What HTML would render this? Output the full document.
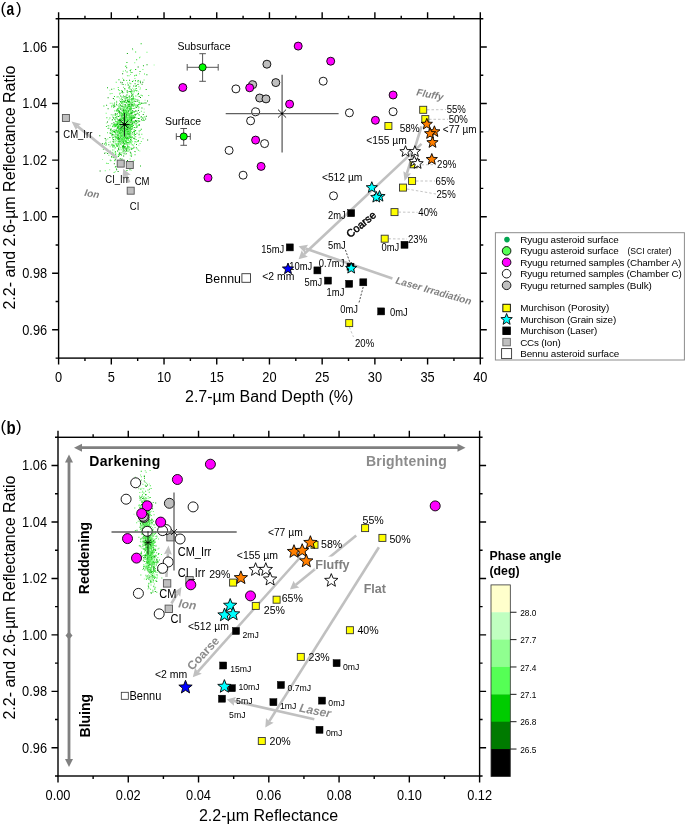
<!DOCTYPE html>
<html><head><meta charset="utf-8"><style>
html,body{margin:0;padding:0;background:#fff;}
svg{display:block;will-change:transform;font-family:"Liberation Sans", sans-serif;}
</style></head><body>
<svg width="685" height="825" viewBox="0 0 685 825">
<rect width="685" height="825" fill="#fff"/>
<path fill="#44ee44" d="M114.09 131.17h1.0v1.0h-1.0zM113.26 139.39h1.0v1.0h-1.0zM115.9 168.3h1.0v1.0h-1.0zM131.26 137.16h1.0v1.0h-1.0zM138.62 101.84h1.0v1.0h-1.0zM126.74 124.93h1.0v1.0h-1.0zM137.87 149.77h1.0v1.0h-1.0zM130.46 106.46h1.0v1.0h-1.0zM123.35 162.98h1.0v1.0h-1.0zM128.85 127.48h1.0v1.0h-1.0zM122.47 113.12h1.0v1.0h-1.0zM122.46 118.13h1.0v1.0h-1.0zM126.74 128.99h1.0v1.0h-1.0zM125.77 130.62h1.0v1.0h-1.0zM123.2 133.83h1.0v1.0h-1.0zM127.05 119.8h1.0v1.0h-1.0zM123.48 135.37h1.0v1.0h-1.0zM118.58 123.84h1.0v1.0h-1.0zM124.53 114.99h1.0v1.0h-1.0zM122.85 145.71h1.0v1.0h-1.0zM121.23 116.96h1.0v1.0h-1.0zM132.72 144.73h1.0v1.0h-1.0zM127.49 118.78h1.0v1.0h-1.0zM141.72 117.42h1.0v1.0h-1.0zM132.08 144.29h1.0v1.0h-1.0zM111.41 156.64h1.0v1.0h-1.0zM121.84 118.04h1.0v1.0h-1.0zM131.36 95.15h1.0v1.0h-1.0zM112.23 116.51h1.0v1.0h-1.0zM126.54 131.39h1.0v1.0h-1.0zM117.75 86.92h1.0v1.0h-1.0zM119.13 107.42h1.0v1.0h-1.0zM133.37 117.86h1.0v1.0h-1.0zM144.01 73.52h1.0v1.0h-1.0zM127.05 124.47h1.0v1.0h-1.0zM119.85 133.26h1.0v1.0h-1.0zM123.12 128.23h1.0v1.0h-1.0zM127.37 131.98h1.0v1.0h-1.0zM129.4 110.14h1.0v1.0h-1.0zM130.36 116.65h1.0v1.0h-1.0zM123.58 104.6h1.0v1.0h-1.0zM125.99 127.96h1.0v1.0h-1.0zM116.12 144.64h1.0v1.0h-1.0zM127.27 139.37h1.0v1.0h-1.0zM124.35 110.23h1.0v1.0h-1.0zM114.5 135.67h1.0v1.0h-1.0zM126.01 128.58h1.0v1.0h-1.0zM118.6 111.68h1.0v1.0h-1.0zM126.16 79.94h1.0v1.0h-1.0zM117.85 121.32h1.0v1.0h-1.0zM125.74 102.18h1.0v1.0h-1.0zM122.66 125.67h1.0v1.0h-1.0zM120.69 135.41h1.0v1.0h-1.0zM127.53 111.03h1.0v1.0h-1.0zM131.12 123.88h1.0v1.0h-1.0zM115.2 130.81h1.0v1.0h-1.0zM128.8 95.14h1.0v1.0h-1.0zM124.94 134.82h1.0v1.0h-1.0zM120.59 137.43h1.0v1.0h-1.0zM109.67 93.16h1.0v1.0h-1.0zM119.58 143.48h1.0v1.0h-1.0zM114.81 124.77h1.0v1.0h-1.0zM125.24 140.24h1.0v1.0h-1.0zM132.77 93.61h1.0v1.0h-1.0zM128.91 123.57h1.0v1.0h-1.0zM131.66 141.16h1.0v1.0h-1.0zM123.32 121.75h1.0v1.0h-1.0zM125.78 135.62h1.0v1.0h-1.0zM137.54 120.07h1.0v1.0h-1.0zM111.3 105.79h1.0v1.0h-1.0zM125.98 125.1h1.0v1.0h-1.0zM141.32 133.66h1.0v1.0h-1.0zM134.81 107.14h1.0v1.0h-1.0zM118.1 124.86h1.0v1.0h-1.0zM121.58 130.88h1.0v1.0h-1.0zM130.21 111.16h1.0v1.0h-1.0zM124.61 116.03h1.0v1.0h-1.0zM120.93 98.17h1.0v1.0h-1.0zM114.81 166.8h1.0v1.0h-1.0zM119.54 135.5h1.0v1.0h-1.0zM127.56 148.27h1.0v1.0h-1.0zM135.83 124.49h1.0v1.0h-1.0zM118.32 130.58h1.0v1.0h-1.0zM115.05 139.37h1.0v1.0h-1.0zM105.92 144.32h1.0v1.0h-1.0zM119.88 125.35h1.0v1.0h-1.0zM119.1 121.94h1.0v1.0h-1.0zM115.84 143.59h1.0v1.0h-1.0zM120.4 139.25h1.0v1.0h-1.0zM128.18 134.35h1.0v1.0h-1.0zM121.01 128.93h1.0v1.0h-1.0zM120.01 127.36h1.0v1.0h-1.0zM138.89 103.71h1.0v1.0h-1.0zM130 112.09h1.0v1.0h-1.0zM137.92 120.96h1.0v1.0h-1.0zM133.65 90.1h1.0v1.0h-1.0zM129.26 97.67h1.0v1.0h-1.0zM136.93 121.7h1.0v1.0h-1.0zM121.46 152.15h1.0v1.0h-1.0zM124.82 115.17h1.0v1.0h-1.0zM131.64 115.41h1.0v1.0h-1.0zM132.21 111.1h1.0v1.0h-1.0zM127.33 101.12h1.0v1.0h-1.0zM119.35 141.19h1.0v1.0h-1.0zM138.59 100.23h1.0v1.0h-1.0zM125.67 148.54h1.0v1.0h-1.0zM121.89 136.35h1.0v1.0h-1.0zM122.36 129.93h1.0v1.0h-1.0zM107.03 132.28h1.0v1.0h-1.0zM131.31 97.97h1.0v1.0h-1.0zM119.9 143.54h1.0v1.0h-1.0zM131.42 125.97h1.0v1.0h-1.0zM124.1 141.16h1.0v1.0h-1.0zM126.55 112.72h1.0v1.0h-1.0zM123.65 125.26h1.0v1.0h-1.0zM114.15 125.32h1.0v1.0h-1.0zM118.26 142.96h1.0v1.0h-1.0zM122.66 124.92h1.0v1.0h-1.0zM124.32 112.45h1.0v1.0h-1.0zM127.55 137.47h1.0v1.0h-1.0zM119.44 152.32h1.0v1.0h-1.0zM125.49 129.54h1.0v1.0h-1.0zM120.65 149.23h1.0v1.0h-1.0zM116.06 144.2h1.0v1.0h-1.0zM120.58 114.04h1.0v1.0h-1.0zM129.37 96.76h1.0v1.0h-1.0zM124.94 137.04h1.0v1.0h-1.0zM125.25 113.57h1.0v1.0h-1.0zM131.08 118.65h1.0v1.0h-1.0zM135.21 136.22h1.0v1.0h-1.0zM117.64 111.13h1.0v1.0h-1.0zM115.49 142.9h1.0v1.0h-1.0zM134.62 140.94h1.0v1.0h-1.0zM124.4 107.05h1.0v1.0h-1.0zM120.72 141.2h1.0v1.0h-1.0zM124.9 108.72h1.0v1.0h-1.0zM133.72 118.11h1.0v1.0h-1.0zM134.41 138.74h1.0v1.0h-1.0zM124.94 113h1.0v1.0h-1.0zM123.68 132.53h1.0v1.0h-1.0zM128.22 123.74h1.0v1.0h-1.0zM132.93 98.14h1.0v1.0h-1.0zM121.58 136.34h1.0v1.0h-1.0zM127.85 138.62h1.0v1.0h-1.0zM129.73 125.22h1.0v1.0h-1.0zM117.99 137.03h1.0v1.0h-1.0zM117.48 143.4h1.0v1.0h-1.0zM112.72 130.63h1.0v1.0h-1.0zM120.17 124.51h1.0v1.0h-1.0zM130.33 83.25h1.0v1.0h-1.0zM138.38 86.37h1.0v1.0h-1.0zM127.55 114.54h1.0v1.0h-1.0zM141.91 95.17h1.0v1.0h-1.0zM122.92 130.05h1.0v1.0h-1.0zM127.06 100.1h1.0v1.0h-1.0zM128.97 140.81h1.0v1.0h-1.0zM119.1 120.12h1.0v1.0h-1.0zM115.73 81.71h1.0v1.0h-1.0zM110.98 128.54h1.0v1.0h-1.0zM123.02 108.43h1.0v1.0h-1.0zM129.27 82.42h1.0v1.0h-1.0zM126.6 123.51h1.0v1.0h-1.0zM126.77 113.89h1.0v1.0h-1.0zM117.99 124.91h1.0v1.0h-1.0zM128.21 139.95h1.0v1.0h-1.0zM127.38 106.61h1.0v1.0h-1.0zM118.88 132.32h1.0v1.0h-1.0zM128.27 128.89h1.0v1.0h-1.0zM112.22 149.6h1.0v1.0h-1.0zM130.8 107.68h1.0v1.0h-1.0zM131.11 90.86h1.0v1.0h-1.0zM129.65 128.62h1.0v1.0h-1.0zM117.91 155.42h1.0v1.0h-1.0zM113.22 153.61h1.0v1.0h-1.0zM139.62 102.52h1.0v1.0h-1.0zM135.75 139.08h1.0v1.0h-1.0zM114.31 156.21h1.0v1.0h-1.0zM114.41 134.43h1.0v1.0h-1.0zM133.81 91.14h1.0v1.0h-1.0zM124.01 115.24h1.0v1.0h-1.0zM123.46 132.85h1.0v1.0h-1.0zM117.67 143.49h1.0v1.0h-1.0zM132.88 114.97h1.0v1.0h-1.0zM131.79 136.44h1.0v1.0h-1.0zM129.45 132.74h1.0v1.0h-1.0zM129.78 127.47h1.0v1.0h-1.0zM122.05 138.7h1.0v1.0h-1.0zM120.57 118.27h1.0v1.0h-1.0zM121.8 114.38h1.0v1.0h-1.0zM127.66 114.99h1.0v1.0h-1.0zM124.52 124.12h1.0v1.0h-1.0zM131.17 139.5h1.0v1.0h-1.0zM126.64 97.49h1.0v1.0h-1.0zM134.84 88.38h1.0v1.0h-1.0zM121.69 134.75h1.0v1.0h-1.0zM132.25 120.98h1.0v1.0h-1.0zM125.2 122.46h1.0v1.0h-1.0zM117.42 134.76h1.0v1.0h-1.0zM126.51 131.03h1.0v1.0h-1.0zM126.24 122.8h1.0v1.0h-1.0z"/><path fill="#00a000" d="M125.84 118.43h1.0v1.0h-1.0zM120.04 129.71h1.0v1.0h-1.0zM122.95 127.2h1.0v1.0h-1.0zM131.73 118.48h1.0v1.0h-1.0zM120.26 81.86h1.0v1.0h-1.0zM134.1 137.78h1.0v1.0h-1.0zM117.61 131.11h1.0v1.0h-1.0zM126.87 53.08h1.0v1.0h-1.0zM127.03 159.93h1.0v1.0h-1.0zM131.58 97.89h1.0v1.0h-1.0zM123.26 119.82h1.0v1.0h-1.0zM128.58 115.64h1.0v1.0h-1.0zM122.28 127.5h1.0v1.0h-1.0zM131.17 95.74h1.0v1.0h-1.0zM127.73 125.56h1.0v1.0h-1.0zM123.28 123.92h1.0v1.0h-1.0zM132.72 104.52h1.0v1.0h-1.0zM117.24 132.28h1.0v1.0h-1.0zM114.03 130.98h1.0v1.0h-1.0zM116.86 122.56h1.0v1.0h-1.0zM145.92 115.85h1.0v1.0h-1.0zM125.22 117.75h1.0v1.0h-1.0zM131.76 128.13h1.0v1.0h-1.0zM116.96 137.16h1.0v1.0h-1.0zM131.53 136.74h1.0v1.0h-1.0zM111.03 156.15h1.0v1.0h-1.0zM126.44 147.78h1.0v1.0h-1.0zM124.1 88.27h1.0v1.0h-1.0zM128.84 101.1h1.0v1.0h-1.0zM128.2 110.84h1.0v1.0h-1.0zM123.28 109.05h1.0v1.0h-1.0zM125.65 116.59h1.0v1.0h-1.0zM120.35 135.4h1.0v1.0h-1.0zM122.81 124.2h1.0v1.0h-1.0zM120.45 125.45h1.0v1.0h-1.0zM129.49 122.4h1.0v1.0h-1.0zM146.53 64.19h1.0v1.0h-1.0zM135.44 120.47h1.0v1.0h-1.0zM123.06 124.57h1.0v1.0h-1.0zM126.49 139.12h1.0v1.0h-1.0zM129.58 131.33h1.0v1.0h-1.0zM127.06 129.47h1.0v1.0h-1.0zM127.69 84.56h1.0v1.0h-1.0zM120.95 129.42h1.0v1.0h-1.0zM122.5 121.57h1.0v1.0h-1.0zM126.29 137.68h1.0v1.0h-1.0zM116.78 122.72h1.0v1.0h-1.0zM120.33 161.65h1.0v1.0h-1.0zM131.99 48.38h1.0v1.0h-1.0zM126.29 132.67h1.0v1.0h-1.0zM129.36 115.4h1.0v1.0h-1.0zM127.09 124.35h1.0v1.0h-1.0zM121.61 142.83h1.0v1.0h-1.0zM125.74 124.22h1.0v1.0h-1.0zM116.01 103.83h1.0v1.0h-1.0zM114.41 123.51h1.0v1.0h-1.0zM128.39 130.93h1.0v1.0h-1.0zM125.09 140.39h1.0v1.0h-1.0zM124.4 120.98h1.0v1.0h-1.0zM145.52 102.4h1.0v1.0h-1.0zM117.82 144.34h1.0v1.0h-1.0zM121.4 135.49h1.0v1.0h-1.0zM126.05 117.04h1.0v1.0h-1.0zM123.65 127.5h1.0v1.0h-1.0zM127.33 127.39h1.0v1.0h-1.0zM133.22 85.61h1.0v1.0h-1.0zM131.55 104.27h1.0v1.0h-1.0zM123.41 128.33h1.0v1.0h-1.0zM125.85 123.5h1.0v1.0h-1.0zM111.54 135.22h1.0v1.0h-1.0zM134.03 121h1.0v1.0h-1.0zM121.03 154.56h1.0v1.0h-1.0zM107.61 108.19h1.0v1.0h-1.0zM125.56 127.66h1.0v1.0h-1.0zM120.31 124.31h1.0v1.0h-1.0zM119.88 137.23h1.0v1.0h-1.0zM114.35 105.84h1.0v1.0h-1.0zM125.53 109.21h1.0v1.0h-1.0zM123.83 143.83h1.0v1.0h-1.0zM131.59 98.9h1.0v1.0h-1.0zM126.5 141.97h1.0v1.0h-1.0zM117.19 124.02h1.0v1.0h-1.0zM129.07 79.63h1.0v1.0h-1.0zM124.91 136.21h1.0v1.0h-1.0zM126.48 131.13h1.0v1.0h-1.0zM125.91 118.73h1.0v1.0h-1.0zM113.2 117.34h1.0v1.0h-1.0zM139.16 120.68h1.0v1.0h-1.0zM126.17 67.21h1.0v1.0h-1.0zM112.04 145.59h1.0v1.0h-1.0zM119.48 92.8h1.0v1.0h-1.0zM121.02 102.71h1.0v1.0h-1.0zM120.52 128.77h1.0v1.0h-1.0zM131.76 94.25h1.0v1.0h-1.0zM131.16 126.18h1.0v1.0h-1.0zM141.6 83.77h1.0v1.0h-1.0zM124.98 140.51h1.0v1.0h-1.0zM127.53 137.18h1.0v1.0h-1.0zM120.65 123.94h1.0v1.0h-1.0zM131.35 103.26h1.0v1.0h-1.0zM118.66 141.46h1.0v1.0h-1.0zM124.19 116.63h1.0v1.0h-1.0zM131.55 94.57h1.0v1.0h-1.0zM114.27 126.21h1.0v1.0h-1.0zM135.22 110.38h1.0v1.0h-1.0zM129.72 102.62h1.0v1.0h-1.0zM125.93 114.07h1.0v1.0h-1.0zM120.03 123.43h1.0v1.0h-1.0zM128.93 126.69h1.0v1.0h-1.0zM113.37 122.37h1.0v1.0h-1.0zM128.91 134.26h1.0v1.0h-1.0zM129.38 137.33h1.0v1.0h-1.0zM124.4 119.56h1.0v1.0h-1.0zM119.51 114.64h1.0v1.0h-1.0zM131.88 126.34h1.0v1.0h-1.0zM116.16 101.43h1.0v1.0h-1.0zM124.62 123.57h1.0v1.0h-1.0zM111.21 88.76h1.0v1.0h-1.0zM125.87 97.2h1.0v1.0h-1.0zM124.62 151.31h1.0v1.0h-1.0zM129.78 127.09h1.0v1.0h-1.0zM142.75 113.93h1.0v1.0h-1.0zM125.08 100.33h1.0v1.0h-1.0zM122.29 92.29h1.0v1.0h-1.0zM111.18 156.18h1.0v1.0h-1.0zM131.16 120.03h1.0v1.0h-1.0zM122.9 148.42h1.0v1.0h-1.0zM143.49 120.1h1.0v1.0h-1.0zM128.8 105.53h1.0v1.0h-1.0zM121.48 113.8h1.0v1.0h-1.0zM130.65 108.92h1.0v1.0h-1.0zM121.25 160.14h1.0v1.0h-1.0zM113.6 129.57h1.0v1.0h-1.0zM112.9 141.52h1.0v1.0h-1.0zM127.44 100.68h1.0v1.0h-1.0zM133.84 132.68h1.0v1.0h-1.0zM134.39 114.02h1.0v1.0h-1.0zM119.96 104.7h1.0v1.0h-1.0zM133.58 116.64h1.0v1.0h-1.0zM131.13 128.51h1.0v1.0h-1.0zM119.9 120.14h1.0v1.0h-1.0zM126.69 136.47h1.0v1.0h-1.0zM122.8 124.42h1.0v1.0h-1.0zM123.55 111.53h1.0v1.0h-1.0zM128.28 119.18h1.0v1.0h-1.0zM134.33 121.56h1.0v1.0h-1.0zM126.34 137.11h1.0v1.0h-1.0zM124.08 149.64h1.0v1.0h-1.0zM133.44 107.93h1.0v1.0h-1.0zM115.71 129.15h1.0v1.0h-1.0zM107.15 152.89h1.0v1.0h-1.0zM124.17 136.24h1.0v1.0h-1.0zM126.68 90.17h1.0v1.0h-1.0zM134.85 119.9h1.0v1.0h-1.0zM122.25 114.19h1.0v1.0h-1.0zM115.56 133.83h1.0v1.0h-1.0zM130.87 148.68h1.0v1.0h-1.0zM137.86 109.99h1.0v1.0h-1.0zM130.07 120.07h1.0v1.0h-1.0zM138.71 124.35h1.0v1.0h-1.0zM123.3 101.09h1.0v1.0h-1.0zM136.23 126.75h1.0v1.0h-1.0zM118.6 121.08h1.0v1.0h-1.0zM107.61 97.26h1.0v1.0h-1.0zM147.04 100.5h1.0v1.0h-1.0zM126.16 118.64h1.0v1.0h-1.0zM122.49 147.12h1.0v1.0h-1.0zM111.5 143.85h1.0v1.0h-1.0zM138.59 134.29h1.0v1.0h-1.0zM111.87 119.13h1.0v1.0h-1.0zM137.49 83.9h1.0v1.0h-1.0zM116.79 113.23h1.0v1.0h-1.0zM117.3 120.78h1.0v1.0h-1.0zM121.43 96.6h1.0v1.0h-1.0zM124.93 128.26h1.0v1.0h-1.0zM117.89 116.05h1.0v1.0h-1.0zM141.44 107.52h1.0v1.0h-1.0zM117.91 110.21h1.0v1.0h-1.0zM118.3 128.76h1.0v1.0h-1.0zM128.65 86.85h1.0v1.0h-1.0zM119.13 111.05h1.0v1.0h-1.0zM118.29 134.58h1.0v1.0h-1.0zM127.13 141.91h1.0v1.0h-1.0zM130.84 124.77h1.0v1.0h-1.0zM119.58 135.96h1.0v1.0h-1.0zM120.41 136.04h1.0v1.0h-1.0zM117.15 136.5h1.0v1.0h-1.0zM112.82 138.88h1.0v1.0h-1.0zM123.19 110h1.0v1.0h-1.0zM124.65 103.89h1.0v1.0h-1.0zM103.85 143.4h1.0v1.0h-1.0zM123.42 113.41h1.0v1.0h-1.0zM119.37 120.18h1.0v1.0h-1.0zM118.92 154.6h1.0v1.0h-1.0zM126.83 144.51h1.0v1.0h-1.0zM124.99 130.08h1.0v1.0h-1.0zM130.57 124.63h1.0v1.0h-1.0zM128.09 101.15h1.0v1.0h-1.0zM124.63 146.78h1.0v1.0h-1.0zM108.33 144.18h1.0v1.0h-1.0z"/><path fill="#00c000" d="M126.42 61.99h1.0v1.0h-1.0zM127.98 104.14h1.0v1.0h-1.0zM124.82 135.87h1.0v1.0h-1.0zM123.64 144.28h1.0v1.0h-1.0zM145.68 89.12h1.0v1.0h-1.0zM115.9 125.27h1.0v1.0h-1.0zM117.48 138.41h1.0v1.0h-1.0zM133.93 135.25h1.0v1.0h-1.0zM107.72 150.98h1.0v1.0h-1.0zM127.44 146.89h1.0v1.0h-1.0zM113.04 105.22h1.0v1.0h-1.0zM125.1 134.71h1.0v1.0h-1.0zM127.81 130.6h1.0v1.0h-1.0zM127.03 99.64h1.0v1.0h-1.0zM128.97 104.26h1.0v1.0h-1.0zM120.03 133.42h1.0v1.0h-1.0zM126.38 124.52h1.0v1.0h-1.0zM128.74 123.93h1.0v1.0h-1.0zM123.4 118.08h1.0v1.0h-1.0zM131.94 81.05h1.0v1.0h-1.0zM107.69 125.15h1.0v1.0h-1.0zM124.24 131.55h1.0v1.0h-1.0zM120.95 121.39h1.0v1.0h-1.0zM118.44 79.26h1.0v1.0h-1.0zM129.66 112.86h1.0v1.0h-1.0zM117.11 136.82h1.0v1.0h-1.0zM124.01 96.08h1.0v1.0h-1.0zM127.18 133.68h1.0v1.0h-1.0zM111.43 123.16h1.0v1.0h-1.0zM126.6 127.07h1.0v1.0h-1.0zM115.13 154.15h1.0v1.0h-1.0zM118.71 152.39h1.0v1.0h-1.0zM137.79 139.92h1.0v1.0h-1.0zM122.01 125.76h1.0v1.0h-1.0zM126.46 169.98h1.0v1.0h-1.0zM138.11 117.96h1.0v1.0h-1.0zM128.7 106.22h1.0v1.0h-1.0zM123.08 117.59h1.0v1.0h-1.0zM113.25 106.64h1.0v1.0h-1.0zM120.96 119.18h1.0v1.0h-1.0zM127.75 130.11h1.0v1.0h-1.0zM130.41 118.65h1.0v1.0h-1.0zM121.42 105.91h1.0v1.0h-1.0zM124.76 136.77h1.0v1.0h-1.0zM124.07 120.11h1.0v1.0h-1.0zM121.74 110.41h1.0v1.0h-1.0zM125.78 115.51h1.0v1.0h-1.0zM128.39 119.7h1.0v1.0h-1.0zM122.07 138.59h1.0v1.0h-1.0zM130.1 126.17h1.0v1.0h-1.0zM121.09 128.18h1.0v1.0h-1.0zM118.68 130.37h1.0v1.0h-1.0zM106.08 148.58h1.0v1.0h-1.0zM128.57 101.9h1.0v1.0h-1.0zM118.98 139.7h1.0v1.0h-1.0zM125.99 150.28h1.0v1.0h-1.0zM125.22 135.73h1.0v1.0h-1.0zM136.01 143.89h1.0v1.0h-1.0zM128.16 113.11h1.0v1.0h-1.0zM135.16 68.93h1.0v1.0h-1.0zM127.23 111.89h1.0v1.0h-1.0zM125.29 99.56h1.0v1.0h-1.0zM129.33 127.7h1.0v1.0h-1.0zM110.06 128.7h1.0v1.0h-1.0zM133.49 130.77h1.0v1.0h-1.0zM114.27 159.74h1.0v1.0h-1.0zM127.17 118.64h1.0v1.0h-1.0zM140.65 43.35h1.0v1.0h-1.0zM126.97 119h1.0v1.0h-1.0zM131.93 117.18h1.0v1.0h-1.0zM119.87 119.68h1.0v1.0h-1.0zM134.06 131.28h1.0v1.0h-1.0zM121.54 133.43h1.0v1.0h-1.0zM118.87 110.38h1.0v1.0h-1.0zM132.01 132.32h1.0v1.0h-1.0zM129.39 108.83h1.0v1.0h-1.0zM116.62 130.2h1.0v1.0h-1.0zM113.68 103.8h1.0v1.0h-1.0zM128.51 137.84h1.0v1.0h-1.0zM123.57 119.45h1.0v1.0h-1.0zM122.49 147.83h1.0v1.0h-1.0zM118.22 121.54h1.0v1.0h-1.0zM125.57 148.76h1.0v1.0h-1.0zM121.04 127.88h1.0v1.0h-1.0zM129.7 69.89h1.0v1.0h-1.0zM105.29 141.64h1.0v1.0h-1.0zM127.87 127.06h1.0v1.0h-1.0zM121.32 115.23h1.0v1.0h-1.0zM133.69 100.5h1.0v1.0h-1.0zM121.03 138.22h1.0v1.0h-1.0zM123.26 135.73h1.0v1.0h-1.0zM121.63 124.43h1.0v1.0h-1.0zM129.79 91h1.0v1.0h-1.0zM132.32 122.35h1.0v1.0h-1.0zM120.08 127.98h1.0v1.0h-1.0zM133.82 111.44h1.0v1.0h-1.0zM134.87 114.26h1.0v1.0h-1.0zM129.35 85.82h1.0v1.0h-1.0zM141.3 102.4h1.0v1.0h-1.0zM125.53 138.36h1.0v1.0h-1.0zM120.3 144h1.0v1.0h-1.0zM142.42 117.48h1.0v1.0h-1.0zM118.5 106.17h1.0v1.0h-1.0zM117.73 137.03h1.0v1.0h-1.0zM137.91 92.95h1.0v1.0h-1.0zM128.99 104.68h1.0v1.0h-1.0zM129.6 131.66h1.0v1.0h-1.0zM125.44 136.19h1.0v1.0h-1.0zM121.57 138.49h1.0v1.0h-1.0zM121.1 131.49h1.0v1.0h-1.0zM124.56 123.05h1.0v1.0h-1.0zM131.78 148.23h1.0v1.0h-1.0zM124.41 119.3h1.0v1.0h-1.0zM121.53 158.38h1.0v1.0h-1.0zM125.58 143.42h1.0v1.0h-1.0zM125.37 131.15h1.0v1.0h-1.0zM120.39 107.7h1.0v1.0h-1.0zM132.45 116.13h1.0v1.0h-1.0zM131.65 104.83h1.0v1.0h-1.0zM137.5 141h1.0v1.0h-1.0zM129 114.38h1.0v1.0h-1.0zM122.97 95.4h1.0v1.0h-1.0zM138.69 124.47h1.0v1.0h-1.0zM140.77 128.65h1.0v1.0h-1.0zM116.56 135.58h1.0v1.0h-1.0zM121.82 115.27h1.0v1.0h-1.0zM137.81 118.08h1.0v1.0h-1.0zM118.27 126.02h1.0v1.0h-1.0zM120.58 134.83h1.0v1.0h-1.0zM122.77 132.88h1.0v1.0h-1.0zM122.15 146.4h1.0v1.0h-1.0zM123.68 117.93h1.0v1.0h-1.0zM126.07 150.58h1.0v1.0h-1.0zM124.1 139.67h1.0v1.0h-1.0zM134.03 126.88h1.0v1.0h-1.0zM105.51 139.48h1.0v1.0h-1.0zM122.15 123.05h1.0v1.0h-1.0zM131.58 116.1h1.0v1.0h-1.0zM118.27 148.98h1.0v1.0h-1.0zM125.18 105.85h1.0v1.0h-1.0zM126.88 113.53h1.0v1.0h-1.0zM116.88 126.98h1.0v1.0h-1.0zM131.02 92.85h1.0v1.0h-1.0zM129.59 116.84h1.0v1.0h-1.0zM130.19 117.58h1.0v1.0h-1.0zM117.85 155.9h1.0v1.0h-1.0zM127.49 131.19h1.0v1.0h-1.0zM134.25 130.44h1.0v1.0h-1.0zM124.45 145.88h1.0v1.0h-1.0zM125.74 111.48h1.0v1.0h-1.0zM125.13 118.78h1.0v1.0h-1.0zM135.85 147.29h1.0v1.0h-1.0zM121.11 118.08h1.0v1.0h-1.0zM114.98 151.05h1.0v1.0h-1.0zM125.7 110.41h1.0v1.0h-1.0zM109.36 136.88h1.0v1.0h-1.0zM116.54 118.37h1.0v1.0h-1.0zM120.1 95.62h1.0v1.0h-1.0zM115.2 125.6h1.0v1.0h-1.0zM136.54 126.16h1.0v1.0h-1.0zM130.75 121h1.0v1.0h-1.0zM122.19 145.43h1.0v1.0h-1.0zM139.52 70.99h1.0v1.0h-1.0zM120.51 120.23h1.0v1.0h-1.0zM118.68 112.03h1.0v1.0h-1.0zM129.75 113.83h1.0v1.0h-1.0zM117.97 125.79h1.0v1.0h-1.0zM123.03 142.63h1.0v1.0h-1.0zM129.33 103.66h1.0v1.0h-1.0zM123.97 143.06h1.0v1.0h-1.0zM128.75 103.78h1.0v1.0h-1.0zM123.82 131.02h1.0v1.0h-1.0zM113.01 124.6h1.0v1.0h-1.0zM129.87 106.43h1.0v1.0h-1.0zM130.08 141.46h1.0v1.0h-1.0zM126.35 127.68h1.0v1.0h-1.0zM115.88 129.93h1.0v1.0h-1.0zM126.56 71.61h1.0v1.0h-1.0zM128.58 114.27h1.0v1.0h-1.0z"/><path fill="#008800" d="M130.68 89.19h1.0v1.0h-1.0zM122.95 142.48h1.0v1.0h-1.0zM133.95 121.3h1.0v1.0h-1.0zM123.29 100.65h1.0v1.0h-1.0zM124.86 104.87h1.0v1.0h-1.0zM136.22 90.26h1.0v1.0h-1.0zM130.21 133.6h1.0v1.0h-1.0zM140.81 116.21h1.0v1.0h-1.0zM122.2 134.03h1.0v1.0h-1.0zM120.32 125.5h1.0v1.0h-1.0zM127.68 132.5h1.0v1.0h-1.0zM117.08 134.11h1.0v1.0h-1.0zM112.65 154.15h1.0v1.0h-1.0zM129.27 136.8h1.0v1.0h-1.0zM123.91 115.86h1.0v1.0h-1.0zM123.15 114.69h1.0v1.0h-1.0zM128.57 135.9h1.0v1.0h-1.0zM133.39 120.75h1.0v1.0h-1.0zM101.9 143.25h1.0v1.0h-1.0zM113.6 157h1.0v1.0h-1.0zM120.14 108.66h1.0v1.0h-1.0zM125.12 133.72h1.0v1.0h-1.0zM128.21 125.95h1.0v1.0h-1.0zM132.84 117.49h1.0v1.0h-1.0zM118.04 138.84h1.0v1.0h-1.0zM122.03 130.09h1.0v1.0h-1.0zM121.84 82.37h1.0v1.0h-1.0zM120.22 164.56h1.0v1.0h-1.0zM127.16 133.4h1.0v1.0h-1.0zM120.8 116.34h1.0v1.0h-1.0zM122.89 149.63h1.0v1.0h-1.0zM117.69 136.68h1.0v1.0h-1.0zM104.13 152.68h1.0v1.0h-1.0zM119.81 118.61h1.0v1.0h-1.0zM123.51 106.27h1.0v1.0h-1.0zM128.15 136.9h1.0v1.0h-1.0zM117.2 119.12h1.0v1.0h-1.0zM104.71 138.07h1.0v1.0h-1.0zM109.83 159.77h1.0v1.0h-1.0zM126.87 91.8h1.0v1.0h-1.0zM110.38 129.67h1.0v1.0h-1.0zM139.97 97.02h1.0v1.0h-1.0zM131.34 114.44h1.0v1.0h-1.0zM123.15 155.38h1.0v1.0h-1.0zM122.75 112.96h1.0v1.0h-1.0zM118.76 129.46h1.0v1.0h-1.0zM127.21 101.06h1.0v1.0h-1.0zM112.86 98.05h1.0v1.0h-1.0zM134.51 151.02h1.0v1.0h-1.0zM126.19 125.71h1.0v1.0h-1.0zM132.18 124.27h1.0v1.0h-1.0zM133.83 116.63h1.0v1.0h-1.0zM128.84 136.53h1.0v1.0h-1.0zM120.23 121.79h1.0v1.0h-1.0zM141.35 102.93h1.0v1.0h-1.0zM122.15 106.3h1.0v1.0h-1.0zM117.82 119.64h1.0v1.0h-1.0zM130.71 119.4h1.0v1.0h-1.0zM119.23 112.81h1.0v1.0h-1.0zM123.1 109.87h1.0v1.0h-1.0zM119.33 153.32h1.0v1.0h-1.0zM128.79 125.37h1.0v1.0h-1.0zM117.61 135.53h1.0v1.0h-1.0zM129.48 108.16h1.0v1.0h-1.0zM126.91 112.95h1.0v1.0h-1.0zM124.13 120.2h1.0v1.0h-1.0zM119.72 158.33h1.0v1.0h-1.0zM128.42 125.55h1.0v1.0h-1.0zM138.33 120.71h1.0v1.0h-1.0zM128.6 116.94h1.0v1.0h-1.0zM125.4 117.45h1.0v1.0h-1.0zM107.01 121.42h1.0v1.0h-1.0zM131.33 112.59h1.0v1.0h-1.0zM123.95 132.34h1.0v1.0h-1.0zM120.71 141.47h1.0v1.0h-1.0zM131.49 90.49h1.0v1.0h-1.0zM126.46 111.42h1.0v1.0h-1.0zM123.48 161.46h1.0v1.0h-1.0zM125.6 114.47h1.0v1.0h-1.0zM120.28 125.53h1.0v1.0h-1.0zM119.56 121.74h1.0v1.0h-1.0zM130.85 117.27h1.0v1.0h-1.0zM132.15 109.97h1.0v1.0h-1.0zM116.15 169.32h1.0v1.0h-1.0zM141.11 119.17h1.0v1.0h-1.0zM124.7 111.25h1.0v1.0h-1.0zM124.42 130.68h1.0v1.0h-1.0zM122.83 118.98h1.0v1.0h-1.0zM145.12 118.48h1.0v1.0h-1.0zM124.74 117.38h1.0v1.0h-1.0zM121.56 109.52h1.0v1.0h-1.0zM121.87 126.05h1.0v1.0h-1.0zM130.96 128.99h1.0v1.0h-1.0zM117.46 122.43h1.0v1.0h-1.0zM118.16 160.43h1.0v1.0h-1.0zM125.34 128h1.0v1.0h-1.0zM122.36 131.16h1.0v1.0h-1.0zM130.28 91.67h1.0v1.0h-1.0zM119.59 119.94h1.0v1.0h-1.0zM148.61 104.35h1.0v1.0h-1.0zM116.05 131.32h1.0v1.0h-1.0zM123.62 122.73h1.0v1.0h-1.0zM132.26 122.79h1.0v1.0h-1.0zM116.07 137.04h1.0v1.0h-1.0zM128.83 101.54h1.0v1.0h-1.0zM127.53 125.89h1.0v1.0h-1.0zM117.85 127.41h1.0v1.0h-1.0zM122.15 73.13h1.0v1.0h-1.0zM122.55 83.98h1.0v1.0h-1.0zM116.02 121.02h1.0v1.0h-1.0zM117.13 138.16h1.0v1.0h-1.0zM122.54 145.96h1.0v1.0h-1.0zM117.17 145.45h1.0v1.0h-1.0zM121.92 91.12h1.0v1.0h-1.0zM117.72 141.13h1.0v1.0h-1.0zM122.88 140.96h1.0v1.0h-1.0zM117.27 137.68h1.0v1.0h-1.0zM112.53 140.94h1.0v1.0h-1.0zM128.04 113.22h1.0v1.0h-1.0zM135.97 120.72h1.0v1.0h-1.0zM126.27 112.52h1.0v1.0h-1.0zM126.38 94.58h1.0v1.0h-1.0zM117.62 171h1.0v1.0h-1.0zM124.34 119.26h1.0v1.0h-1.0zM135.31 101.08h1.0v1.0h-1.0zM124.02 125.29h1.0v1.0h-1.0zM128.61 134.56h1.0v1.0h-1.0zM125.32 130.44h1.0v1.0h-1.0zM124.22 118.08h1.0v1.0h-1.0zM117.97 148.33h1.0v1.0h-1.0zM116.49 124.37h1.0v1.0h-1.0zM130.32 124.17h1.0v1.0h-1.0zM134.93 80.16h1.0v1.0h-1.0zM119.71 119.84h1.0v1.0h-1.0zM126.44 129.08h1.0v1.0h-1.0zM126.68 162.19h1.0v1.0h-1.0zM123.01 140.57h1.0v1.0h-1.0zM118.66 119.52h1.0v1.0h-1.0zM129.6 128.8h1.0v1.0h-1.0zM136.91 104.85h1.0v1.0h-1.0zM125.71 138.04h1.0v1.0h-1.0zM128.85 114.53h1.0v1.0h-1.0zM124.35 146.62h1.0v1.0h-1.0zM99.6 170.52h1.0v1.0h-1.0zM137.3 99.46h1.0v1.0h-1.0zM127.04 137.27h1.0v1.0h-1.0zM129.46 107.68h1.0v1.0h-1.0zM128.66 96.18h1.0v1.0h-1.0zM124.58 134.12h1.0v1.0h-1.0zM123.51 111.72h1.0v1.0h-1.0zM128.17 104.12h1.0v1.0h-1.0zM119.21 130.68h1.0v1.0h-1.0zM118.95 137.74h1.0v1.0h-1.0zM119.12 153.44h1.0v1.0h-1.0zM125.74 109.98h1.0v1.0h-1.0zM119.26 118.82h1.0v1.0h-1.0zM131.08 121.61h1.0v1.0h-1.0zM124.5 96.5h1.0v1.0h-1.0zM123.55 152.83h1.0v1.0h-1.0zM133.93 104.23h1.0v1.0h-1.0zM137.66 66.62h1.0v1.0h-1.0zM113.85 163.19h1.0v1.0h-1.0zM139.95 82.26h1.0v1.0h-1.0zM133.43 146.78h1.0v1.0h-1.0zM130.82 112.65h1.0v1.0h-1.0zM121.35 131.1h1.0v1.0h-1.0zM121.2 105.61h1.0v1.0h-1.0zM125.78 149.5h1.0v1.0h-1.0zM114.69 113.77h1.0v1.0h-1.0zM120.46 130.49h1.0v1.0h-1.0zM119.11 122.14h1.0v1.0h-1.0zM130.97 114.93h1.0v1.0h-1.0zM142.28 81.68h1.0v1.0h-1.0zM135.62 113.69h1.0v1.0h-1.0zM122.15 107.99h1.0v1.0h-1.0zM126.94 107.36h1.0v1.0h-1.0zM123.46 139.54h1.0v1.0h-1.0zM147.14 139.41h1.0v1.0h-1.0z"/><path fill="#00b000" d="M99.27 135.21h1.0v1.0h-1.0zM117.58 109.19h1.0v1.0h-1.0zM129.82 151.75h1.0v1.0h-1.0zM128.08 111.42h1.0v1.0h-1.0zM123.66 135.93h1.0v1.0h-1.0zM115.13 158.68h1.0v1.0h-1.0zM112.68 134.3h1.0v1.0h-1.0zM125.79 134.41h1.0v1.0h-1.0zM130.19 121.81h1.0v1.0h-1.0zM127.99 142.1h1.0v1.0h-1.0zM136.15 106.99h1.0v1.0h-1.0zM127.43 99.59h1.0v1.0h-1.0zM121.22 140.37h1.0v1.0h-1.0zM131.31 112.43h1.0v1.0h-1.0zM135.84 89.99h1.0v1.0h-1.0zM131.24 124.85h1.0v1.0h-1.0zM130.92 111.84h1.0v1.0h-1.0zM115.15 136.76h1.0v1.0h-1.0zM114.66 136.57h1.0v1.0h-1.0zM130.63 105.64h1.0v1.0h-1.0zM126.13 121.04h1.0v1.0h-1.0zM126.88 137.53h1.0v1.0h-1.0zM126.28 115h1.0v1.0h-1.0zM133.6 116.43h1.0v1.0h-1.0zM127.18 106.99h1.0v1.0h-1.0zM133.83 122.21h1.0v1.0h-1.0zM127.22 113.42h1.0v1.0h-1.0zM121.75 99.09h1.0v1.0h-1.0zM120.46 131.65h1.0v1.0h-1.0zM119.79 124.57h1.0v1.0h-1.0zM127.68 129.69h1.0v1.0h-1.0zM122.03 113.49h1.0v1.0h-1.0zM127.61 103.73h1.0v1.0h-1.0zM130.43 130.79h1.0v1.0h-1.0zM122.08 119.93h1.0v1.0h-1.0zM121.35 141.5h1.0v1.0h-1.0zM125 132.12h1.0v1.0h-1.0zM118.89 132.19h1.0v1.0h-1.0zM106.12 104.72h1.0v1.0h-1.0zM112.44 136.92h1.0v1.0h-1.0zM125.77 153.33h1.0v1.0h-1.0zM117.25 108.3h1.0v1.0h-1.0zM116.97 150.62h1.0v1.0h-1.0zM135.34 120.53h1.0v1.0h-1.0zM136.88 112.79h1.0v1.0h-1.0zM124.21 132.21h1.0v1.0h-1.0zM144.35 102.39h1.0v1.0h-1.0zM129.07 149.26h1.0v1.0h-1.0zM135.46 110.51h1.0v1.0h-1.0zM128.91 113.74h1.0v1.0h-1.0zM119.8 140.45h1.0v1.0h-1.0zM121.1 139.34h1.0v1.0h-1.0zM116.7 128.08h1.0v1.0h-1.0zM117.52 134.49h1.0v1.0h-1.0zM122.79 141.78h1.0v1.0h-1.0zM134.65 104.44h1.0v1.0h-1.0zM114.36 119.07h1.0v1.0h-1.0zM111.99 134.03h1.0v1.0h-1.0zM126.27 124.45h1.0v1.0h-1.0zM127.13 107.87h1.0v1.0h-1.0zM129.04 128.56h1.0v1.0h-1.0zM116.33 109.57h1.0v1.0h-1.0zM132.07 112.15h1.0v1.0h-1.0zM132.56 98.38h1.0v1.0h-1.0zM125.16 124.93h1.0v1.0h-1.0zM126.34 119.51h1.0v1.0h-1.0zM133.09 137.72h1.0v1.0h-1.0zM124.57 133.85h1.0v1.0h-1.0zM124.32 101.74h1.0v1.0h-1.0zM127.94 105.6h1.0v1.0h-1.0zM131.43 72.11h1.0v1.0h-1.0zM124.3 146.85h1.0v1.0h-1.0zM134.1 101.07h1.0v1.0h-1.0zM127.89 138.27h1.0v1.0h-1.0zM131.75 123.29h1.0v1.0h-1.0zM123.41 128.51h1.0v1.0h-1.0zM124.44 129.73h1.0v1.0h-1.0zM135.51 99.17h1.0v1.0h-1.0zM128.67 91.08h1.0v1.0h-1.0zM124.02 113.25h1.0v1.0h-1.0zM125.12 105.22h1.0v1.0h-1.0zM115.57 136.46h1.0v1.0h-1.0zM125.85 131.49h1.0v1.0h-1.0zM119.63 131.88h1.0v1.0h-1.0zM119.84 153.97h1.0v1.0h-1.0zM128.19 110.08h1.0v1.0h-1.0zM115.15 117.14h1.0v1.0h-1.0zM133.52 111.02h1.0v1.0h-1.0zM119.05 139.15h1.0v1.0h-1.0zM124.36 109.88h1.0v1.0h-1.0zM123.33 80h1.0v1.0h-1.0zM122.88 145.11h1.0v1.0h-1.0zM128.85 117.15h1.0v1.0h-1.0zM114.92 113.32h1.0v1.0h-1.0zM129.51 131.45h1.0v1.0h-1.0zM119.23 128.28h1.0v1.0h-1.0zM117.84 138.34h1.0v1.0h-1.0zM108.26 127.81h1.0v1.0h-1.0zM130.49 104.57h1.0v1.0h-1.0zM121.84 136.27h1.0v1.0h-1.0zM125.57 119.57h1.0v1.0h-1.0zM129.48 169.36h1.0v1.0h-1.0zM129.23 130.57h1.0v1.0h-1.0zM109.89 132.71h1.0v1.0h-1.0zM135.69 85.03h1.0v1.0h-1.0zM139.96 165.46h1.0v1.0h-1.0zM136.41 105.56h1.0v1.0h-1.0zM134.59 83.31h1.0v1.0h-1.0zM121.6 127.89h1.0v1.0h-1.0zM135.16 130.01h1.0v1.0h-1.0zM114.05 105.38h1.0v1.0h-1.0zM131.52 104.29h1.0v1.0h-1.0zM135.14 133.99h1.0v1.0h-1.0zM123.28 138.11h1.0v1.0h-1.0zM121.03 161.43h1.0v1.0h-1.0zM115.33 166.03h1.0v1.0h-1.0zM130.54 136.76h1.0v1.0h-1.0zM127.2 105.52h1.0v1.0h-1.0zM128.63 99.19h1.0v1.0h-1.0zM125.45 95.76h1.0v1.0h-1.0zM124.55 98.14h1.0v1.0h-1.0zM123.33 113.76h1.0v1.0h-1.0zM115.86 116.48h1.0v1.0h-1.0zM130.45 152.7h1.0v1.0h-1.0zM110.08 150.72h1.0v1.0h-1.0zM130.8 155.68h1.0v1.0h-1.0zM137.46 94h1.0v1.0h-1.0zM119.37 125.58h1.0v1.0h-1.0zM118.27 126.87h1.0v1.0h-1.0zM122.86 146.19h1.0v1.0h-1.0zM123.26 117.35h1.0v1.0h-1.0zM124.55 147.88h1.0v1.0h-1.0zM125.88 102.18h1.0v1.0h-1.0zM120 129.63h1.0v1.0h-1.0zM138.66 96.02h1.0v1.0h-1.0zM131.23 117.8h1.0v1.0h-1.0zM124.39 124.97h1.0v1.0h-1.0zM130.25 109.84h1.0v1.0h-1.0zM121.91 101.26h1.0v1.0h-1.0zM137.94 80.31h1.0v1.0h-1.0zM122.22 122.07h1.0v1.0h-1.0zM146.38 74.15h1.0v1.0h-1.0zM121.78 131.5h1.0v1.0h-1.0zM130.94 118.94h1.0v1.0h-1.0zM106.97 87.37h1.0v1.0h-1.0zM126.77 107.65h1.0v1.0h-1.0zM112.6 144.57h1.0v1.0h-1.0zM124.73 137.37h1.0v1.0h-1.0zM128.68 108.57h1.0v1.0h-1.0zM123.03 132.51h1.0v1.0h-1.0zM112.87 131.33h1.0v1.0h-1.0zM126.04 124.89h1.0v1.0h-1.0zM120.59 124.96h1.0v1.0h-1.0zM136.18 122.72h1.0v1.0h-1.0zM124.11 101.36h1.0v1.0h-1.0zM139.81 80.75h1.0v1.0h-1.0zM120.19 101.01h1.0v1.0h-1.0zM128.74 128.58h1.0v1.0h-1.0zM124.86 116.86h1.0v1.0h-1.0zM109.57 132.49h1.0v1.0h-1.0zM116.31 110.47h1.0v1.0h-1.0zM130.12 139.1h1.0v1.0h-1.0zM124.83 116.38h1.0v1.0h-1.0zM142.93 65.18h1.0v1.0h-1.0zM122.35 126.99h1.0v1.0h-1.0zM113.56 144.93h1.0v1.0h-1.0zM122.62 130.38h1.0v1.0h-1.0zM127.57 133.02h1.0v1.0h-1.0zM138.62 117.94h1.0v1.0h-1.0zM130.62 99.07h1.0v1.0h-1.0zM130.48 113.01h1.0v1.0h-1.0zM122.03 125.74h1.0v1.0h-1.0zM131.62 115.41h1.0v1.0h-1.0zM132.36 117.51h1.0v1.0h-1.0zM113.33 156.84h1.0v1.0h-1.0z"/><path fill="#99ff99" d="M132.78 127.34h1.0v1.0h-1.0zM127.72 140.59h1.0v1.0h-1.0zM126.34 123.02h1.0v1.0h-1.0zM122.83 126h1.0v1.0h-1.0zM129.08 143.57h1.0v1.0h-1.0zM123.12 159.96h1.0v1.0h-1.0zM120.54 122.38h1.0v1.0h-1.0zM120.92 141.23h1.0v1.0h-1.0zM132.42 101.66h1.0v1.0h-1.0zM144.58 99.66h1.0v1.0h-1.0zM120.63 113.47h1.0v1.0h-1.0zM116.69 141.17h1.0v1.0h-1.0zM118.68 144.1h1.0v1.0h-1.0zM124.59 119.27h1.0v1.0h-1.0zM133.54 111.57h1.0v1.0h-1.0zM107.22 127.95h1.0v1.0h-1.0zM143.61 116.21h1.0v1.0h-1.0zM128.81 136.41h1.0v1.0h-1.0zM115.17 130.88h1.0v1.0h-1.0zM130.87 124.88h1.0v1.0h-1.0zM117.23 135.95h1.0v1.0h-1.0zM114.36 143.62h1.0v1.0h-1.0zM136.39 90.09h1.0v1.0h-1.0zM122.19 133.81h1.0v1.0h-1.0zM121.14 139.12h1.0v1.0h-1.0zM129.02 137.27h1.0v1.0h-1.0zM135.15 85.77h1.0v1.0h-1.0zM132.53 96.94h1.0v1.0h-1.0zM131.95 107.89h1.0v1.0h-1.0zM118.28 109.1h1.0v1.0h-1.0zM128.85 129.21h1.0v1.0h-1.0zM121.87 124.89h1.0v1.0h-1.0zM134.15 105.3h1.0v1.0h-1.0zM121.04 131h1.0v1.0h-1.0zM138.06 130.6h1.0v1.0h-1.0zM138.06 91.15h1.0v1.0h-1.0zM109.27 89.8h1.0v1.0h-1.0zM119.32 139.7h1.0v1.0h-1.0zM112.27 140.87h1.0v1.0h-1.0zM122.28 138.64h1.0v1.0h-1.0zM131.3 121.2h1.0v1.0h-1.0zM114.25 129.5h1.0v1.0h-1.0zM118.32 122.11h1.0v1.0h-1.0zM126.49 121.27h1.0v1.0h-1.0zM122.62 107.8h1.0v1.0h-1.0zM121.63 122.09h1.0v1.0h-1.0zM118.11 124.09h1.0v1.0h-1.0zM139.69 56.48h1.0v1.0h-1.0zM125.24 147.22h1.0v1.0h-1.0zM120.35 106.29h1.0v1.0h-1.0zM113.57 149.4h1.0v1.0h-1.0zM125.41 114.52h1.0v1.0h-1.0zM132.47 106.22h1.0v1.0h-1.0zM118.49 154.18h1.0v1.0h-1.0zM126.8 103.32h1.0v1.0h-1.0zM120.15 135.24h1.0v1.0h-1.0zM136.31 95.49h1.0v1.0h-1.0zM130.04 147.54h1.0v1.0h-1.0zM125.69 108.81h1.0v1.0h-1.0zM130.88 111.17h1.0v1.0h-1.0zM126.48 94.06h1.0v1.0h-1.0zM124.95 139.26h1.0v1.0h-1.0zM124.44 117.62h1.0v1.0h-1.0zM118.69 131.85h1.0v1.0h-1.0zM124.05 136.11h1.0v1.0h-1.0zM137.99 113.02h1.0v1.0h-1.0zM119.13 148.54h1.0v1.0h-1.0zM118.04 130.9h1.0v1.0h-1.0zM121.19 114.79h1.0v1.0h-1.0zM123.71 135.84h1.0v1.0h-1.0zM120.39 110.64h1.0v1.0h-1.0zM129.23 119.85h1.0v1.0h-1.0zM128.41 97.07h1.0v1.0h-1.0zM124.26 89.45h1.0v1.0h-1.0zM121.12 102.53h1.0v1.0h-1.0zM130.06 92.08h1.0v1.0h-1.0zM131.49 124.85h1.0v1.0h-1.0zM124.87 126.35h1.0v1.0h-1.0zM117.27 104.66h1.0v1.0h-1.0zM118.65 107.77h1.0v1.0h-1.0zM131.06 108.4h1.0v1.0h-1.0zM128.27 88.06h1.0v1.0h-1.0zM133.9 159.65h1.0v1.0h-1.0zM128.54 129.9h1.0v1.0h-1.0zM136.06 123.84h1.0v1.0h-1.0zM133.31 126.89h1.0v1.0h-1.0zM130.48 110.2h1.0v1.0h-1.0zM123.16 140.58h1.0v1.0h-1.0zM139.32 150.49h1.0v1.0h-1.0zM138.64 132.68h1.0v1.0h-1.0zM122.48 119.24h1.0v1.0h-1.0zM127.09 139.16h1.0v1.0h-1.0zM111.77 119.93h1.0v1.0h-1.0zM114.58 125.78h1.0v1.0h-1.0zM124.55 116.02h1.0v1.0h-1.0zM130.86 134.67h1.0v1.0h-1.0zM123.7 131.84h1.0v1.0h-1.0zM114.16 146.03h1.0v1.0h-1.0zM110.22 160.52h1.0v1.0h-1.0zM117.27 137.41h1.0v1.0h-1.0zM128.32 112.17h1.0v1.0h-1.0zM121.47 123.78h1.0v1.0h-1.0zM127.56 137.75h1.0v1.0h-1.0zM125.69 147.34h1.0v1.0h-1.0zM128.69 127.34h1.0v1.0h-1.0zM122.89 143.18h1.0v1.0h-1.0zM114.04 155.18h1.0v1.0h-1.0zM127.22 114.04h1.0v1.0h-1.0zM119.01 130.06h1.0v1.0h-1.0zM134.81 106.49h1.0v1.0h-1.0zM137.65 82.13h1.0v1.0h-1.0zM124.87 130.7h1.0v1.0h-1.0zM131.5 126.95h1.0v1.0h-1.0zM116.15 155.56h1.0v1.0h-1.0zM130.26 140.77h1.0v1.0h-1.0zM138.48 137.29h1.0v1.0h-1.0zM114.97 140.85h1.0v1.0h-1.0zM125.98 65.55h1.0v1.0h-1.0zM122.25 125.93h1.0v1.0h-1.0zM115.55 122.46h1.0v1.0h-1.0zM112.41 126.46h1.0v1.0h-1.0zM123.11 135.89h1.0v1.0h-1.0zM122.6 152.24h1.0v1.0h-1.0zM121.86 128.79h1.0v1.0h-1.0zM133.7 120.99h1.0v1.0h-1.0zM119.88 143.75h1.0v1.0h-1.0zM143.7 108.49h1.0v1.0h-1.0zM117.41 125.54h1.0v1.0h-1.0zM122.89 103.82h1.0v1.0h-1.0zM122.3 134.7h1.0v1.0h-1.0zM124.91 131.84h1.0v1.0h-1.0zM126.23 161.14h1.0v1.0h-1.0zM120.28 142.14h1.0v1.0h-1.0zM122.29 136.05h1.0v1.0h-1.0zM129.24 130.72h1.0v1.0h-1.0zM122 135.79h1.0v1.0h-1.0zM120.71 125.16h1.0v1.0h-1.0zM153.63 64.58h1.0v1.0h-1.0zM102.04 158.89h1.0v1.0h-1.0zM135.67 125.04h1.0v1.0h-1.0zM129.51 120.97h1.0v1.0h-1.0zM120.22 135.21h1.0v1.0h-1.0zM126.25 106.44h1.0v1.0h-1.0zM120.71 144.53h1.0v1.0h-1.0zM125.97 111.96h1.0v1.0h-1.0zM118.53 126.95h1.0v1.0h-1.0zM120.96 117.78h1.0v1.0h-1.0zM137.27 94.13h1.0v1.0h-1.0zM126.49 123.21h1.0v1.0h-1.0zM123.02 126.68h1.0v1.0h-1.0zM129.76 135.53h1.0v1.0h-1.0zM120.72 152.12h1.0v1.0h-1.0zM115.45 132.77h1.0v1.0h-1.0zM126.13 119.23h1.0v1.0h-1.0zM137.6 121.99h1.0v1.0h-1.0zM109.54 125.62h1.0v1.0h-1.0zM116.13 131.05h1.0v1.0h-1.0zM126.01 109.65h1.0v1.0h-1.0zM137.23 79.88h1.0v1.0h-1.0zM130.86 169.63h1.0v1.0h-1.0zM115.17 137.41h1.0v1.0h-1.0zM124.95 129.15h1.0v1.0h-1.0zM128.85 118.36h1.0v1.0h-1.0zM127.62 107.71h1.0v1.0h-1.0zM129.72 139.98h1.0v1.0h-1.0zM125.63 107.22h1.0v1.0h-1.0zM114.2 157.13h1.0v1.0h-1.0zM121.19 134.61h1.0v1.0h-1.0zM109.91 152.06h1.0v1.0h-1.0zM108.42 119.15h1.0v1.0h-1.0zM121.88 123.2h1.0v1.0h-1.0zM124.4 142.23h1.0v1.0h-1.0zM132.29 49.35h1.0v1.0h-1.0zM133.57 134.9h1.0v1.0h-1.0zM112.93 143.76h1.0v1.0h-1.0zM119.38 135.31h1.0v1.0h-1.0zM124.87 116.11h1.0v1.0h-1.0zM131.91 87.85h1.0v1.0h-1.0zM108.25 142.04h1.0v1.0h-1.0zM109.74 124.66h1.0v1.0h-1.0zM114.58 151.35h1.0v1.0h-1.0zM105.88 122.49h1.0v1.0h-1.0zM118.82 122.42h1.0v1.0h-1.0zM121.62 121.65h1.0v1.0h-1.0zM123.55 153.68h1.0v1.0h-1.0z"/><path fill="#88f888" d="M124.73 153.83h1.0v1.0h-1.0zM127.38 104.41h1.0v1.0h-1.0zM119.75 116.72h1.0v1.0h-1.0zM130.06 96.69h1.0v1.0h-1.0zM122.08 149.56h1.0v1.0h-1.0zM121.53 116.13h1.0v1.0h-1.0zM123.79 122.67h1.0v1.0h-1.0zM118.54 135.67h1.0v1.0h-1.0zM123.98 138.21h1.0v1.0h-1.0zM134.01 143.13h1.0v1.0h-1.0zM130.51 131.21h1.0v1.0h-1.0zM133.39 104.23h1.0v1.0h-1.0zM120.68 120.7h1.0v1.0h-1.0zM128.01 114.36h1.0v1.0h-1.0zM124.97 133.82h1.0v1.0h-1.0zM138.3 144.76h1.0v1.0h-1.0zM132.93 96.42h1.0v1.0h-1.0zM123.8 115.08h1.0v1.0h-1.0zM127.46 146.8h1.0v1.0h-1.0zM109.42 151.13h1.0v1.0h-1.0zM126.49 110.37h1.0v1.0h-1.0zM126.23 136.53h1.0v1.0h-1.0zM123 130.46h1.0v1.0h-1.0zM133.69 100.78h1.0v1.0h-1.0zM111.01 106.53h1.0v1.0h-1.0zM121.84 112.85h1.0v1.0h-1.0zM119.07 132.68h1.0v1.0h-1.0zM124.37 107.11h1.0v1.0h-1.0zM119.22 130.58h1.0v1.0h-1.0zM125.54 134.46h1.0v1.0h-1.0zM114.61 118.4h1.0v1.0h-1.0zM114.67 119.58h1.0v1.0h-1.0zM121 120.74h1.0v1.0h-1.0zM124.39 109.14h1.0v1.0h-1.0zM117.96 104.39h1.0v1.0h-1.0zM136.54 113.3h1.0v1.0h-1.0zM127.84 118.16h1.0v1.0h-1.0zM112.25 104.61h1.0v1.0h-1.0zM118.89 97.49h1.0v1.0h-1.0zM139.03 73.14h1.0v1.0h-1.0zM127 108.85h1.0v1.0h-1.0zM116.33 105.07h1.0v1.0h-1.0zM126.73 126.07h1.0v1.0h-1.0zM123.64 116.3h1.0v1.0h-1.0zM123.86 125.56h1.0v1.0h-1.0zM123.61 136.39h1.0v1.0h-1.0zM120.87 121.75h1.0v1.0h-1.0zM123.4 132.47h1.0v1.0h-1.0zM125.95 139.57h1.0v1.0h-1.0zM114.59 139.03h1.0v1.0h-1.0zM129.31 125.98h1.0v1.0h-1.0zM139.06 131.24h1.0v1.0h-1.0zM128.94 98.23h1.0v1.0h-1.0zM115.78 125.16h1.0v1.0h-1.0zM138.28 121.11h1.0v1.0h-1.0zM116.2 129.57h1.0v1.0h-1.0zM119.52 135.89h1.0v1.0h-1.0zM119.87 98.83h1.0v1.0h-1.0zM126.7 123.99h1.0v1.0h-1.0zM130.04 73.91h1.0v1.0h-1.0zM126.29 117.62h1.0v1.0h-1.0zM140.21 103.28h1.0v1.0h-1.0zM133.76 100.95h1.0v1.0h-1.0zM113.07 125.32h1.0v1.0h-1.0zM125.85 127.69h1.0v1.0h-1.0zM123.81 99.95h1.0v1.0h-1.0zM123.16 131.04h1.0v1.0h-1.0zM130.38 113.86h1.0v1.0h-1.0zM126.78 109.81h1.0v1.0h-1.0zM122.78 138.66h1.0v1.0h-1.0zM120.32 122.72h1.0v1.0h-1.0zM136.45 110.97h1.0v1.0h-1.0zM123.13 121.89h1.0v1.0h-1.0zM119.23 124.31h1.0v1.0h-1.0zM124.61 135.44h1.0v1.0h-1.0zM135.96 141.56h1.0v1.0h-1.0zM122.89 133.41h1.0v1.0h-1.0zM122.91 102.15h1.0v1.0h-1.0zM131.55 114.99h1.0v1.0h-1.0zM114.58 124.25h1.0v1.0h-1.0zM122.78 132.79h1.0v1.0h-1.0zM125.49 105.06h1.0v1.0h-1.0zM131.88 124.39h1.0v1.0h-1.0zM122.61 133.43h1.0v1.0h-1.0zM116.94 163.95h1.0v1.0h-1.0zM124.81 135.45h1.0v1.0h-1.0zM124.22 113.54h1.0v1.0h-1.0zM128.11 113.24h1.0v1.0h-1.0zM118.04 143.16h1.0v1.0h-1.0zM123.22 92h1.0v1.0h-1.0zM120.05 135.42h1.0v1.0h-1.0zM121.05 141.18h1.0v1.0h-1.0zM125.33 136.2h1.0v1.0h-1.0zM124.78 114.45h1.0v1.0h-1.0zM128.82 114.5h1.0v1.0h-1.0zM138.17 108.28h1.0v1.0h-1.0zM125.73 105.42h1.0v1.0h-1.0zM123.36 149.97h1.0v1.0h-1.0zM113.3 146.51h1.0v1.0h-1.0zM125.68 106.66h1.0v1.0h-1.0zM128.42 125.31h1.0v1.0h-1.0zM121.67 141.61h1.0v1.0h-1.0zM130.25 131.51h1.0v1.0h-1.0zM127.7 132.07h1.0v1.0h-1.0zM130.13 116.7h1.0v1.0h-1.0zM120.82 138.14h1.0v1.0h-1.0zM113.6 140.51h1.0v1.0h-1.0zM132.44 101.79h1.0v1.0h-1.0zM129.41 133.55h1.0v1.0h-1.0zM127.14 130.37h1.0v1.0h-1.0zM127.37 135.42h1.0v1.0h-1.0zM121.2 139.82h1.0v1.0h-1.0zM123.55 127.17h1.0v1.0h-1.0zM114.18 110.5h1.0v1.0h-1.0zM120.34 146.83h1.0v1.0h-1.0zM122.54 131.96h1.0v1.0h-1.0zM116 140.33h1.0v1.0h-1.0zM119 93.86h1.0v1.0h-1.0zM114.8 156.49h1.0v1.0h-1.0zM127.57 119.66h1.0v1.0h-1.0zM117.71 142.78h1.0v1.0h-1.0zM122.28 140.45h1.0v1.0h-1.0zM124.71 110.45h1.0v1.0h-1.0zM112.06 132.51h1.0v1.0h-1.0zM130.59 141.88h1.0v1.0h-1.0zM127.23 139.18h1.0v1.0h-1.0zM132.22 116.04h1.0v1.0h-1.0zM120.88 128.27h1.0v1.0h-1.0zM121.52 136.46h1.0v1.0h-1.0zM132.33 120.74h1.0v1.0h-1.0zM127.13 103.78h1.0v1.0h-1.0zM123.44 130.06h1.0v1.0h-1.0zM125.79 127.68h1.0v1.0h-1.0zM116.73 115.23h1.0v1.0h-1.0zM123.22 106.85h1.0v1.0h-1.0zM121.87 108.24h1.0v1.0h-1.0zM123.98 133.58h1.0v1.0h-1.0zM112.36 151.69h1.0v1.0h-1.0zM119.82 131.26h1.0v1.0h-1.0zM117.54 119.06h1.0v1.0h-1.0zM126.41 124.02h1.0v1.0h-1.0zM124.33 95.89h1.0v1.0h-1.0zM129.08 148.68h1.0v1.0h-1.0zM130.05 110.7h1.0v1.0h-1.0zM114.6 134.5h1.0v1.0h-1.0zM128.87 122.76h1.0v1.0h-1.0zM130.09 124.22h1.0v1.0h-1.0zM112.72 135.41h1.0v1.0h-1.0zM125.68 118.99h1.0v1.0h-1.0zM119 100.36h1.0v1.0h-1.0zM113.71 145.65h1.0v1.0h-1.0zM121.77 139.87h1.0v1.0h-1.0zM126.36 123.92h1.0v1.0h-1.0zM137.05 80.93h1.0v1.0h-1.0zM126.31 134.68h1.0v1.0h-1.0zM123.58 140.5h1.0v1.0h-1.0zM120.19 123.59h1.0v1.0h-1.0zM119.59 132.54h1.0v1.0h-1.0zM115.39 123.19h1.0v1.0h-1.0zM119.46 125.12h1.0v1.0h-1.0zM122.83 129.79h1.0v1.0h-1.0zM124.71 98.58h1.0v1.0h-1.0zM116.9 133.73h1.0v1.0h-1.0zM127.3 111.53h1.0v1.0h-1.0zM121.59 131.17h1.0v1.0h-1.0zM120.77 83.5h1.0v1.0h-1.0zM110.66 160.11h1.0v1.0h-1.0zM109.17 169.2h1.0v1.0h-1.0zM117.13 133.54h1.0v1.0h-1.0zM109.7 146.33h1.0v1.0h-1.0zM121.25 130.62h1.0v1.0h-1.0zM129.08 88.42h1.0v1.0h-1.0zM122.12 77.63h1.0v1.0h-1.0zM136.35 104.33h1.0v1.0h-1.0zM116.18 121.2h1.0v1.0h-1.0zM126.36 122.8h1.0v1.0h-1.0zM127.72 118.5h1.0v1.0h-1.0zM127.98 116.35h1.0v1.0h-1.0zM116.92 129.85h1.0v1.0h-1.0zM124.69 124.8h1.0v1.0h-1.0zM122.34 124.87h1.0v1.0h-1.0zM130.77 144.32h1.0v1.0h-1.0zM131.41 110.26h1.0v1.0h-1.0zM126.44 121.3h1.0v1.0h-1.0zM124.65 131.49h1.0v1.0h-1.0zM127.51 122.66h1.0v1.0h-1.0zM122.76 108.03h1.0v1.0h-1.0zM128.25 123.56h1.0v1.0h-1.0zM119.76 132.52h1.0v1.0h-1.0zM139.47 88.77h1.0v1.0h-1.0zM127.37 109.79h1.0v1.0h-1.0zM121.78 108h1.0v1.0h-1.0zM133.7 111.91h1.0v1.0h-1.0zM123.99 130.25h1.0v1.0h-1.0zM125.12 111.05h1.0v1.0h-1.0zM126.63 116.77h1.0v1.0h-1.0zM116.45 138.14h1.0v1.0h-1.0zM127.28 97.87h1.0v1.0h-1.0zM127.64 112.54h1.0v1.0h-1.0zM134.99 151.26h1.0v1.0h-1.0zM118.62 123.84h1.0v1.0h-1.0zM134.07 115.38h1.0v1.0h-1.0zM117.15 118.64h1.0v1.0h-1.0zM129.78 113.63h1.0v1.0h-1.0zM116.02 137.57h1.0v1.0h-1.0zM120.94 108.49h1.0v1.0h-1.0zM127.62 118h1.0v1.0h-1.0zM113.54 157.19h1.0v1.0h-1.0zM126.28 139.77h1.0v1.0h-1.0zM122.34 108.55h1.0v1.0h-1.0z"/><path fill="#55ee55" d="M125.86 112.1h1.0v1.0h-1.0zM112.46 125.17h1.0v1.0h-1.0zM119.39 133.07h1.0v1.0h-1.0zM119.43 104.87h1.0v1.0h-1.0zM128.88 116.35h1.0v1.0h-1.0zM120.62 118.29h1.0v1.0h-1.0zM128.79 109.39h1.0v1.0h-1.0zM111.32 134.35h1.0v1.0h-1.0zM125.67 120.64h1.0v1.0h-1.0zM126.67 91.6h1.0v1.0h-1.0zM125.8 140.92h1.0v1.0h-1.0zM133.66 101.22h1.0v1.0h-1.0zM140.87 110.83h1.0v1.0h-1.0zM118.98 122.8h1.0v1.0h-1.0zM123.27 143.16h1.0v1.0h-1.0zM124.12 129.82h1.0v1.0h-1.0zM130.25 102.35h1.0v1.0h-1.0zM131.36 101.77h1.0v1.0h-1.0zM129.71 141.3h1.0v1.0h-1.0zM128.77 119.25h1.0v1.0h-1.0zM122.97 132.52h1.0v1.0h-1.0zM135.12 95.59h1.0v1.0h-1.0zM124.37 143.89h1.0v1.0h-1.0zM124.89 129.66h1.0v1.0h-1.0zM128.54 87.14h1.0v1.0h-1.0zM134.59 141.53h1.0v1.0h-1.0zM118.13 132.81h1.0v1.0h-1.0zM127.26 133.15h1.0v1.0h-1.0zM111.53 102.8h1.0v1.0h-1.0zM142.48 138.23h1.0v1.0h-1.0zM125.02 70.37h1.0v1.0h-1.0zM123.41 113.37h1.0v1.0h-1.0zM128.83 120.99h1.0v1.0h-1.0zM128.66 146.18h1.0v1.0h-1.0zM124.62 133.75h1.0v1.0h-1.0zM129.24 115.94h1.0v1.0h-1.0zM127.63 163.33h1.0v1.0h-1.0zM119.78 127.99h1.0v1.0h-1.0zM123.64 133.35h1.0v1.0h-1.0zM122.12 140.39h1.0v1.0h-1.0zM111.5 92.93h1.0v1.0h-1.0zM133.8 134.12h1.0v1.0h-1.0zM129.6 100.76h1.0v1.0h-1.0zM130.37 133.22h1.0v1.0h-1.0zM109.9 130h1.0v1.0h-1.0zM128.3 150.57h1.0v1.0h-1.0zM127.98 113h1.0v1.0h-1.0zM123.6 131.29h1.0v1.0h-1.0zM113.56 145.93h1.0v1.0h-1.0zM114.37 131.95h1.0v1.0h-1.0zM123.68 106.72h1.0v1.0h-1.0zM129.43 107.82h1.0v1.0h-1.0zM124.44 118.2h1.0v1.0h-1.0zM127.15 92.25h1.0v1.0h-1.0zM116.67 110.35h1.0v1.0h-1.0zM134.93 116.98h1.0v1.0h-1.0zM126.38 131.25h1.0v1.0h-1.0zM123.11 79.08h1.0v1.0h-1.0zM123.29 122.41h1.0v1.0h-1.0zM139.63 142.94h1.0v1.0h-1.0zM129.66 132.41h1.0v1.0h-1.0zM124.61 118.27h1.0v1.0h-1.0zM114.4 160.37h1.0v1.0h-1.0zM124.06 112.2h1.0v1.0h-1.0zM121.23 112.84h1.0v1.0h-1.0zM135.27 90.02h1.0v1.0h-1.0zM120.28 129.56h1.0v1.0h-1.0zM121.83 126.63h1.0v1.0h-1.0zM131.59 98.26h1.0v1.0h-1.0zM125.52 134.31h1.0v1.0h-1.0zM129.67 134.96h1.0v1.0h-1.0zM123.9 114.36h1.0v1.0h-1.0zM129.89 118.19h1.0v1.0h-1.0zM125.97 124.12h1.0v1.0h-1.0zM126.11 126.96h1.0v1.0h-1.0zM120.07 126.49h1.0v1.0h-1.0zM118.42 147.01h1.0v1.0h-1.0zM120.06 122.42h1.0v1.0h-1.0zM132.6 105.67h1.0v1.0h-1.0zM105.33 144.76h1.0v1.0h-1.0zM128.94 117.8h1.0v1.0h-1.0zM127.4 114.89h1.0v1.0h-1.0zM108.39 154.77h1.0v1.0h-1.0zM134.08 131.61h1.0v1.0h-1.0zM122.38 134.36h1.0v1.0h-1.0zM132.68 160.56h1.0v1.0h-1.0zM129.27 116.84h1.0v1.0h-1.0zM130.07 130.32h1.0v1.0h-1.0zM119.8 133.29h1.0v1.0h-1.0zM130.03 108.49h1.0v1.0h-1.0zM115.04 147.19h1.0v1.0h-1.0zM139.06 57.28h1.0v1.0h-1.0zM124 143.92h1.0v1.0h-1.0zM125.26 105.43h1.0v1.0h-1.0zM117.9 154.02h1.0v1.0h-1.0zM131.21 125.34h1.0v1.0h-1.0zM127.87 145.79h1.0v1.0h-1.0zM120.23 131.24h1.0v1.0h-1.0zM131.54 99.51h1.0v1.0h-1.0zM110.77 144.64h1.0v1.0h-1.0zM135.22 127.24h1.0v1.0h-1.0zM129.83 127.18h1.0v1.0h-1.0zM127.58 113.7h1.0v1.0h-1.0zM118 107.97h1.0v1.0h-1.0zM110.73 114.29h1.0v1.0h-1.0zM122.71 112.85h1.0v1.0h-1.0zM122.04 104.49h1.0v1.0h-1.0zM128.57 129.99h1.0v1.0h-1.0zM126.97 145.77h1.0v1.0h-1.0zM124.06 111.8h1.0v1.0h-1.0zM132.16 99.6h1.0v1.0h-1.0zM114.74 151.97h1.0v1.0h-1.0zM105.42 152.32h1.0v1.0h-1.0zM124.31 107.6h1.0v1.0h-1.0zM126.4 130.44h1.0v1.0h-1.0zM119.01 139.81h1.0v1.0h-1.0zM127.33 108.33h1.0v1.0h-1.0zM125.11 131.87h1.0v1.0h-1.0zM123.24 113.85h1.0v1.0h-1.0zM126.88 75.22h1.0v1.0h-1.0zM122.95 86.67h1.0v1.0h-1.0zM105.95 162.84h1.0v1.0h-1.0zM148.21 95.06h1.0v1.0h-1.0zM142.97 102.69h1.0v1.0h-1.0zM133.69 128.89h1.0v1.0h-1.0zM122.41 116.13h1.0v1.0h-1.0zM130.98 117.96h1.0v1.0h-1.0zM120.78 121.98h1.0v1.0h-1.0zM127.43 142.47h1.0v1.0h-1.0zM139.06 112h1.0v1.0h-1.0zM125.76 120.85h1.0v1.0h-1.0zM126.65 125.67h1.0v1.0h-1.0zM110.66 131.29h1.0v1.0h-1.0zM115.63 113.89h1.0v1.0h-1.0zM115.01 130h1.0v1.0h-1.0zM126.1 134.78h1.0v1.0h-1.0zM124.65 88.52h1.0v1.0h-1.0zM132.21 133.66h1.0v1.0h-1.0zM130.81 107.61h1.0v1.0h-1.0zM128.49 137.95h1.0v1.0h-1.0zM113.6 171.95h1.0v1.0h-1.0zM138.3 114.27h1.0v1.0h-1.0zM102.89 148.99h1.0v1.0h-1.0zM114.4 147.45h1.0v1.0h-1.0zM114.56 141.56h1.0v1.0h-1.0zM132.12 124.42h1.0v1.0h-1.0zM130.2 108.82h1.0v1.0h-1.0zM136.05 74.84h1.0v1.0h-1.0zM126.99 101.57h1.0v1.0h-1.0zM136.7 148.46h1.0v1.0h-1.0zM121.27 102.37h1.0v1.0h-1.0zM123.76 108.5h1.0v1.0h-1.0zM129.43 117.86h1.0v1.0h-1.0zM115.03 131.69h1.0v1.0h-1.0zM136.34 117.6h1.0v1.0h-1.0zM109.79 141.49h1.0v1.0h-1.0zM126.72 123.12h1.0v1.0h-1.0zM128.26 129.07h1.0v1.0h-1.0zM125.65 97.63h1.0v1.0h-1.0zM139.71 136.83h1.0v1.0h-1.0zM112.36 146.87h1.0v1.0h-1.0zM122.75 97.31h1.0v1.0h-1.0zM126.93 121.29h1.0v1.0h-1.0zM128.75 102h1.0v1.0h-1.0zM127.24 150.72h1.0v1.0h-1.0zM128.21 121.45h1.0v1.0h-1.0zM121.31 136.24h1.0v1.0h-1.0zM129.8 125.87h1.0v1.0h-1.0zM126.97 113.21h1.0v1.0h-1.0zM126.58 137.7h1.0v1.0h-1.0zM122.95 127.4h1.0v1.0h-1.0zM116.7 122.16h1.0v1.0h-1.0zM128.47 75.32h1.0v1.0h-1.0zM129.97 71.51h1.0v1.0h-1.0zM131.8 120.66h1.0v1.0h-1.0zM129.93 105.9h1.0v1.0h-1.0zM118.65 139.26h1.0v1.0h-1.0zM120.41 131.31h1.0v1.0h-1.0zM120.9 135.17h1.0v1.0h-1.0zM112.98 137.09h1.0v1.0h-1.0zM124.2 112.47h1.0v1.0h-1.0zM140.79 141.03h1.0v1.0h-1.0zM121.62 132.6h1.0v1.0h-1.0zM122.16 134.75h1.0v1.0h-1.0zM122.28 129.5h1.0v1.0h-1.0zM116.5 116.05h1.0v1.0h-1.0zM117.53 125.45h1.0v1.0h-1.0zM124.07 138.1h1.0v1.0h-1.0zM124.03 117.88h1.0v1.0h-1.0zM127.09 82.59h1.0v1.0h-1.0zM120.56 153.68h1.0v1.0h-1.0zM122.77 101.06h1.0v1.0h-1.0zM128.27 134.15h1.0v1.0h-1.0zM127.84 84.43h1.0v1.0h-1.0z"/><path fill="#22dd22" d="M114.15 131.77h1.0v1.0h-1.0zM130.97 111.72h1.0v1.0h-1.0zM134.11 75.16h1.0v1.0h-1.0zM123.09 112.08h1.0v1.0h-1.0zM122.13 129.55h1.0v1.0h-1.0zM117.81 122.67h1.0v1.0h-1.0zM129.53 125.32h1.0v1.0h-1.0zM144.45 116.51h1.0v1.0h-1.0zM131.19 118.08h1.0v1.0h-1.0zM121.69 139.12h1.0v1.0h-1.0zM105.92 126.04h1.0v1.0h-1.0zM127.06 120.29h1.0v1.0h-1.0zM123.16 122.55h1.0v1.0h-1.0zM117.65 143.21h1.0v1.0h-1.0zM136.43 132.82h1.0v1.0h-1.0zM121.86 137.94h1.0v1.0h-1.0zM120.9 159.39h1.0v1.0h-1.0zM129.15 136.51h1.0v1.0h-1.0zM121.31 91.73h1.0v1.0h-1.0zM117.82 121.33h1.0v1.0h-1.0zM119.13 103.19h1.0v1.0h-1.0zM125.04 131.61h1.0v1.0h-1.0zM125.76 123.53h1.0v1.0h-1.0zM117.17 138.05h1.0v1.0h-1.0zM121.3 134.77h1.0v1.0h-1.0zM118.81 145.38h1.0v1.0h-1.0zM136.16 59.32h1.0v1.0h-1.0zM134.63 123.41h1.0v1.0h-1.0zM125.3 110.21h1.0v1.0h-1.0zM116.18 130.25h1.0v1.0h-1.0zM126.3 122.67h1.0v1.0h-1.0zM118.48 128.03h1.0v1.0h-1.0zM122.53 140.96h1.0v1.0h-1.0zM125.42 140.7h1.0v1.0h-1.0zM122.16 116.82h1.0v1.0h-1.0zM130.82 123.59h1.0v1.0h-1.0zM132.88 131.18h1.0v1.0h-1.0zM127.77 104.02h1.0v1.0h-1.0zM124.27 120.56h1.0v1.0h-1.0zM143.17 118.73h1.0v1.0h-1.0zM115.14 126.12h1.0v1.0h-1.0zM132.74 105.19h1.0v1.0h-1.0zM140.63 94.74h1.0v1.0h-1.0zM135.59 74.83h1.0v1.0h-1.0zM124 126.94h1.0v1.0h-1.0zM121.04 127.7h1.0v1.0h-1.0zM110.84 133.33h1.0v1.0h-1.0zM112.11 130.27h1.0v1.0h-1.0zM117.11 145.71h1.0v1.0h-1.0zM121.05 127.38h1.0v1.0h-1.0zM121.24 112.78h1.0v1.0h-1.0zM129.48 121.04h1.0v1.0h-1.0zM111.58 154.07h1.0v1.0h-1.0zM127.19 146.15h1.0v1.0h-1.0zM126.68 100.58h1.0v1.0h-1.0zM117.74 134.89h1.0v1.0h-1.0zM139.58 130.01h1.0v1.0h-1.0zM115.03 124.85h1.0v1.0h-1.0zM127.27 118.53h1.0v1.0h-1.0zM121.35 100.38h1.0v1.0h-1.0zM125.92 147.82h1.0v1.0h-1.0zM122.91 122.66h1.0v1.0h-1.0zM120.3 129.77h1.0v1.0h-1.0zM127.83 130.96h1.0v1.0h-1.0zM121.36 119.51h1.0v1.0h-1.0zM123.97 121.72h1.0v1.0h-1.0zM118.16 126.99h1.0v1.0h-1.0zM117.17 138.05h1.0v1.0h-1.0zM125 119.49h1.0v1.0h-1.0zM114.73 115.01h1.0v1.0h-1.0zM129.48 129.9h1.0v1.0h-1.0zM126 120.49h1.0v1.0h-1.0zM125.5 111.95h1.0v1.0h-1.0zM112.2 126.07h1.0v1.0h-1.0zM106.36 117.14h1.0v1.0h-1.0zM112.48 114.47h1.0v1.0h-1.0zM122.64 150.88h1.0v1.0h-1.0zM128.59 132.87h1.0v1.0h-1.0zM122.2 102.57h1.0v1.0h-1.0zM115.96 123.64h1.0v1.0h-1.0zM126.76 138.09h1.0v1.0h-1.0zM138.86 114.5h1.0v1.0h-1.0zM115.09 132.53h1.0v1.0h-1.0zM107.56 163.1h1.0v1.0h-1.0zM117.49 96.3h1.0v1.0h-1.0zM117.59 130.71h1.0v1.0h-1.0zM130.59 137.62h1.0v1.0h-1.0zM122.99 137.24h1.0v1.0h-1.0zM113.95 96.02h1.0v1.0h-1.0zM109.4 117.42h1.0v1.0h-1.0zM123.54 131.03h1.0v1.0h-1.0zM129.21 142.28h1.0v1.0h-1.0zM120.42 112.47h1.0v1.0h-1.0zM138.56 124.89h1.0v1.0h-1.0zM128.18 105.99h1.0v1.0h-1.0zM116.07 145.45h1.0v1.0h-1.0zM129.89 136.21h1.0v1.0h-1.0zM124.05 113.71h1.0v1.0h-1.0zM126 107.65h1.0v1.0h-1.0zM118.49 130.46h1.0v1.0h-1.0zM114.75 124.27h1.0v1.0h-1.0zM125.49 141.85h1.0v1.0h-1.0zM113.16 117.81h1.0v1.0h-1.0zM113.66 123.85h1.0v1.0h-1.0zM127.62 137.65h1.0v1.0h-1.0zM117.94 89.24h1.0v1.0h-1.0zM112.3 153.08h1.0v1.0h-1.0zM120.26 135.29h1.0v1.0h-1.0zM121.12 132.51h1.0v1.0h-1.0zM124.71 116.36h1.0v1.0h-1.0zM119.35 132.73h1.0v1.0h-1.0zM138 103.97h1.0v1.0h-1.0zM124.52 133.15h1.0v1.0h-1.0zM128.22 133.89h1.0v1.0h-1.0zM125.34 136.55h1.0v1.0h-1.0zM119.87 104.59h1.0v1.0h-1.0zM120.06 112.14h1.0v1.0h-1.0zM115.01 120.85h1.0v1.0h-1.0zM119.03 140.41h1.0v1.0h-1.0zM134.03 103.55h1.0v1.0h-1.0zM134.78 115.17h1.0v1.0h-1.0zM135.15 51.45h1.0v1.0h-1.0zM121.2 115.02h1.0v1.0h-1.0zM118.7 132.29h1.0v1.0h-1.0zM122.11 122.3h1.0v1.0h-1.0zM133.57 98.44h1.0v1.0h-1.0zM128.99 118.67h1.0v1.0h-1.0zM130.61 140.25h1.0v1.0h-1.0zM125.74 141.39h1.0v1.0h-1.0zM122.71 139.86h1.0v1.0h-1.0zM124.42 137.84h1.0v1.0h-1.0zM120.56 101.85h1.0v1.0h-1.0zM119.5 133.18h1.0v1.0h-1.0zM126.19 110.3h1.0v1.0h-1.0zM126.13 115.76h1.0v1.0h-1.0zM130.94 107.68h1.0v1.0h-1.0zM120 122.07h1.0v1.0h-1.0zM125.51 142.72h1.0v1.0h-1.0zM125.4 127.95h1.0v1.0h-1.0zM128.99 106h1.0v1.0h-1.0zM135.89 87.95h1.0v1.0h-1.0zM137.08 100.79h1.0v1.0h-1.0zM124.93 65.81h1.0v1.0h-1.0zM137.37 106.06h1.0v1.0h-1.0zM132.9 125.03h1.0v1.0h-1.0zM124.72 128.4h1.0v1.0h-1.0zM119.35 121.13h1.0v1.0h-1.0zM131.83 126.07h1.0v1.0h-1.0zM124.49 130.3h1.0v1.0h-1.0zM113.93 124.64h1.0v1.0h-1.0zM122.71 147h1.0v1.0h-1.0zM138.46 106.7h1.0v1.0h-1.0zM126.31 123.48h1.0v1.0h-1.0zM125.13 116.64h1.0v1.0h-1.0zM116.88 125.73h1.0v1.0h-1.0zM123.73 111.21h1.0v1.0h-1.0zM117.94 125.92h1.0v1.0h-1.0zM130.14 117.19h1.0v1.0h-1.0zM120.31 138.52h1.0v1.0h-1.0zM115.93 124.68h1.0v1.0h-1.0zM130.67 136.86h1.0v1.0h-1.0zM130.36 124.11h1.0v1.0h-1.0zM130.02 108.46h1.0v1.0h-1.0zM129.72 115.73h1.0v1.0h-1.0zM123.65 123.66h1.0v1.0h-1.0zM126.74 116.64h1.0v1.0h-1.0zM131.84 101.75h1.0v1.0h-1.0zM124.57 126.22h1.0v1.0h-1.0zM127.12 127.94h1.0v1.0h-1.0zM125.55 140.58h1.0v1.0h-1.0zM127.03 97.06h1.0v1.0h-1.0zM124.06 130.6h1.0v1.0h-1.0zM123.08 126.32h1.0v1.0h-1.0zM132.89 97.49h1.0v1.0h-1.0zM135.48 86.07h1.0v1.0h-1.0zM126.59 131.31h1.0v1.0h-1.0zM131.13 154.39h1.0v1.0h-1.0zM123.64 138.75h1.0v1.0h-1.0zM129.04 133.49h1.0v1.0h-1.0zM138.12 104.3h1.0v1.0h-1.0zM114.09 102.55h1.0v1.0h-1.0zM138.67 102.34h1.0v1.0h-1.0zM123.04 110.81h1.0v1.0h-1.0zM122.41 136.59h1.0v1.0h-1.0zM131.23 147.75h1.0v1.0h-1.0zM129.06 100.54h1.0v1.0h-1.0zM121.32 90.03h1.0v1.0h-1.0zM127.11 137.98h1.0v1.0h-1.0zM134.54 154.33h1.0v1.0h-1.0zM105.5 142.98h1.0v1.0h-1.0zM103.39 105.61h1.0v1.0h-1.0zM132.86 95.71h1.0v1.0h-1.0z"/><path fill="#66ff66" d="M130.29 131.46h1.0v1.0h-1.0zM123.11 120.35h1.0v1.0h-1.0zM120.37 134.42h1.0v1.0h-1.0zM126.18 123.89h1.0v1.0h-1.0zM131.03 99.8h1.0v1.0h-1.0zM125.52 119.53h1.0v1.0h-1.0zM122.24 138.29h1.0v1.0h-1.0zM127.5 126.06h1.0v1.0h-1.0zM122.72 70.84h1.0v1.0h-1.0zM115.33 153.32h1.0v1.0h-1.0zM116.02 100.67h1.0v1.0h-1.0zM129.61 158.46h1.0v1.0h-1.0zM126.15 132.04h1.0v1.0h-1.0zM120.36 125.72h1.0v1.0h-1.0zM123.02 125.02h1.0v1.0h-1.0zM130.93 142.7h1.0v1.0h-1.0zM130.86 99.75h1.0v1.0h-1.0zM128.66 121.74h1.0v1.0h-1.0zM130.3 114.86h1.0v1.0h-1.0zM117.94 128.45h1.0v1.0h-1.0zM123.34 107.05h1.0v1.0h-1.0zM117.69 140.01h1.0v1.0h-1.0zM118.73 123.96h1.0v1.0h-1.0zM123.9 130.36h1.0v1.0h-1.0zM137.48 119.95h1.0v1.0h-1.0zM124.94 117.59h1.0v1.0h-1.0zM130.06 111.87h1.0v1.0h-1.0zM124.11 111.61h1.0v1.0h-1.0zM133.24 88.73h1.0v1.0h-1.0zM127.99 142.5h1.0v1.0h-1.0zM129.18 130.27h1.0v1.0h-1.0zM124.57 111.08h1.0v1.0h-1.0zM127.66 121.67h1.0v1.0h-1.0zM128.26 129.85h1.0v1.0h-1.0zM113.51 88.27h1.0v1.0h-1.0zM126.11 139.71h1.0v1.0h-1.0zM125.3 126.88h1.0v1.0h-1.0zM129.08 104.63h1.0v1.0h-1.0zM118.17 107.48h1.0v1.0h-1.0zM123.41 133.36h1.0v1.0h-1.0zM104.75 170.36h1.0v1.0h-1.0zM127.28 113.04h1.0v1.0h-1.0zM132.95 122.09h1.0v1.0h-1.0zM132.81 80.13h1.0v1.0h-1.0zM119.06 114.39h1.0v1.0h-1.0zM120.62 123.46h1.0v1.0h-1.0zM118.43 150.19h1.0v1.0h-1.0zM133.5 104.77h1.0v1.0h-1.0zM130.5 69.07h1.0v1.0h-1.0zM113.9 99.37h1.0v1.0h-1.0zM125.15 121.22h1.0v1.0h-1.0zM135.48 122.98h1.0v1.0h-1.0zM111.99 138.27h1.0v1.0h-1.0zM111.8 132.16h1.0v1.0h-1.0zM127.33 123.05h1.0v1.0h-1.0zM117.13 135.98h1.0v1.0h-1.0zM130.29 142.55h1.0v1.0h-1.0zM139.96 87.5h1.0v1.0h-1.0zM129.26 115.6h1.0v1.0h-1.0zM127.23 134.49h1.0v1.0h-1.0zM116.43 96.52h1.0v1.0h-1.0zM142.39 69.06h1.0v1.0h-1.0zM131.51 136.9h1.0v1.0h-1.0zM118.9 140.03h1.0v1.0h-1.0zM122.34 114.23h1.0v1.0h-1.0zM129.78 102.74h1.0v1.0h-1.0zM124.84 138.05h1.0v1.0h-1.0zM120.42 134.09h1.0v1.0h-1.0zM114.39 110.24h1.0v1.0h-1.0zM134.59 98.14h1.0v1.0h-1.0zM122.96 126.53h1.0v1.0h-1.0zM123.06 135.36h1.0v1.0h-1.0zM143.58 79.53h1.0v1.0h-1.0zM130.86 115.18h1.0v1.0h-1.0zM127.1 149.46h1.0v1.0h-1.0zM139.92 104.1h1.0v1.0h-1.0zM111.19 105.44h1.0v1.0h-1.0zM113.67 125.18h1.0v1.0h-1.0zM128.22 118.87h1.0v1.0h-1.0zM116.32 116.78h1.0v1.0h-1.0zM123.3 120.4h1.0v1.0h-1.0zM125.12 131.17h1.0v1.0h-1.0zM128.33 123.45h1.0v1.0h-1.0zM146.47 51.66h1.0v1.0h-1.0zM134.27 62.29h1.0v1.0h-1.0zM136.64 124.97h1.0v1.0h-1.0zM140.42 116.67h1.0v1.0h-1.0zM123.55 139.93h1.0v1.0h-1.0zM131.71 126.65h1.0v1.0h-1.0zM124.94 84.14h1.0v1.0h-1.0zM133.19 148.11h1.0v1.0h-1.0zM128.44 143.63h1.0v1.0h-1.0zM126.82 142.77h1.0v1.0h-1.0zM129.1 121.51h1.0v1.0h-1.0zM109.76 102.83h1.0v1.0h-1.0zM116.16 120.98h1.0v1.0h-1.0zM118.53 121.1h1.0v1.0h-1.0zM133.97 134.28h1.0v1.0h-1.0zM120.38 147.6h1.0v1.0h-1.0zM105.67 112.64h1.0v1.0h-1.0zM131.19 128.68h1.0v1.0h-1.0zM122.15 105.6h1.0v1.0h-1.0zM133.97 103.98h1.0v1.0h-1.0zM129.8 154.8h1.0v1.0h-1.0zM115.2 152.66h1.0v1.0h-1.0zM111.88 152.1h1.0v1.0h-1.0zM129.61 87.68h1.0v1.0h-1.0zM135.07 105.78h1.0v1.0h-1.0zM122.04 147.48h1.0v1.0h-1.0zM121.74 132.29h1.0v1.0h-1.0zM117.56 121.06h1.0v1.0h-1.0zM119.12 90.09h1.0v1.0h-1.0zM127.92 137.06h1.0v1.0h-1.0zM132.32 117.27h1.0v1.0h-1.0zM127.75 148.45h1.0v1.0h-1.0zM124.56 128.19h1.0v1.0h-1.0zM116.65 136.83h1.0v1.0h-1.0zM125.09 101.7h1.0v1.0h-1.0zM126.59 127.76h1.0v1.0h-1.0zM107.32 138.44h1.0v1.0h-1.0zM125.31 132.15h1.0v1.0h-1.0zM133.31 121.9h1.0v1.0h-1.0zM120.94 112.01h1.0v1.0h-1.0zM114.73 171.35h1.0v1.0h-1.0zM125.74 123.13h1.0v1.0h-1.0zM127.29 126.14h1.0v1.0h-1.0zM125.9 131.16h1.0v1.0h-1.0zM126.41 110.32h1.0v1.0h-1.0zM125.92 117.8h1.0v1.0h-1.0zM115.51 138.1h1.0v1.0h-1.0zM125.63 135.36h1.0v1.0h-1.0zM116.39 113.75h1.0v1.0h-1.0zM111.93 144.83h1.0v1.0h-1.0zM131.17 99.79h1.0v1.0h-1.0zM133.46 112.12h1.0v1.0h-1.0zM119.94 143h1.0v1.0h-1.0zM120.59 101.93h1.0v1.0h-1.0zM141.91 119.9h1.0v1.0h-1.0zM143.65 111.73h1.0v1.0h-1.0zM112.94 155.83h1.0v1.0h-1.0zM119.41 142.3h1.0v1.0h-1.0zM127.19 118.4h1.0v1.0h-1.0zM132.93 120.94h1.0v1.0h-1.0zM134.4 78.03h1.0v1.0h-1.0zM117.94 134.51h1.0v1.0h-1.0zM119.74 106.82h1.0v1.0h-1.0zM128.21 123.37h1.0v1.0h-1.0zM115.21 143.46h1.0v1.0h-1.0zM133.81 113.73h1.0v1.0h-1.0zM129.91 120.37h1.0v1.0h-1.0zM129 147.27h1.0v1.0h-1.0zM119.12 115.67h1.0v1.0h-1.0zM133.46 103.1h1.0v1.0h-1.0zM123.14 137.91h1.0v1.0h-1.0zM122.6 100.55h1.0v1.0h-1.0zM131.18 100.71h1.0v1.0h-1.0zM132.69 91.28h1.0v1.0h-1.0zM131.43 92.52h1.0v1.0h-1.0z"/><path d="M124.4 112.8V136.7M119.4 124.5h10M120.4 120.8l8 7.4M120.4 128.2l8 -7.4" stroke="#000" stroke-width="0.9" fill="none"/><circle cx="124.4" cy="124.5" r="1.2" fill="#000" stroke="none" stroke-width="0"/><line x1="117" y1="158" x2="77.58" y2="126.38" stroke="#c0c0c0" stroke-width="2.6" stroke-linecap="butt"/><polygon points="71.5,121.5 81.02,124.01 77.58,126.38 76.02,130.25" fill="#c0c0c0"/><line x1="129.2" y1="182.5" x2="126.13" y2="175.49" stroke="#c0c0c0" stroke-width="2.7" stroke-linecap="butt"/><polygon points="123.2,168.8 130.73,174.78 126.13,175.49 122.49,178.39" fill="#c0c0c0"/><rect x="62.4" y="114.5" width="7" height="7" fill="#bfbfbf" stroke="#555" stroke-width="0.9"/><rect x="117.2" y="160.1" width="7" height="7" fill="#bfbfbf" stroke="#555" stroke-width="0.9"/><rect x="126.3" y="161.5" width="7" height="7" fill="#bfbfbf" stroke="#555" stroke-width="0.9"/><rect x="127.2" y="187.2" width="7" height="7" fill="#bfbfbf" stroke="#555" stroke-width="0.9"/><text x="0" y="0" font-size="10.26" text-anchor="start" fill="#000" transform="translate(63.3 137.63) scale(0.9259 1)">CM_Irr</text><text x="0" y="0" font-size="10.26" text-anchor="start" fill="#000" transform="translate(105.3 182.83) scale(0.9259 1)">CI_Irr</text><text x="0" y="0" font-size="10.26" text-anchor="start" fill="#000" transform="translate(134.7 184.83) scale(0.9259 1)">CM</text><text x="0" y="0" font-size="10.26" text-anchor="start" fill="#000" transform="translate(129.8 209.53) scale(0.9259 1)">CI</text><text x="0" y="3.44" font-size="10" text-anchor="middle" fill="#808080" font-weight="bold" font-style="italic" transform="translate(92 193.6) rotate(10)">Ion</text><path d="M187.2 67.3H218.2M202.6 53.7V81.3M187.2 64V70.6M218.2 64V70.6M199.3 53.7h6.6M199.3 81.3h6.6" stroke="#555" stroke-width="1" fill="none"/><circle cx="202.6" cy="67.3" r="3.6" fill="#00ff00" stroke="#000" stroke-width="0.8"/><path d="M176.3 136.5H190.3M183.7 128.5V145.3M176.3 133.2V139.8M190.3 133.2V139.8M180.4 128.5h6.6M180.4 145.3h6.6" stroke="#555" stroke-width="1" fill="none"/><circle cx="183.7" cy="136.5" r="3.6" fill="#00ff00" stroke="#000" stroke-width="0.8"/><text x="0" y="0" font-size="11.34" text-anchor="start" fill="#000" transform="translate(177.5 50.4) scale(0.9259 1)">Subsurface</text><text x="0" y="0" font-size="11.34" text-anchor="start" fill="#000" transform="translate(164.9 125.4) scale(0.9259 1)">Surface</text><circle cx="266.9" cy="64.2" r="4" fill="#bfbfbf" stroke="#000" stroke-width="0.9"/><circle cx="252.7" cy="84.7" r="4" fill="#bfbfbf" stroke="#000" stroke-width="0.9"/><circle cx="275.8" cy="82.6" r="4" fill="#bfbfbf" stroke="#000" stroke-width="0.9"/><circle cx="259.7" cy="98" r="4" fill="#bfbfbf" stroke="#000" stroke-width="0.9"/><circle cx="266" cy="98.9" r="4" fill="#bfbfbf" stroke="#000" stroke-width="0.9"/><circle cx="235.9" cy="88.9" r="4" fill="#fff" stroke="#000" stroke-width="0.9"/><circle cx="255.7" cy="111.8" r="4" fill="#fff" stroke="#000" stroke-width="0.9"/><circle cx="250.6" cy="120.8" r="4" fill="#fff" stroke="#000" stroke-width="0.9"/><circle cx="264.6" cy="143.6" r="4" fill="#fff" stroke="#000" stroke-width="0.9"/><circle cx="229.1" cy="150.4" r="4" fill="#fff" stroke="#000" stroke-width="0.9"/><circle cx="243.1" cy="175.2" r="4" fill="#fff" stroke="#000" stroke-width="0.9"/><circle cx="323.2" cy="81.2" r="4" fill="#fff" stroke="#000" stroke-width="0.9"/><circle cx="349.4" cy="112.8" r="4" fill="#fff" stroke="#000" stroke-width="0.9"/><circle cx="393.1" cy="111.7" r="4" fill="#fff" stroke="#000" stroke-width="0.9"/><circle cx="333.5" cy="195.8" r="4" fill="#fff" stroke="#000" stroke-width="0.9"/><circle cx="298.2" cy="46.1" r="4" fill="#ff00ff" stroke="#000" stroke-width="0.9"/><circle cx="330.7" cy="61.2" r="4" fill="#ff00ff" stroke="#000" stroke-width="0.9"/><circle cx="182.8" cy="87.5" r="4" fill="#ff00ff" stroke="#000" stroke-width="0.9"/><circle cx="249.7" cy="87.8" r="4" fill="#ff00ff" stroke="#000" stroke-width="0.9"/><circle cx="289.6" cy="104.1" r="4" fill="#ff00ff" stroke="#000" stroke-width="0.9"/><circle cx="255.6" cy="140.1" r="4" fill="#ff00ff" stroke="#000" stroke-width="0.9"/><circle cx="261.1" cy="166.4" r="4" fill="#ff00ff" stroke="#000" stroke-width="0.9"/><circle cx="208" cy="177.8" r="4" fill="#ff00ff" stroke="#000" stroke-width="0.9"/><circle cx="393.1" cy="95" r="4" fill="#ff00ff" stroke="#000" stroke-width="0.9"/><circle cx="375.4" cy="120.3" r="4" fill="#ff00ff" stroke="#000" stroke-width="0.9"/><path d="M225.7 113.6H338.6M282.1 74.7V152.4" stroke="#606060" stroke-width="1.3" fill="none"/><path d="M278 109.6l8.1 8M278 117.6l8.1 -8" stroke="#000" stroke-width="0.85"/><circle cx="282.1" cy="113.6" r="1.1" fill="#000" stroke="none" stroke-width="0"/><rect x="241.9" y="273.7" width="8.6" height="8.6" fill="#fff" stroke="#333" stroke-width="0.9"/><text x="0" y="0" font-size="13.39" text-anchor="start" fill="#000" transform="translate(205.1 282.61) scale(0.9259 1)">Bennu</text><line x1="421.5" y1="126.4" x2="406.82" y2="173.55" stroke="#c0c0c0" stroke-width="2.6" stroke-linecap="butt"/><polygon points="404.5,181 403.36,171.22 406.82,173.55 410.99,173.6" fill="#c0c0c0"/><line x1="421.5" y1="143.9" x2="303.92" y2="254.3" stroke="#c0c0c0" stroke-width="2.6" stroke-linecap="butt"/><polygon points="298.6,259.3 301.72,250.2 303.92,254.3 307.88,256.76" fill="#c0c0c0"/><line x1="392.4" y1="278.6" x2="305.5" y2="248.58" stroke="#c0c0c0" stroke-width="2.6" stroke-linecap="butt"/><polygon points="298.6,246.2 308.1,244.72 305.5,248.58 305.17,253.23" fill="#c0c0c0"/><line x1="427" y1="109.8" x2="446" y2="109.6" stroke="#aaa" stroke-width="0.7" stroke-linecap="butt" stroke-dasharray="2.5,2"/><line x1="429" y1="119.3" x2="448" y2="119.3" stroke="#aaa" stroke-width="0.7" stroke-linecap="butt" stroke-dasharray="2.5,2"/><line x1="417" y1="164.9" x2="436" y2="164.6" stroke="#aaa" stroke-width="0.7" stroke-linecap="butt" stroke-dasharray="2.5,2"/><line x1="416" y1="181" x2="435" y2="181" stroke="#aaa" stroke-width="0.7" stroke-linecap="butt" stroke-dasharray="2.5,2"/><line x1="407" y1="189" x2="436" y2="194" stroke="#aaa" stroke-width="0.7" stroke-linecap="butt" stroke-dasharray="2.5,2"/><line x1="398.5" y1="212.1" x2="417.5" y2="212.3" stroke="#aaa" stroke-width="0.7" stroke-linecap="butt" stroke-dasharray="2.5,2"/><line x1="388.5" y1="238.8" x2="407" y2="239" stroke="#aaa" stroke-width="0.7" stroke-linecap="butt" stroke-dasharray="2.5,2"/><line x1="349.3" y1="327" x2="353.5" y2="337" stroke="#aaa" stroke-width="0.7" stroke-linecap="butt" stroke-dasharray="2.5,2"/><line x1="345.4" y1="249.9" x2="350.5" y2="264.2" stroke="#222" stroke-width="0.8" stroke-linecap="butt" stroke-dasharray="2,1.5"/><line x1="363.2" y1="287" x2="358.9" y2="303" stroke="#222" stroke-width="0.8" stroke-linecap="butt" stroke-dasharray="2,1.5"/><rect x="419.7" y="106.3" width="7" height="7" fill="#ffff00" stroke="#333" stroke-width="0.9"/><rect x="421.8" y="115.6" width="7" height="7" fill="#ffff00" stroke="#333" stroke-width="0.9"/><rect x="384.9" y="122.5" width="7" height="7" fill="#ffff00" stroke="#333" stroke-width="0.9"/><rect x="410.2" y="160.8" width="7" height="7" fill="#ffff00" stroke="#333" stroke-width="0.9"/><rect x="408.6" y="177.5" width="7" height="7" fill="#ffff00" stroke="#333" stroke-width="0.9"/><rect x="399.5" y="184.1" width="7" height="7" fill="#ffff00" stroke="#333" stroke-width="0.9"/><rect x="391" y="208.6" width="7" height="7" fill="#ffff00" stroke="#333" stroke-width="0.9"/><rect x="381.2" y="235.2" width="7" height="7" fill="#ffff00" stroke="#333" stroke-width="0.9"/><rect x="345.7" y="319.6" width="7" height="7" fill="#ffff00" stroke="#333" stroke-width="0.9"/><rect x="347.7" y="209.7" width="7" height="7" fill="#000" stroke="#000" stroke-width="0.5"/><rect x="286.3" y="243.9" width="7" height="7" fill="#000" stroke="#000" stroke-width="0.5"/><rect x="401" y="241.3" width="7" height="7" fill="#000" stroke="#000" stroke-width="0.5"/><rect x="347" y="263.2" width="7" height="7" fill="#000" stroke="#000" stroke-width="0.5"/><rect x="313.9" y="266.9" width="7" height="7" fill="#000" stroke="#000" stroke-width="0.5"/><rect x="324.5" y="277.1" width="7" height="7" fill="#000" stroke="#000" stroke-width="0.5"/><rect x="345.7" y="280.3" width="7" height="7" fill="#000" stroke="#000" stroke-width="0.5"/><rect x="359.8" y="278.8" width="7" height="7" fill="#000" stroke="#000" stroke-width="0.5"/><rect x="377.7" y="307.9" width="7" height="7" fill="#000" stroke="#000" stroke-width="0.5"/><polygon points="426.8,118.3 428.29,122.15 432.41,122.38 429.21,124.98 430.27,128.97 426.8,126.74 423.33,128.97 424.39,124.98 421.19,122.38 425.31,122.15" fill="#ff7f00" stroke="#000" stroke-width="0.9" stroke-linejoin="miter"/><polygon points="434.4,125.8 435.89,129.65 440.01,129.88 436.81,132.48 437.87,136.47 434.4,134.24 430.93,136.47 431.99,132.48 428.79,129.88 432.91,129.65" fill="#ff7f00" stroke="#000" stroke-width="0.9" stroke-linejoin="miter"/><polygon points="430.1,127.7 431.59,131.55 435.71,131.78 432.51,134.38 433.57,138.37 430.1,136.14 426.63,138.37 427.69,134.38 424.49,131.78 428.61,131.55" fill="#ff7f00" stroke="#000" stroke-width="0.9" stroke-linejoin="miter"/><polygon points="432.5,136.7 433.99,140.55 438.11,140.78 434.91,143.38 435.97,147.37 432.5,145.14 429.03,147.37 430.09,143.38 426.89,140.78 431.01,140.55" fill="#ff7f00" stroke="#000" stroke-width="0.9" stroke-linejoin="miter"/><polygon points="431.8,153.5 433.29,157.35 437.41,157.58 434.21,160.18 435.27,164.17 431.8,161.94 428.33,164.17 429.39,160.18 426.19,157.58 430.31,157.35" fill="#ff7f00" stroke="#000" stroke-width="0.9" stroke-linejoin="miter"/><polygon points="405.5,145.7 406.99,149.55 411.11,149.78 407.91,152.38 408.97,156.37 405.5,154.14 402.03,156.37 403.09,152.38 399.89,149.78 404.01,149.55" fill="#fff" stroke="#000" stroke-width="0.9" stroke-linejoin="miter"/><polygon points="414.9,145.7 416.39,149.55 420.51,149.78 417.31,152.38 418.37,156.37 414.9,154.14 411.43,156.37 412.49,152.38 409.29,149.78 413.41,149.55" fill="#fff" stroke="#000" stroke-width="0.9" stroke-linejoin="miter"/><polygon points="414.3,155.5 415.79,159.35 419.91,159.58 416.71,162.18 417.77,166.17 414.3,163.94 410.83,166.17 411.89,162.18 408.69,159.58 412.81,159.35" fill="#fff" stroke="#000" stroke-width="0.9" stroke-linejoin="miter"/><polygon points="417.6,157.7 419.09,161.55 423.21,161.78 420.01,164.38 421.07,168.37 417.6,166.14 414.13,168.37 415.19,164.38 411.99,161.78 416.11,161.55" fill="#fff" stroke="#000" stroke-width="0.9" stroke-linejoin="miter"/><polygon points="371.8,181.7 373.29,185.55 377.41,185.78 374.21,188.38 375.27,192.37 371.8,190.14 368.33,192.37 369.39,188.38 366.19,185.78 370.31,185.55" fill="#00ffff" stroke="#000" stroke-width="0.9" stroke-linejoin="miter"/><polygon points="379.5,190.5 380.99,194.35 385.11,194.58 381.91,197.18 382.97,201.17 379.5,198.94 376.03,201.17 377.09,197.18 373.89,194.58 378.01,194.35" fill="#00ffff" stroke="#000" stroke-width="0.9" stroke-linejoin="miter"/><polygon points="376.3,191.4 377.79,195.25 381.91,195.48 378.71,198.08 379.77,202.07 376.3,199.84 372.83,202.07 373.89,198.08 370.69,195.48 374.81,195.25" fill="#00ffff" stroke="#000" stroke-width="0.9" stroke-linejoin="miter"/><polygon points="351.2,262.4 352.69,266.25 356.81,266.48 353.61,269.08 354.67,273.07 351.2,270.84 347.73,273.07 348.79,269.08 345.59,266.48 349.71,266.25" fill="#00ffff" stroke="#000" stroke-width="0.9" stroke-linejoin="miter"/><text x="0" y="0" font-size="10.37" text-anchor="start" fill="#000" transform="translate(446.7 113.07) scale(0.9259 1)">55%</text><text x="0" y="0" font-size="10.37" text-anchor="start" fill="#000" transform="translate(448.7 122.97) scale(0.9259 1)">50%</text><text x="0" y="0" font-size="10.8" text-anchor="start" fill="#000" transform="translate(399.7 132.22) scale(0.9259 1)">58%</text><text x="0" y="0" font-size="10.8" text-anchor="start" fill="#000" transform="translate(442.8 133.22) scale(0.9259 1)">&lt;77 µm</text><text x="0" y="0" font-size="11.12" text-anchor="start" fill="#000" transform="translate(366.2 144.23) scale(0.9259 1)">&lt;155 µm</text><text x="0" y="0" font-size="10.37" text-anchor="start" fill="#000" transform="translate(437.1 168.07) scale(0.9259 1)">29%</text><text x="0" y="0" font-size="10.37" text-anchor="start" fill="#000" transform="translate(435.6 184.67) scale(0.9259 1)">65%</text><text x="0" y="0" font-size="10.37" text-anchor="start" fill="#000" transform="translate(436.5 198.37) scale(0.9259 1)">25%</text><text x="0" y="0" font-size="10.37" text-anchor="start" fill="#000" transform="translate(418.3 216.07) scale(0.9259 1)">40%</text><text x="0" y="0" font-size="10.37" text-anchor="start" fill="#000" transform="translate(408 242.67) scale(0.9259 1)">23%</text><text x="0" y="0" font-size="11.12" text-anchor="start" fill="#000" transform="translate(321.9 181.23) scale(0.9259 1)">&lt;512 µm</text><text x="0" y="0" font-size="10.15" text-anchor="start" fill="#000" transform="translate(328 219.09) scale(0.9259 1)">2mJ</text><text x="0" y="0" font-size="10.15" text-anchor="start" fill="#000" transform="translate(261.3 253.29) scale(0.9259 1)">15mJ</text><text x="0" y="0" font-size="10.15" text-anchor="start" fill="#000" transform="translate(289.3 269.79) scale(0.9259 1)">10mJ</text><text x="0" y="0" font-size="11.23" text-anchor="start" fill="#000" transform="translate(262.3 280.46) scale(0.9259 1)">&lt;2 mm</text><text x="0" y="0" font-size="10.15" text-anchor="start" fill="#000" transform="translate(318.8 266.69) scale(0.9259 1)">0.7mJ</text><text x="0" y="0" font-size="10.15" text-anchor="start" fill="#000" transform="translate(328 248.89) scale(0.9259 1)">5mJ</text><text x="0" y="0" font-size="10.15" text-anchor="start" fill="#000" transform="translate(304.5 286.09) scale(0.9259 1)">5mJ</text><text x="0" y="0" font-size="10.15" text-anchor="start" fill="#000" transform="translate(326.6 296.29) scale(0.9259 1)">1mJ</text><text x="0" y="0" font-size="10.15" text-anchor="start" fill="#000" transform="translate(381.5 251.09) scale(0.9259 1)">0mJ</text><text x="0" y="0" font-size="10.15" text-anchor="start" fill="#000" transform="translate(340.3 312.99) scale(0.9259 1)">0mJ</text><text x="0" y="0" font-size="10.15" text-anchor="start" fill="#000" transform="translate(390 316.09) scale(0.9259 1)">0mJ</text><text x="0" y="0" font-size="10.37" text-anchor="start" fill="#000" transform="translate(355 346.97) scale(0.9259 1)">20%</text><polygon points="288,263 289.49,266.85 293.61,267.08 290.41,269.68 291.47,273.67 288,271.44 284.53,273.67 285.59,269.68 282.39,267.08 286.51,266.85" fill="#0000ff" stroke="#000" stroke-width="0.9" stroke-linejoin="miter"/><text x="0" y="3.44" font-size="10" text-anchor="middle" fill="#808080" font-weight="bold" font-style="italic" transform="translate(430 94.5) rotate(11)">Fluffy</text><text x="0" y="3.72" font-size="10.8" text-anchor="middle" fill="#000" stroke="#000" stroke-width="0.45" transform="translate(361.1 224.3) rotate(-39)">Coarse</text><text x="0" y="3.44" font-size="10" text-anchor="middle" fill="#808080" font-weight="bold" font-style="italic" transform="translate(433.6 290.8) rotate(16)">Laser Irradiation</text><rect x="58.6" y="18.7" width="421.7" height="339.4" fill="none" stroke="#000" stroke-width="1.4"/><path d="M58.6 358.1v6.5M58.6 18.7v-6.5M111.31 358.1v6.5M111.31 18.7v-6.5M164.03 358.1v6.5M164.03 18.7v-6.5M216.74 358.1v6.5M216.74 18.7v-6.5M269.45 358.1v6.5M269.45 18.7v-6.5M322.16 358.1v6.5M322.16 18.7v-6.5M374.88 358.1v6.5M374.88 18.7v-6.5M427.59 358.1v6.5M427.59 18.7v-6.5M480.3 358.1v6.5M480.3 18.7v-6.5M84.96 358.1v3M84.96 18.7v-3M137.67 358.1v3M137.67 18.7v-3M190.38 358.1v3M190.38 18.7v-3M243.09 358.1v3M243.09 18.7v-3M295.81 358.1v3M295.81 18.7v-3M348.52 358.1v3M348.52 18.7v-3M401.23 358.1v3M401.23 18.7v-3M453.94 358.1v3M453.94 18.7v-3M58.6 329.82h-6.5M480.3 329.82h6.5M58.6 273.25h-6.5M480.3 273.25h6.5M58.6 216.68h-6.5M480.3 216.68h6.5M58.6 160.12h-6.5M480.3 160.12h6.5M58.6 103.55h-6.5M480.3 103.55h6.5M58.6 46.98h-6.5M480.3 46.98h6.5M58.6 358.1h-3M480.3 358.1h3M58.6 301.53h-3M480.3 301.53h3M58.6 244.97h-3M480.3 244.97h3M58.6 188.4h-3M480.3 188.4h3M58.6 131.83h-3M480.3 131.83h3M58.6 75.27h-3M480.3 75.27h3M58.6 18.7h-3M480.3 18.7h3" stroke="#000" stroke-width="1.4" fill="none"/><text x="0" y="0" font-size="13.82" text-anchor="middle" fill="#000" transform="translate(58.6 381.66) scale(0.9259 1)">0</text><text x="0" y="0" font-size="13.82" text-anchor="middle" fill="#000" transform="translate(111.31 381.66) scale(0.9259 1)">5</text><text x="0" y="0" font-size="13.82" text-anchor="middle" fill="#000" transform="translate(164.03 381.66) scale(0.9259 1)">10</text><text x="0" y="0" font-size="13.82" text-anchor="middle" fill="#000" transform="translate(216.74 381.66) scale(0.9259 1)">15</text><text x="0" y="0" font-size="13.82" text-anchor="middle" fill="#000" transform="translate(269.45 381.66) scale(0.9259 1)">20</text><text x="0" y="0" font-size="13.82" text-anchor="middle" fill="#000" transform="translate(322.16 381.66) scale(0.9259 1)">25</text><text x="0" y="0" font-size="13.82" text-anchor="middle" fill="#000" transform="translate(374.88 381.66) scale(0.9259 1)">30</text><text x="0" y="0" font-size="13.82" text-anchor="middle" fill="#000" transform="translate(427.59 381.66) scale(0.9259 1)">35</text><text x="0" y="0" font-size="13.82" text-anchor="middle" fill="#000" transform="translate(480.3 381.66) scale(0.9259 1)">40</text><text x="0" y="0" font-size="13.82" text-anchor="end" fill="#000" transform="translate(47.1 334.57) scale(0.9259 1)">0.96</text><text x="0" y="0" font-size="13.82" text-anchor="end" fill="#000" transform="translate(47.1 278.01) scale(0.9259 1)">0.98</text><text x="0" y="0" font-size="13.82" text-anchor="end" fill="#000" transform="translate(47.1 221.44) scale(0.9259 1)">1.00</text><text x="0" y="0" font-size="13.82" text-anchor="end" fill="#000" transform="translate(47.1 164.87) scale(0.9259 1)">1.02</text><text x="0" y="0" font-size="13.82" text-anchor="end" fill="#000" transform="translate(47.1 108.31) scale(0.9259 1)">1.04</text><text x="0" y="0" font-size="13.82" text-anchor="end" fill="#000" transform="translate(47.1 51.74) scale(0.9259 1)">1.06</text><text x="269.2" y="402.4" font-size="16" text-anchor="middle" fill="#000">2.7-µm Band Depth (%)</text><text x="0" y="5.5" font-size="16" text-anchor="middle" fill="#000" transform="translate(9.8 187.6) rotate(-90)">2.2- and 2.6-µm Reflectance Ratio</text><text x="0.45" y="13.8" font-size="16.85">(</text><text x="15.9" y="13.8" font-size="16.85">)</text><text x="0" y="0" font-size="18.3" font-weight="bold" transform="translate(6.5 14.6) scale(0.75 1)">a</text><rect x="495.4" y="232.7" width="189" height="127.3" fill="#fff" stroke="#8c8c8c" stroke-width="1"/><circle cx="507" cy="239.6" r="2.8" fill="#00a550" stroke="none" stroke-width="0"/><circle cx="506.6" cy="250.9" r="4.3" fill="#55ff55" stroke="#000" stroke-width="0.9"/><circle cx="506.6" cy="262.3" r="4.3" fill="#ff00ff" stroke="#000" stroke-width="0.9"/><circle cx="506.6" cy="273.7" r="4.3" fill="#fff" stroke="#000" stroke-width="0.9"/><circle cx="506.6" cy="285.3" r="4.3" fill="#bfbfbf" stroke="#000" stroke-width="0.9"/><rect x="502.85" y="304.25" width="7.5" height="7.5" fill="#ffff00" stroke="#000" stroke-width="0.9"/><polygon points="506.6,313.5 508.12,317.41 512.31,317.65 509.05,320.3 510.13,324.35 506.6,322.08 503.07,324.35 504.15,320.3 500.89,317.65 505.08,317.41" fill="#00ffff" stroke="#000" stroke-width="0.9" stroke-linejoin="miter"/><rect x="502.85" y="327.05" width="7.5" height="7.5" fill="#000" stroke="#000" stroke-width="0.9"/><rect x="502.85" y="338.35" width="7.5" height="7.5" fill="#bfbfbf" stroke="#666" stroke-width="0.9"/><rect x="501.6" y="348.6" width="10" height="10" fill="#fff" stroke="#333" stroke-width="0.9"/><text x="520.2" y="242.81" font-size="9.9" text-anchor="start" fill="#000" textLength="98.5" lengthAdjust="spacing">Ryugu asteroid surface</text><text x="520.2" y="254.31" font-size="9.9" text-anchor="start" fill="#000" textLength="98.5" lengthAdjust="spacing">Ryugu asteroid surface</text><text x="520.2" y="265.71" font-size="9.9" text-anchor="start" fill="#000" textLength="161" lengthAdjust="spacing">Ryugu returned samples (Chamber A)</text><text x="520.2" y="277.11" font-size="9.9" text-anchor="start" fill="#000" textLength="161.5" lengthAdjust="spacing">Ryugu returned samples (Chamber C)</text><text x="520.2" y="288.71" font-size="9.9" text-anchor="start" fill="#000" textLength="131.5" lengthAdjust="spacing">Ryugu returned samples (Bulk)</text><text x="520.2" y="311.41" font-size="9.9" text-anchor="start" fill="#000" textLength="89" lengthAdjust="spacing">Murchison (Porosity)</text><text x="520.2" y="322.91" font-size="9.9" text-anchor="start" fill="#000" textLength="96" lengthAdjust="spacing">Murchison (Grain size)</text><text x="520.2" y="334.21" font-size="9.9" text-anchor="start" fill="#000" textLength="77" lengthAdjust="spacing">Murchison (Laser)</text><text x="520.2" y="345.51" font-size="9.9" text-anchor="start" fill="#000" textLength="40.5" lengthAdjust="spacing">CCs (Ion)</text><text x="520.2" y="357.01" font-size="9.9" text-anchor="start" fill="#000" textLength="99" lengthAdjust="spacing">Bennu asteroid surface</text><text x="627.5" y="253.86" font-size="8.6" text-anchor="start" fill="#000" textLength="44.2" lengthAdjust="spacing">(SCI crater)</text><line x1="81" y1="447.7" x2="458.5" y2="447.7" stroke="#808080" stroke-width="2.8" stroke-linecap="butt"/><polygon points="74,447.7 82,443.7 82,451.7" fill="#808080"/><polygon points="465.5,447.7 457.5,443.7 457.5,451.7" fill="#808080"/><line x1="69" y1="461.4" x2="69" y2="760" stroke="#808080" stroke-width="2.8" stroke-linecap="butt"/><polygon points="69,454.4 65,462.4 73,462.4" fill="#808080"/><polygon points="69,767 65,759 73,759" fill="#808080"/><polygon points="69.0,631.5 72.5,635.5 69.0,639.5 65.5,635.5" fill="#808080"/><text x="89.2" y="465.82" font-size="14" text-anchor="start" fill="#000" font-weight="bold" textLength="71" lengthAdjust="spacing">Darkening</text><text x="365.9" y="466.12" font-size="14" text-anchor="start" fill="#8c8c8c" font-weight="bold" textLength="80.8" lengthAdjust="spacing">Brightening</text><text x="0" y="4.82" font-size="14" text-anchor="middle" fill="#000" font-weight="bold" transform="translate(83.8 558) rotate(-90)">Reddening</text><text x="0" y="4.82" font-size="14" text-anchor="middle" fill="#000" font-weight="bold" transform="translate(85.5 715.7) rotate(-90)">Bluing</text><path fill="#30e030" d="M152.75 502.08h1.0v1.0h-1.0zM145.04 530.32h1.0v1.0h-1.0zM149.38 559.27h1.0v1.0h-1.0zM148.82 555.42h1.0v1.0h-1.0zM145.82 524.32h1.0v1.0h-1.0zM146.57 519.18h1.0v1.0h-1.0zM140.58 553.77h1.0v1.0h-1.0zM150.15 541.21h1.0v1.0h-1.0zM149.21 533.58h1.0v1.0h-1.0zM145.61 540.35h1.0v1.0h-1.0zM148.23 542.55h1.0v1.0h-1.0zM148.01 537.52h1.0v1.0h-1.0zM149.82 485.28h1.0v1.0h-1.0zM142.65 508.8h1.0v1.0h-1.0zM149 549.18h1.0v1.0h-1.0zM140.42 488.53h1.0v1.0h-1.0zM149.55 556.63h1.0v1.0h-1.0zM145.96 520.5h1.0v1.0h-1.0zM144.5 548.52h1.0v1.0h-1.0zM148.43 519.37h1.0v1.0h-1.0zM141.35 556.12h1.0v1.0h-1.0zM152.62 531.54h1.0v1.0h-1.0zM149.02 488.86h1.0v1.0h-1.0zM148.97 536.85h1.0v1.0h-1.0zM151.59 571.36h1.0v1.0h-1.0zM145.67 546.02h1.0v1.0h-1.0zM149.21 569.04h1.0v1.0h-1.0zM146.07 521.04h1.0v1.0h-1.0zM147.44 548.62h1.0v1.0h-1.0zM146.44 531.25h1.0v1.0h-1.0zM152.74 567.6h1.0v1.0h-1.0zM146.22 551.67h1.0v1.0h-1.0zM144.75 531.58h1.0v1.0h-1.0zM147.02 542.9h1.0v1.0h-1.0zM143 514.47h1.0v1.0h-1.0zM149.65 552.2h1.0v1.0h-1.0zM147.53 489.59h1.0v1.0h-1.0zM151.96 550.7h1.0v1.0h-1.0zM149.79 569.36h1.0v1.0h-1.0zM152.63 569.45h1.0v1.0h-1.0zM142.9 526.17h1.0v1.0h-1.0zM144.8 525.91h1.0v1.0h-1.0zM147.14 568.43h1.0v1.0h-1.0zM149.35 554.84h1.0v1.0h-1.0zM144.66 521.31h1.0v1.0h-1.0zM151.9 563.45h1.0v1.0h-1.0zM145.46 534.93h1.0v1.0h-1.0zM153.34 543.08h1.0v1.0h-1.0zM150.77 539.98h1.0v1.0h-1.0zM149.37 544.01h1.0v1.0h-1.0zM141.93 533.6h1.0v1.0h-1.0zM146.48 513.34h1.0v1.0h-1.0zM147.45 544.75h1.0v1.0h-1.0zM149.14 542.28h1.0v1.0h-1.0zM145.14 534.06h1.0v1.0h-1.0zM147.03 569.77h1.0v1.0h-1.0zM148.25 530.1h1.0v1.0h-1.0zM142.09 501.89h1.0v1.0h-1.0zM145.69 514.91h1.0v1.0h-1.0zM154.75 587.24h1.0v1.0h-1.0zM147.31 535.06h1.0v1.0h-1.0zM147.61 503.45h1.0v1.0h-1.0zM160.54 589.05h1.0v1.0h-1.0zM145.56 521.7h1.0v1.0h-1.0zM146.67 533.93h1.0v1.0h-1.0zM144.17 540.09h1.0v1.0h-1.0zM146.63 536.56h1.0v1.0h-1.0zM153.56 524.53h1.0v1.0h-1.0zM150.72 536.98h1.0v1.0h-1.0zM145.38 531.58h1.0v1.0h-1.0zM148.48 545.33h1.0v1.0h-1.0zM147.13 511.58h1.0v1.0h-1.0zM151.45 541.66h1.0v1.0h-1.0zM150.35 540.82h1.0v1.0h-1.0zM150.53 576.03h1.0v1.0h-1.0zM153.68 558.63h1.0v1.0h-1.0zM149.65 508.7h1.0v1.0h-1.0zM144.32 536.47h1.0v1.0h-1.0zM145.74 527.74h1.0v1.0h-1.0zM145.65 566.57h1.0v1.0h-1.0zM145.57 500.15h1.0v1.0h-1.0zM146.76 512.3h1.0v1.0h-1.0zM145.27 553.82h1.0v1.0h-1.0zM147.34 547.44h1.0v1.0h-1.0zM144.92 532.24h1.0v1.0h-1.0zM151.38 571.41h1.0v1.0h-1.0zM152.07 557.67h1.0v1.0h-1.0zM149.13 543.61h1.0v1.0h-1.0zM139.17 495.63h1.0v1.0h-1.0zM141.08 552.67h1.0v1.0h-1.0zM149.51 571.24h1.0v1.0h-1.0zM147.99 545.03h1.0v1.0h-1.0zM146.82 549.44h1.0v1.0h-1.0zM142.6 507.68h1.0v1.0h-1.0zM140.72 532.19h1.0v1.0h-1.0zM148.42 534.95h1.0v1.0h-1.0zM153.78 545.09h1.0v1.0h-1.0zM151.01 546.36h1.0v1.0h-1.0zM149.29 530.99h1.0v1.0h-1.0zM153.57 561.98h1.0v1.0h-1.0zM151.02 565.56h1.0v1.0h-1.0zM157.8 553.96h1.0v1.0h-1.0zM148.99 529.54h1.0v1.0h-1.0zM147.23 542.08h1.0v1.0h-1.0zM146.26 530.55h1.0v1.0h-1.0zM155.33 532.2h1.0v1.0h-1.0zM150.55 592.08h1.0v1.0h-1.0zM145.25 524.49h1.0v1.0h-1.0zM149.62 557.68h1.0v1.0h-1.0zM140.48 499.17h1.0v1.0h-1.0zM146.89 528.8h1.0v1.0h-1.0zM145.32 547.61h1.0v1.0h-1.0zM143 506.29h1.0v1.0h-1.0zM149.37 554.53h1.0v1.0h-1.0zM142.69 515.04h1.0v1.0h-1.0zM153.52 551.88h1.0v1.0h-1.0zM150.6 487.99h1.0v1.0h-1.0zM145.83 527.51h1.0v1.0h-1.0zM150.12 567.36h1.0v1.0h-1.0zM147.37 569.39h1.0v1.0h-1.0zM147.34 534.24h1.0v1.0h-1.0zM147.4 551.2h1.0v1.0h-1.0zM146.84 554.32h1.0v1.0h-1.0zM149.39 545.3h1.0v1.0h-1.0zM150.79 558.92h1.0v1.0h-1.0zM142.43 519.21h1.0v1.0h-1.0zM147.45 562.88h1.0v1.0h-1.0zM142.2 505.06h1.0v1.0h-1.0zM151.54 532.8h1.0v1.0h-1.0zM150.73 548.42h1.0v1.0h-1.0zM147.69 534.63h1.0v1.0h-1.0zM147.07 558.7h1.0v1.0h-1.0zM147.64 567.33h1.0v1.0h-1.0zM147.65 519.24h1.0v1.0h-1.0zM144.88 541.24h1.0v1.0h-1.0zM147.32 561.63h1.0v1.0h-1.0zM158.95 559.41h1.0v1.0h-1.0zM152.42 533.57h1.0v1.0h-1.0zM156.7 560.68h1.0v1.0h-1.0zM148.47 582.67h1.0v1.0h-1.0zM145.09 555.07h1.0v1.0h-1.0zM148.74 491.77h1.0v1.0h-1.0zM146.28 528.75h1.0v1.0h-1.0zM156.78 574.45h1.0v1.0h-1.0zM146.51 522.33h1.0v1.0h-1.0zM143.52 565.95h1.0v1.0h-1.0zM144.2 549.6h1.0v1.0h-1.0zM145.53 526.23h1.0v1.0h-1.0zM141.52 534.1h1.0v1.0h-1.0zM142.53 509.62h1.0v1.0h-1.0zM151.74 519.63h1.0v1.0h-1.0zM142.06 510.51h1.0v1.0h-1.0zM142.8 548.49h1.0v1.0h-1.0zM150.87 543.14h1.0v1.0h-1.0zM147.89 562.09h1.0v1.0h-1.0zM148.75 562.59h1.0v1.0h-1.0zM149.95 537.33h1.0v1.0h-1.0zM146 525.52h1.0v1.0h-1.0zM147.91 539.89h1.0v1.0h-1.0zM145.79 518.93h1.0v1.0h-1.0zM148.2 518.81h1.0v1.0h-1.0zM148.83 542.25h1.0v1.0h-1.0zM152.71 571.47h1.0v1.0h-1.0zM151.51 556.3h1.0v1.0h-1.0zM139.82 505.45h1.0v1.0h-1.0zM143.32 529.68h1.0v1.0h-1.0zM146.83 528.29h1.0v1.0h-1.0zM151.23 541.21h1.0v1.0h-1.0zM153.71 539.15h1.0v1.0h-1.0zM146.59 546.9h1.0v1.0h-1.0zM142.38 529.18h1.0v1.0h-1.0zM147.17 528.61h1.0v1.0h-1.0zM149.35 542.51h1.0v1.0h-1.0zM153.79 575.68h1.0v1.0h-1.0zM146.86 559.36h1.0v1.0h-1.0zM146.65 526.14h1.0v1.0h-1.0zM150.7 543.78h1.0v1.0h-1.0zM145.72 535.73h1.0v1.0h-1.0zM149.35 527.09h1.0v1.0h-1.0zM150.57 521.79h1.0v1.0h-1.0zM142.94 523.46h1.0v1.0h-1.0zM143.94 501.27h1.0v1.0h-1.0zM151.59 531.16h1.0v1.0h-1.0zM144.18 520.78h1.0v1.0h-1.0zM143.97 502.71h1.0v1.0h-1.0zM146.07 512.2h1.0v1.0h-1.0zM138.4 536.77h1.0v1.0h-1.0zM147.28 547.17h1.0v1.0h-1.0zM152.94 549.74h1.0v1.0h-1.0zM152.4 589.86h1.0v1.0h-1.0zM154.57 561.97h1.0v1.0h-1.0zM154.97 576.63h1.0v1.0h-1.0zM149.24 527.73h1.0v1.0h-1.0zM141.6 541.39h1.0v1.0h-1.0zM156.28 591.79h1.0v1.0h-1.0zM140.37 574.61h1.0v1.0h-1.0zM145.86 526.31h1.0v1.0h-1.0zM141 551.59h1.0v1.0h-1.0zM150.13 555.13h1.0v1.0h-1.0zM145.11 490.78h1.0v1.0h-1.0zM142.02 494.23h1.0v1.0h-1.0zM151.27 557.04h1.0v1.0h-1.0zM140.17 539.13h1.0v1.0h-1.0zM146.8 552.96h1.0v1.0h-1.0zM146.91 540.95h1.0v1.0h-1.0zM149.61 558.97h1.0v1.0h-1.0zM145.51 554.83h1.0v1.0h-1.0zM144 532.5h1.0v1.0h-1.0zM152.02 561.7h1.0v1.0h-1.0zM147.34 577.67h1.0v1.0h-1.0zM150.91 570.67h1.0v1.0h-1.0zM148.49 569.82h1.0v1.0h-1.0zM146.27 529.56h1.0v1.0h-1.0zM143.35 504.58h1.0v1.0h-1.0zM146.93 554.82h1.0v1.0h-1.0zM146.66 525.52h1.0v1.0h-1.0zM143.6 541.96h1.0v1.0h-1.0zM148.28 559.62h1.0v1.0h-1.0zM149.95 528.07h1.0v1.0h-1.0zM151.38 544.23h1.0v1.0h-1.0zM136.77 514.41h1.0v1.0h-1.0zM145.16 540.13h1.0v1.0h-1.0zM145.88 546.66h1.0v1.0h-1.0zM153.1 555.22h1.0v1.0h-1.0zM154.33 563.49h1.0v1.0h-1.0zM154.7 569.95h1.0v1.0h-1.0zM142.3 511.42h1.0v1.0h-1.0zM148.01 538.94h1.0v1.0h-1.0zM147.55 530.67h1.0v1.0h-1.0zM139.91 528.63h1.0v1.0h-1.0zM148.18 583.38h1.0v1.0h-1.0zM149.04 541.78h1.0v1.0h-1.0zM141.62 522.46h1.0v1.0h-1.0zM146.26 537.61h1.0v1.0h-1.0zM144.88 529.3h1.0v1.0h-1.0zM143.82 528.73h1.0v1.0h-1.0zM146.31 526.13h1.0v1.0h-1.0zM150.23 556.38h1.0v1.0h-1.0z"/><path fill="#00c000" d="M140.66 513.03h1.0v1.0h-1.0zM143.45 527.49h1.0v1.0h-1.0zM146.17 543.79h1.0v1.0h-1.0zM149.4 535.21h1.0v1.0h-1.0zM151.81 540.91h1.0v1.0h-1.0zM146.61 546.57h1.0v1.0h-1.0zM140.23 521.14h1.0v1.0h-1.0zM150.95 549.39h1.0v1.0h-1.0zM157.75 568.65h1.0v1.0h-1.0zM140.56 507.41h1.0v1.0h-1.0zM147.51 556.02h1.0v1.0h-1.0zM146.16 554.69h1.0v1.0h-1.0zM144.73 544.48h1.0v1.0h-1.0zM154.7 568.08h1.0v1.0h-1.0zM147.24 566.43h1.0v1.0h-1.0zM145.08 549.38h1.0v1.0h-1.0zM144.48 530.55h1.0v1.0h-1.0zM149.07 563.69h1.0v1.0h-1.0zM140.76 470.72h1.0v1.0h-1.0zM144.98 530.39h1.0v1.0h-1.0zM149.37 540.26h1.0v1.0h-1.0zM151.41 553.23h1.0v1.0h-1.0zM149.89 544.04h1.0v1.0h-1.0zM143.75 500.22h1.0v1.0h-1.0zM147.75 560.32h1.0v1.0h-1.0zM148.05 529.39h1.0v1.0h-1.0zM147.26 526.52h1.0v1.0h-1.0zM154.08 577.7h1.0v1.0h-1.0zM150.81 571.68h1.0v1.0h-1.0zM140.56 538.33h1.0v1.0h-1.0zM141.48 495.79h1.0v1.0h-1.0zM145.03 494.19h1.0v1.0h-1.0zM154.63 541.71h1.0v1.0h-1.0zM145.89 578.67h1.0v1.0h-1.0zM149.43 538.1h1.0v1.0h-1.0zM143.82 517.08h1.0v1.0h-1.0zM149.22 538.84h1.0v1.0h-1.0zM143.96 477.7h1.0v1.0h-1.0zM134.84 530.2h1.0v1.0h-1.0zM146.93 550.47h1.0v1.0h-1.0zM147.13 524.4h1.0v1.0h-1.0zM145.96 542h1.0v1.0h-1.0zM153.4 548.82h1.0v1.0h-1.0zM148.53 556.62h1.0v1.0h-1.0zM143.79 525.15h1.0v1.0h-1.0zM151.59 570.95h1.0v1.0h-1.0zM145.37 485.63h1.0v1.0h-1.0zM141.26 525.2h1.0v1.0h-1.0zM146.53 536.55h1.0v1.0h-1.0zM148.15 561.26h1.0v1.0h-1.0zM147.95 541.22h1.0v1.0h-1.0zM148.02 531.59h1.0v1.0h-1.0zM139.47 497.44h1.0v1.0h-1.0zM155.13 548.67h1.0v1.0h-1.0zM151.01 566.55h1.0v1.0h-1.0zM145.77 539.66h1.0v1.0h-1.0zM146.96 562.98h1.0v1.0h-1.0zM145.2 497.41h1.0v1.0h-1.0zM144.4 540.87h1.0v1.0h-1.0zM146.98 546h1.0v1.0h-1.0zM145.43 554.73h1.0v1.0h-1.0zM144.91 510.51h1.0v1.0h-1.0zM143.19 506.29h1.0v1.0h-1.0zM147.8 585.58h1.0v1.0h-1.0zM153.8 577.46h1.0v1.0h-1.0zM146.85 542.85h1.0v1.0h-1.0zM149.14 572.26h1.0v1.0h-1.0zM151.14 550.01h1.0v1.0h-1.0zM144.9 517.8h1.0v1.0h-1.0zM153.55 549.3h1.0v1.0h-1.0zM145.95 534.89h1.0v1.0h-1.0zM144.62 501.82h1.0v1.0h-1.0zM145.83 540.97h1.0v1.0h-1.0zM139.93 520.68h1.0v1.0h-1.0zM156.22 558.66h1.0v1.0h-1.0zM147.37 518.93h1.0v1.0h-1.0zM155.12 550.12h1.0v1.0h-1.0zM156.35 562.15h1.0v1.0h-1.0zM147.37 536.24h1.0v1.0h-1.0zM144.94 534.03h1.0v1.0h-1.0zM143.2 537.74h1.0v1.0h-1.0zM146.18 510.66h1.0v1.0h-1.0zM142.85 560.17h1.0v1.0h-1.0zM151.01 557.68h1.0v1.0h-1.0zM146.88 559.61h1.0v1.0h-1.0zM146.73 542.06h1.0v1.0h-1.0zM147.67 529.78h1.0v1.0h-1.0zM147.87 530.21h1.0v1.0h-1.0zM150.44 539.32h1.0v1.0h-1.0zM149.29 551.74h1.0v1.0h-1.0zM148.43 560.52h1.0v1.0h-1.0zM148.65 528.98h1.0v1.0h-1.0zM144.98 555.37h1.0v1.0h-1.0zM140.93 531h1.0v1.0h-1.0zM146.97 535.65h1.0v1.0h-1.0zM148.19 541.35h1.0v1.0h-1.0zM147.98 565.33h1.0v1.0h-1.0zM151.67 577.4h1.0v1.0h-1.0zM146.25 535.67h1.0v1.0h-1.0zM146.18 536.34h1.0v1.0h-1.0zM150 581.42h1.0v1.0h-1.0zM152.85 580.37h1.0v1.0h-1.0zM158.27 553.1h1.0v1.0h-1.0zM146.67 535.04h1.0v1.0h-1.0zM149.99 505.86h1.0v1.0h-1.0zM141.57 517.76h1.0v1.0h-1.0zM156.23 580.88h1.0v1.0h-1.0zM151 542.8h1.0v1.0h-1.0zM150.31 529.57h1.0v1.0h-1.0zM148.59 567.13h1.0v1.0h-1.0zM153.26 569.79h1.0v1.0h-1.0zM149.95 545h1.0v1.0h-1.0zM148.17 561.11h1.0v1.0h-1.0zM148.18 546.29h1.0v1.0h-1.0zM149.94 530.39h1.0v1.0h-1.0zM148.54 550.44h1.0v1.0h-1.0zM148.95 544.6h1.0v1.0h-1.0zM149.24 523.03h1.0v1.0h-1.0zM147.76 525.47h1.0v1.0h-1.0zM148.9 541.85h1.0v1.0h-1.0zM144.46 543.48h1.0v1.0h-1.0zM146.58 524.86h1.0v1.0h-1.0zM148.66 532.59h1.0v1.0h-1.0zM141.55 501.43h1.0v1.0h-1.0zM148.18 520.04h1.0v1.0h-1.0zM150.89 544.66h1.0v1.0h-1.0zM144.12 519.2h1.0v1.0h-1.0zM151.7 562.61h1.0v1.0h-1.0zM150.8 563.58h1.0v1.0h-1.0zM143.46 541.07h1.0v1.0h-1.0zM147.08 514.33h1.0v1.0h-1.0zM143.66 531.99h1.0v1.0h-1.0zM140.09 512.63h1.0v1.0h-1.0zM148.26 535.93h1.0v1.0h-1.0zM145.84 526.03h1.0v1.0h-1.0zM142.87 520.83h1.0v1.0h-1.0zM149.77 546.06h1.0v1.0h-1.0zM146.8 560.72h1.0v1.0h-1.0zM150.32 569.68h1.0v1.0h-1.0zM145.07 544.43h1.0v1.0h-1.0zM142.19 519.47h1.0v1.0h-1.0zM140.39 552.77h1.0v1.0h-1.0zM143.83 537.36h1.0v1.0h-1.0zM152.39 591.61h1.0v1.0h-1.0zM151.73 555.93h1.0v1.0h-1.0zM150.7 567.13h1.0v1.0h-1.0zM146.35 566.14h1.0v1.0h-1.0zM147.96 539.62h1.0v1.0h-1.0zM145.88 542.09h1.0v1.0h-1.0zM151.13 566.14h1.0v1.0h-1.0zM144.53 525.44h1.0v1.0h-1.0zM144.32 569.4h1.0v1.0h-1.0zM146.46 562.22h1.0v1.0h-1.0zM146.28 530.32h1.0v1.0h-1.0zM151.19 552.33h1.0v1.0h-1.0zM139.12 516.06h1.0v1.0h-1.0zM150.44 559.32h1.0v1.0h-1.0zM151.29 547.8h1.0v1.0h-1.0zM149.82 554.15h1.0v1.0h-1.0zM148.52 560.18h1.0v1.0h-1.0zM149.68 564.37h1.0v1.0h-1.0zM143.91 530.43h1.0v1.0h-1.0zM145.9 524.71h1.0v1.0h-1.0zM149.09 577.34h1.0v1.0h-1.0zM149.98 535.68h1.0v1.0h-1.0zM145.33 538.39h1.0v1.0h-1.0zM146.72 536.93h1.0v1.0h-1.0zM147.76 540.76h1.0v1.0h-1.0zM147.72 504.51h1.0v1.0h-1.0zM136.49 529.65h1.0v1.0h-1.0zM150.2 572.25h1.0v1.0h-1.0zM144.54 542.8h1.0v1.0h-1.0zM148.86 511.79h1.0v1.0h-1.0zM157.73 561.57h1.0v1.0h-1.0zM149.66 496.95h1.0v1.0h-1.0zM148.89 543.15h1.0v1.0h-1.0zM143.09 508.65h1.0v1.0h-1.0zM155.87 564.55h1.0v1.0h-1.0zM143.72 522.29h1.0v1.0h-1.0zM148.61 525.56h1.0v1.0h-1.0zM147.23 544.97h1.0v1.0h-1.0zM147.32 524.84h1.0v1.0h-1.0zM147.87 545.75h1.0v1.0h-1.0zM143.52 531.34h1.0v1.0h-1.0zM140.24 523.96h1.0v1.0h-1.0zM144.77 501.62h1.0v1.0h-1.0zM140.2 508.68h1.0v1.0h-1.0zM148.21 529.14h1.0v1.0h-1.0zM150.96 543.87h1.0v1.0h-1.0zM149.58 513.82h1.0v1.0h-1.0zM146.21 545.1h1.0v1.0h-1.0zM150.7 554.6h1.0v1.0h-1.0zM143.44 555.1h1.0v1.0h-1.0zM143.61 516.6h1.0v1.0h-1.0zM147.42 525.19h1.0v1.0h-1.0zM139.46 510.61h1.0v1.0h-1.0zM149.31 526.04h1.0v1.0h-1.0zM146.68 568.24h1.0v1.0h-1.0zM145.58 542.68h1.0v1.0h-1.0zM151.34 566.25h1.0v1.0h-1.0zM148.13 557.19h1.0v1.0h-1.0zM143.35 565.87h1.0v1.0h-1.0zM145.3 539.89h1.0v1.0h-1.0zM147.17 557.5h1.0v1.0h-1.0zM152.63 561.08h1.0v1.0h-1.0zM143.35 529.22h1.0v1.0h-1.0zM153.11 562.36h1.0v1.0h-1.0zM145.6 539.07h1.0v1.0h-1.0zM152.47 562.22h1.0v1.0h-1.0zM153.78 563.58h1.0v1.0h-1.0zM147.99 553.32h1.0v1.0h-1.0zM144.68 532.72h1.0v1.0h-1.0zM145.96 546.7h1.0v1.0h-1.0zM151.32 541.72h1.0v1.0h-1.0zM147.96 518.88h1.0v1.0h-1.0zM145.59 510.13h1.0v1.0h-1.0zM145.23 520.64h1.0v1.0h-1.0zM148.53 544.8h1.0v1.0h-1.0zM147.4 543.99h1.0v1.0h-1.0zM147.8 529.93h1.0v1.0h-1.0zM149.47 554.85h1.0v1.0h-1.0zM147.15 531.55h1.0v1.0h-1.0zM148.51 563.3h1.0v1.0h-1.0zM143.73 475.82h1.0v1.0h-1.0z"/><path fill="#00a000" d="M147.37 527.23h1.0v1.0h-1.0zM145.77 517.03h1.0v1.0h-1.0zM143.58 518.73h1.0v1.0h-1.0zM146.62 509.8h1.0v1.0h-1.0zM147.16 528.22h1.0v1.0h-1.0zM146.05 543.52h1.0v1.0h-1.0zM151.57 529.56h1.0v1.0h-1.0zM144.36 556.84h1.0v1.0h-1.0zM147.54 547.82h1.0v1.0h-1.0zM151.77 575.1h1.0v1.0h-1.0zM153.67 569.26h1.0v1.0h-1.0zM150.67 553.5h1.0v1.0h-1.0zM150.56 535.37h1.0v1.0h-1.0zM145.99 543.16h1.0v1.0h-1.0zM151.87 535.48h1.0v1.0h-1.0zM138.41 485.54h1.0v1.0h-1.0zM145.86 485.81h1.0v1.0h-1.0zM149.27 501.45h1.0v1.0h-1.0zM142.78 536.47h1.0v1.0h-1.0zM153.08 547.37h1.0v1.0h-1.0zM146.89 532.54h1.0v1.0h-1.0zM147.54 539.97h1.0v1.0h-1.0zM144.32 499.9h1.0v1.0h-1.0zM156.41 559.2h1.0v1.0h-1.0zM142.59 524.56h1.0v1.0h-1.0zM152.89 540.63h1.0v1.0h-1.0zM150.74 546.62h1.0v1.0h-1.0zM144.37 554.65h1.0v1.0h-1.0zM154 570.77h1.0v1.0h-1.0zM143.35 514.47h1.0v1.0h-1.0zM152.18 552.45h1.0v1.0h-1.0zM147.16 533.28h1.0v1.0h-1.0zM146.56 536.3h1.0v1.0h-1.0zM148.66 522.06h1.0v1.0h-1.0zM146.42 530.37h1.0v1.0h-1.0zM146.16 521.65h1.0v1.0h-1.0zM147.25 551.98h1.0v1.0h-1.0zM152.88 565.9h1.0v1.0h-1.0zM144.26 561.03h1.0v1.0h-1.0zM146.12 534.03h1.0v1.0h-1.0zM149.07 540.66h1.0v1.0h-1.0zM142.68 501.71h1.0v1.0h-1.0zM149.29 536.38h1.0v1.0h-1.0zM144.77 521.32h1.0v1.0h-1.0zM154.41 556.7h1.0v1.0h-1.0zM140.51 497.03h1.0v1.0h-1.0zM153.18 535.42h1.0v1.0h-1.0zM150.61 571.88h1.0v1.0h-1.0zM139.32 545.14h1.0v1.0h-1.0zM148.27 544.17h1.0v1.0h-1.0zM153.46 548.65h1.0v1.0h-1.0zM156.81 560.8h1.0v1.0h-1.0zM142.28 518.98h1.0v1.0h-1.0zM146.17 532.36h1.0v1.0h-1.0zM138.66 478.97h1.0v1.0h-1.0zM146.09 533.65h1.0v1.0h-1.0zM149.02 534.47h1.0v1.0h-1.0zM152.75 539.95h1.0v1.0h-1.0zM146.72 546.22h1.0v1.0h-1.0zM152.08 508.27h1.0v1.0h-1.0zM146.03 537.39h1.0v1.0h-1.0zM148.37 512.87h1.0v1.0h-1.0zM148.14 535.62h1.0v1.0h-1.0zM146.67 552.04h1.0v1.0h-1.0zM148.73 575.58h1.0v1.0h-1.0zM147.24 519.04h1.0v1.0h-1.0zM144.3 533.94h1.0v1.0h-1.0zM149.51 546.51h1.0v1.0h-1.0zM139.67 521.26h1.0v1.0h-1.0zM148.03 559.43h1.0v1.0h-1.0zM144.05 544.58h1.0v1.0h-1.0zM147 521.69h1.0v1.0h-1.0zM149.92 527.76h1.0v1.0h-1.0zM150.2 569.86h1.0v1.0h-1.0zM150.98 518.63h1.0v1.0h-1.0zM150.93 545.9h1.0v1.0h-1.0zM150.75 541.11h1.0v1.0h-1.0zM150.15 541.44h1.0v1.0h-1.0zM147.13 557.68h1.0v1.0h-1.0zM147.75 571.35h1.0v1.0h-1.0zM144.92 501.53h1.0v1.0h-1.0zM149.07 518.92h1.0v1.0h-1.0zM147.66 519.86h1.0v1.0h-1.0zM146.97 538.2h1.0v1.0h-1.0zM150.14 580.25h1.0v1.0h-1.0zM150.73 540.62h1.0v1.0h-1.0zM142.95 522.09h1.0v1.0h-1.0zM142.51 517.5h1.0v1.0h-1.0zM147 556.5h1.0v1.0h-1.0zM146.64 536.91h1.0v1.0h-1.0zM152.13 555.92h1.0v1.0h-1.0zM149.74 533.78h1.0v1.0h-1.0zM147.59 529.33h1.0v1.0h-1.0zM145.14 549.66h1.0v1.0h-1.0zM142.98 567.87h1.0v1.0h-1.0zM152.72 551.26h1.0v1.0h-1.0zM148.91 546.65h1.0v1.0h-1.0zM144.91 531.86h1.0v1.0h-1.0zM139.11 515.49h1.0v1.0h-1.0zM147.9 537.19h1.0v1.0h-1.0zM152.09 575.39h1.0v1.0h-1.0zM156.43 562.26h1.0v1.0h-1.0zM153.55 555.73h1.0v1.0h-1.0zM155.2 502.52h1.0v1.0h-1.0zM148.17 565.25h1.0v1.0h-1.0zM141.92 497.96h1.0v1.0h-1.0zM147.99 548.04h1.0v1.0h-1.0zM146.46 546.7h1.0v1.0h-1.0zM141.7 532.65h1.0v1.0h-1.0zM144.03 540.89h1.0v1.0h-1.0zM144.72 536.51h1.0v1.0h-1.0zM141.8 527.8h1.0v1.0h-1.0zM146.32 547.01h1.0v1.0h-1.0zM147.9 548.66h1.0v1.0h-1.0zM142.75 523.9h1.0v1.0h-1.0zM151.27 556.71h1.0v1.0h-1.0zM153.26 561.02h1.0v1.0h-1.0zM148.5 521.32h1.0v1.0h-1.0zM149.28 563.45h1.0v1.0h-1.0zM147.03 484.53h1.0v1.0h-1.0zM147.35 547.18h1.0v1.0h-1.0zM153.27 585.86h1.0v1.0h-1.0zM155.42 545.47h1.0v1.0h-1.0zM141.82 537.42h1.0v1.0h-1.0zM142.79 519.22h1.0v1.0h-1.0zM140.61 517.54h1.0v1.0h-1.0zM147.12 551.67h1.0v1.0h-1.0zM139.61 527.1h1.0v1.0h-1.0zM149.95 545.77h1.0v1.0h-1.0zM143.97 475.74h1.0v1.0h-1.0zM147.82 540.96h1.0v1.0h-1.0zM148.25 567.01h1.0v1.0h-1.0zM146.99 529.55h1.0v1.0h-1.0zM148.67 529.09h1.0v1.0h-1.0zM147.68 510.69h1.0v1.0h-1.0zM146.23 561.25h1.0v1.0h-1.0zM148.64 535.75h1.0v1.0h-1.0zM147.13 559.05h1.0v1.0h-1.0zM146.76 562.06h1.0v1.0h-1.0zM151.46 521.84h1.0v1.0h-1.0zM148.43 578.68h1.0v1.0h-1.0zM142.18 522.85h1.0v1.0h-1.0zM145.33 533.49h1.0v1.0h-1.0zM143.61 531.06h1.0v1.0h-1.0zM149.03 536.91h1.0v1.0h-1.0zM155.41 580.27h1.0v1.0h-1.0zM146.03 537.13h1.0v1.0h-1.0zM147.7 530.15h1.0v1.0h-1.0zM145.72 536.93h1.0v1.0h-1.0zM146.34 518.68h1.0v1.0h-1.0zM147.81 513.45h1.0v1.0h-1.0zM146.31 547.93h1.0v1.0h-1.0zM147.19 575.49h1.0v1.0h-1.0zM148.39 558.97h1.0v1.0h-1.0zM151.27 551.91h1.0v1.0h-1.0zM149.46 525.88h1.0v1.0h-1.0zM146.95 513.65h1.0v1.0h-1.0zM145.62 524.94h1.0v1.0h-1.0zM146.05 538.75h1.0v1.0h-1.0zM141.73 512.11h1.0v1.0h-1.0zM141.09 503.88h1.0v1.0h-1.0zM142.69 527.35h1.0v1.0h-1.0zM143 557.27h1.0v1.0h-1.0zM146.73 544.95h1.0v1.0h-1.0zM148.86 545.77h1.0v1.0h-1.0zM148.23 520.94h1.0v1.0h-1.0zM147.54 534.11h1.0v1.0h-1.0zM152.94 540.5h1.0v1.0h-1.0zM145.61 521.32h1.0v1.0h-1.0zM147.05 524.52h1.0v1.0h-1.0zM145.35 494.01h1.0v1.0h-1.0zM146.52 513.21h1.0v1.0h-1.0zM146.54 523.19h1.0v1.0h-1.0zM145.43 524.58h1.0v1.0h-1.0zM147.51 505.05h1.0v1.0h-1.0zM146.7 535.29h1.0v1.0h-1.0zM143.71 528.09h1.0v1.0h-1.0zM146.63 510.28h1.0v1.0h-1.0zM147.5 529.01h1.0v1.0h-1.0zM154.8 591h1.0v1.0h-1.0zM146.64 526.82h1.0v1.0h-1.0zM154.47 555.78h1.0v1.0h-1.0zM145.26 546.64h1.0v1.0h-1.0zM148.14 511.01h1.0v1.0h-1.0zM151.54 532.05h1.0v1.0h-1.0zM147.71 528.53h1.0v1.0h-1.0zM143.62 523.81h1.0v1.0h-1.0zM151.56 552.27h1.0v1.0h-1.0zM153.98 567.33h1.0v1.0h-1.0zM150.55 548.05h1.0v1.0h-1.0zM146.69 518.87h1.0v1.0h-1.0zM157.01 570.07h1.0v1.0h-1.0zM146.74 518.82h1.0v1.0h-1.0zM150.86 550.47h1.0v1.0h-1.0zM146.64 537.69h1.0v1.0h-1.0zM145.97 534.33h1.0v1.0h-1.0zM150.77 541.89h1.0v1.0h-1.0zM146.08 540.44h1.0v1.0h-1.0zM145.64 531.48h1.0v1.0h-1.0zM146.17 512.74h1.0v1.0h-1.0zM148.38 554.16h1.0v1.0h-1.0zM152.59 552.25h1.0v1.0h-1.0zM142.59 540.79h1.0v1.0h-1.0zM146.99 542.44h1.0v1.0h-1.0zM139.94 522.96h1.0v1.0h-1.0zM151.58 522.18h1.0v1.0h-1.0zM145.33 527.76h1.0v1.0h-1.0zM151.18 503.76h1.0v1.0h-1.0zM145.08 556.71h1.0v1.0h-1.0zM143.6 548.58h1.0v1.0h-1.0zM159.65 572.57h1.0v1.0h-1.0zM149.52 570.76h1.0v1.0h-1.0zM153.1 552.32h1.0v1.0h-1.0zM146.85 523.27h1.0v1.0h-1.0zM144.75 557h1.0v1.0h-1.0zM153.24 557.37h1.0v1.0h-1.0zM148.1 543.19h1.0v1.0h-1.0zM147.92 543.64h1.0v1.0h-1.0zM149.9 580.49h1.0v1.0h-1.0zM148.15 541.26h1.0v1.0h-1.0zM148.14 553.31h1.0v1.0h-1.0zM145.94 524.21h1.0v1.0h-1.0zM148.17 513.87h1.0v1.0h-1.0zM146.52 534.45h1.0v1.0h-1.0zM149.45 531.41h1.0v1.0h-1.0zM149.96 557.03h1.0v1.0h-1.0zM150.44 551.89h1.0v1.0h-1.0zM150.76 592.64h1.0v1.0h-1.0zM137.12 512.37h1.0v1.0h-1.0zM152.85 520.67h1.0v1.0h-1.0zM152.82 567.14h1.0v1.0h-1.0zM143.92 526.09h1.0v1.0h-1.0zM144.97 525.93h1.0v1.0h-1.0zM150.04 551.36h1.0v1.0h-1.0zM145.11 536.24h1.0v1.0h-1.0zM149.03 528.17h1.0v1.0h-1.0zM150.72 538.49h1.0v1.0h-1.0zM148.1 586.4h1.0v1.0h-1.0zM149.24 541.64h1.0v1.0h-1.0zM150.41 520.08h1.0v1.0h-1.0zM146.41 525.36h1.0v1.0h-1.0zM146.24 532.3h1.0v1.0h-1.0zM147.07 558.61h1.0v1.0h-1.0zM149.3 561.8h1.0v1.0h-1.0zM152.08 530.32h1.0v1.0h-1.0zM143.39 497.93h1.0v1.0h-1.0zM144.85 538.02h1.0v1.0h-1.0zM141.33 520.52h1.0v1.0h-1.0zM143.54 527.27h1.0v1.0h-1.0zM144.95 523.14h1.0v1.0h-1.0zM141.34 530.79h1.0v1.0h-1.0zM143.36 536.01h1.0v1.0h-1.0zM143.78 480.58h1.0v1.0h-1.0zM144.94 527.32h1.0v1.0h-1.0zM151.54 564.68h1.0v1.0h-1.0zM148.96 514.73h1.0v1.0h-1.0zM148.88 548.46h1.0v1.0h-1.0zM153.06 568.49h1.0v1.0h-1.0zM146.27 545.6h1.0v1.0h-1.0z"/><path fill="#44dd44" d="M149.77 547.08h1.0v1.0h-1.0zM148.83 558.83h1.0v1.0h-1.0zM148.57 543.88h1.0v1.0h-1.0zM150.48 552.29h1.0v1.0h-1.0zM147.34 554.53h1.0v1.0h-1.0zM147.66 540.31h1.0v1.0h-1.0zM152.31 549.63h1.0v1.0h-1.0zM134.28 507.58h1.0v1.0h-1.0zM143.1 518.35h1.0v1.0h-1.0zM151.15 541.73h1.0v1.0h-1.0zM146.86 545.01h1.0v1.0h-1.0zM148.29 535.65h1.0v1.0h-1.0zM144.4 518.26h1.0v1.0h-1.0zM144.13 529.2h1.0v1.0h-1.0zM147.46 524.81h1.0v1.0h-1.0zM151.34 539.4h1.0v1.0h-1.0zM148.23 527.41h1.0v1.0h-1.0zM146.95 531.04h1.0v1.0h-1.0zM148.35 538.52h1.0v1.0h-1.0zM144.32 555.79h1.0v1.0h-1.0zM145.72 520.54h1.0v1.0h-1.0zM147.32 540.44h1.0v1.0h-1.0zM148.59 535.55h1.0v1.0h-1.0zM147.82 553.09h1.0v1.0h-1.0zM161.34 577.53h1.0v1.0h-1.0zM152.57 543.24h1.0v1.0h-1.0zM146.66 523.42h1.0v1.0h-1.0zM149.48 539.93h1.0v1.0h-1.0zM144.51 523.97h1.0v1.0h-1.0zM148.16 548.36h1.0v1.0h-1.0zM148.79 543.55h1.0v1.0h-1.0zM153.96 540.43h1.0v1.0h-1.0zM146.06 522.75h1.0v1.0h-1.0zM146.47 505.77h1.0v1.0h-1.0zM150.72 537.98h1.0v1.0h-1.0zM150.62 546.08h1.0v1.0h-1.0zM153.29 549.7h1.0v1.0h-1.0zM140.9 528.25h1.0v1.0h-1.0zM146.57 519.86h1.0v1.0h-1.0zM148 546.39h1.0v1.0h-1.0zM147.06 534.95h1.0v1.0h-1.0zM145.18 541.3h1.0v1.0h-1.0zM145.37 574.71h1.0v1.0h-1.0zM147.15 555.16h1.0v1.0h-1.0zM155.99 560.2h1.0v1.0h-1.0zM150.22 561.03h1.0v1.0h-1.0zM147.3 555.95h1.0v1.0h-1.0zM139.61 497.71h1.0v1.0h-1.0zM146.55 529.78h1.0v1.0h-1.0zM148.49 551.4h1.0v1.0h-1.0zM147.46 514.71h1.0v1.0h-1.0zM144.3 508.01h1.0v1.0h-1.0zM146.53 537.31h1.0v1.0h-1.0zM148.06 561.78h1.0v1.0h-1.0zM148.03 537.43h1.0v1.0h-1.0zM143.75 538.5h1.0v1.0h-1.0zM143.75 526.54h1.0v1.0h-1.0zM151.11 561.03h1.0v1.0h-1.0zM148.35 547.73h1.0v1.0h-1.0zM149.48 531.59h1.0v1.0h-1.0zM147.31 558.7h1.0v1.0h-1.0zM152.21 538.52h1.0v1.0h-1.0zM155.02 570.77h1.0v1.0h-1.0zM150.46 544.81h1.0v1.0h-1.0zM142.61 529.29h1.0v1.0h-1.0zM147.8 524.1h1.0v1.0h-1.0zM150.53 510.84h1.0v1.0h-1.0zM147.51 564.88h1.0v1.0h-1.0zM147.8 536.07h1.0v1.0h-1.0zM146.87 555.95h1.0v1.0h-1.0zM145.55 525.26h1.0v1.0h-1.0zM148.01 535.49h1.0v1.0h-1.0zM147.97 562.01h1.0v1.0h-1.0zM151.3 539.15h1.0v1.0h-1.0zM146.8 525.6h1.0v1.0h-1.0zM150.83 561.96h1.0v1.0h-1.0zM142.14 523.55h1.0v1.0h-1.0zM149.02 561.34h1.0v1.0h-1.0zM145.11 538.06h1.0v1.0h-1.0zM146.84 552.68h1.0v1.0h-1.0zM144.19 524.92h1.0v1.0h-1.0zM149.9 542.89h1.0v1.0h-1.0zM149.41 560.01h1.0v1.0h-1.0zM152.06 543.18h1.0v1.0h-1.0zM144.13 524.12h1.0v1.0h-1.0zM148.35 534.93h1.0v1.0h-1.0zM154.73 530.89h1.0v1.0h-1.0zM143.67 532.94h1.0v1.0h-1.0zM152.98 544.44h1.0v1.0h-1.0zM145.86 534.9h1.0v1.0h-1.0zM144.86 524.32h1.0v1.0h-1.0zM146.49 549.56h1.0v1.0h-1.0zM148.59 524.66h1.0v1.0h-1.0zM147.67 525.87h1.0v1.0h-1.0zM145.44 527.71h1.0v1.0h-1.0zM155.78 537.94h1.0v1.0h-1.0zM141.01 501.55h1.0v1.0h-1.0zM145.83 524.4h1.0v1.0h-1.0zM144.86 506.55h1.0v1.0h-1.0zM148.81 572.26h1.0v1.0h-1.0zM148.48 516.72h1.0v1.0h-1.0zM149.83 543.32h1.0v1.0h-1.0zM144 557.39h1.0v1.0h-1.0zM146.85 529.93h1.0v1.0h-1.0zM147.38 547.83h1.0v1.0h-1.0zM147.97 540.36h1.0v1.0h-1.0zM142.59 508.44h1.0v1.0h-1.0zM148.76 508.6h1.0v1.0h-1.0zM146.16 567.38h1.0v1.0h-1.0zM150.83 545.81h1.0v1.0h-1.0zM144.18 532.54h1.0v1.0h-1.0zM151.38 539.87h1.0v1.0h-1.0zM149.65 571.8h1.0v1.0h-1.0zM147.19 514.42h1.0v1.0h-1.0zM146.95 508.84h1.0v1.0h-1.0zM148.82 519.31h1.0v1.0h-1.0zM140.75 517.08h1.0v1.0h-1.0zM143.46 524.25h1.0v1.0h-1.0zM147.22 544.29h1.0v1.0h-1.0zM151.39 538.27h1.0v1.0h-1.0zM144.81 484.7h1.0v1.0h-1.0zM145.55 567.51h1.0v1.0h-1.0zM143.25 537.91h1.0v1.0h-1.0zM147.22 527.77h1.0v1.0h-1.0zM151.78 545.09h1.0v1.0h-1.0zM150.79 573.79h1.0v1.0h-1.0zM142.05 501.57h1.0v1.0h-1.0zM138.34 484.3h1.0v1.0h-1.0zM152.71 560.9h1.0v1.0h-1.0zM148.79 534.76h1.0v1.0h-1.0zM138.48 504.79h1.0v1.0h-1.0zM152.78 579.19h1.0v1.0h-1.0zM154.34 561.91h1.0v1.0h-1.0zM145.34 519.32h1.0v1.0h-1.0zM150.3 537.92h1.0v1.0h-1.0zM149.45 557.36h1.0v1.0h-1.0zM150.55 551.75h1.0v1.0h-1.0zM144.77 522.7h1.0v1.0h-1.0zM154.81 533.05h1.0v1.0h-1.0zM151.75 532h1.0v1.0h-1.0zM147.33 540.36h1.0v1.0h-1.0zM144.7 481.72h1.0v1.0h-1.0zM152.68 542.26h1.0v1.0h-1.0zM145.37 518.76h1.0v1.0h-1.0zM151.87 547.05h1.0v1.0h-1.0zM147.82 509.43h1.0v1.0h-1.0zM144.65 507.36h1.0v1.0h-1.0zM151.71 519.1h1.0v1.0h-1.0zM150.09 568.59h1.0v1.0h-1.0zM154.29 532.38h1.0v1.0h-1.0zM149.74 542.56h1.0v1.0h-1.0zM149.45 546.12h1.0v1.0h-1.0zM146.65 561.16h1.0v1.0h-1.0zM145.04 534.46h1.0v1.0h-1.0zM151.38 528.82h1.0v1.0h-1.0zM148.39 535.6h1.0v1.0h-1.0zM144.47 513.36h1.0v1.0h-1.0zM151.58 542.45h1.0v1.0h-1.0zM153.52 564.85h1.0v1.0h-1.0zM145.71 512.67h1.0v1.0h-1.0zM148.05 548.09h1.0v1.0h-1.0zM145.45 535.27h1.0v1.0h-1.0zM142.18 545.86h1.0v1.0h-1.0zM156.13 552.34h1.0v1.0h-1.0zM153.36 569.53h1.0v1.0h-1.0zM147.73 511.72h1.0v1.0h-1.0zM145.87 548.74h1.0v1.0h-1.0zM152.71 565.99h1.0v1.0h-1.0zM148.8 563.08h1.0v1.0h-1.0zM144.07 532.12h1.0v1.0h-1.0zM153.55 549.54h1.0v1.0h-1.0zM141.63 555.25h1.0v1.0h-1.0zM149.02 556.66h1.0v1.0h-1.0zM150 547.68h1.0v1.0h-1.0zM148.04 543.12h1.0v1.0h-1.0zM152.61 571.11h1.0v1.0h-1.0zM152.45 538.28h1.0v1.0h-1.0zM147.06 533.06h1.0v1.0h-1.0zM145.8 558.18h1.0v1.0h-1.0zM148.81 551.37h1.0v1.0h-1.0zM139.22 506.92h1.0v1.0h-1.0zM143.39 520.82h1.0v1.0h-1.0zM146.42 544.99h1.0v1.0h-1.0zM148.69 542.67h1.0v1.0h-1.0zM144.47 526.14h1.0v1.0h-1.0zM153.21 576.4h1.0v1.0h-1.0zM149.91 536.64h1.0v1.0h-1.0zM150.67 571.54h1.0v1.0h-1.0zM134.79 476.7h1.0v1.0h-1.0zM147.63 544.69h1.0v1.0h-1.0zM149.16 545.59h1.0v1.0h-1.0zM143.59 513.36h1.0v1.0h-1.0zM143.2 536.21h1.0v1.0h-1.0zM142.86 497.41h1.0v1.0h-1.0zM151.17 580.83h1.0v1.0h-1.0zM147.5 511.14h1.0v1.0h-1.0zM150.25 552.18h1.0v1.0h-1.0zM148.24 557.65h1.0v1.0h-1.0zM148.99 552.83h1.0v1.0h-1.0zM148.37 528.82h1.0v1.0h-1.0zM149.18 547.13h1.0v1.0h-1.0zM149.02 550.66h1.0v1.0h-1.0zM146.73 519.08h1.0v1.0h-1.0zM150.87 538.82h1.0v1.0h-1.0zM148.92 547.08h1.0v1.0h-1.0zM156.26 535.57h1.0v1.0h-1.0zM148.52 551.35h1.0v1.0h-1.0zM155.59 571.78h1.0v1.0h-1.0zM152.86 561.44h1.0v1.0h-1.0zM150.06 588.76h1.0v1.0h-1.0zM153.6 524.24h1.0v1.0h-1.0zM147.12 527.98h1.0v1.0h-1.0zM146.38 510.8h1.0v1.0h-1.0zM146.32 540.37h1.0v1.0h-1.0zM140.48 526.52h1.0v1.0h-1.0zM143.98 502.32h1.0v1.0h-1.0zM145.22 558.74h1.0v1.0h-1.0zM149.74 534.61h1.0v1.0h-1.0zM151.98 546.44h1.0v1.0h-1.0zM144.06 551.44h1.0v1.0h-1.0zM146.29 548.27h1.0v1.0h-1.0zM148.07 539.87h1.0v1.0h-1.0zM140.15 514.3h1.0v1.0h-1.0zM148.98 513.66h1.0v1.0h-1.0zM149.06 560.95h1.0v1.0h-1.0zM144.31 503.23h1.0v1.0h-1.0zM147.79 568.9h1.0v1.0h-1.0zM144.5 529.16h1.0v1.0h-1.0zM145.52 532.97h1.0v1.0h-1.0zM147.69 519.63h1.0v1.0h-1.0zM146.44 552.15h1.0v1.0h-1.0zM141.6 519.01h1.0v1.0h-1.0zM143.06 523.32h1.0v1.0h-1.0zM150.45 548.25h1.0v1.0h-1.0zM144.39 513.11h1.0v1.0h-1.0zM150.98 519.52h1.0v1.0h-1.0zM146.31 543.63h1.0v1.0h-1.0z"/><path fill="#90ff90" d="M133.52 513.82h1.0v1.0h-1.0zM149.4 535.8h1.0v1.0h-1.0zM151.34 537.3h1.0v1.0h-1.0zM151.67 555.46h1.0v1.0h-1.0zM145.99 575.43h1.0v1.0h-1.0zM149.77 538.55h1.0v1.0h-1.0zM149.34 562.63h1.0v1.0h-1.0zM146.08 535.65h1.0v1.0h-1.0zM144.51 564.5h1.0v1.0h-1.0zM151.52 536.54h1.0v1.0h-1.0zM152.01 573.6h1.0v1.0h-1.0zM155.15 586.83h1.0v1.0h-1.0zM143.79 578.47h1.0v1.0h-1.0zM145.52 532.42h1.0v1.0h-1.0zM145.13 536.26h1.0v1.0h-1.0zM140.04 527.56h1.0v1.0h-1.0zM147.21 536.09h1.0v1.0h-1.0zM155.09 540.72h1.0v1.0h-1.0zM144.29 541.67h1.0v1.0h-1.0zM135.96 478.1h1.0v1.0h-1.0zM149.52 553.5h1.0v1.0h-1.0zM146.27 557.87h1.0v1.0h-1.0zM142.71 526.39h1.0v1.0h-1.0zM153.33 573.08h1.0v1.0h-1.0zM148.46 552.61h1.0v1.0h-1.0zM140.69 514.27h1.0v1.0h-1.0zM150.69 560.05h1.0v1.0h-1.0zM149.51 565.02h1.0v1.0h-1.0zM145.66 505.32h1.0v1.0h-1.0zM151.75 530.62h1.0v1.0h-1.0zM147.58 498.08h1.0v1.0h-1.0zM147.76 522.15h1.0v1.0h-1.0zM151.85 537.66h1.0v1.0h-1.0zM146.91 506.79h1.0v1.0h-1.0zM143.81 498.95h1.0v1.0h-1.0zM143.24 492.46h1.0v1.0h-1.0zM144.27 532.89h1.0v1.0h-1.0zM142.33 537.39h1.0v1.0h-1.0zM154.29 564.8h1.0v1.0h-1.0zM143.49 544.12h1.0v1.0h-1.0zM146.01 525.05h1.0v1.0h-1.0zM147 523.88h1.0v1.0h-1.0zM147.73 544.62h1.0v1.0h-1.0zM144.48 523.77h1.0v1.0h-1.0zM145.59 505.4h1.0v1.0h-1.0zM152.17 579.3h1.0v1.0h-1.0zM150.79 529.93h1.0v1.0h-1.0zM152.44 563.7h1.0v1.0h-1.0zM155.49 558.2h1.0v1.0h-1.0zM144.21 531.95h1.0v1.0h-1.0zM138.99 504.3h1.0v1.0h-1.0zM150.35 530h1.0v1.0h-1.0zM152.13 556.75h1.0v1.0h-1.0zM155.83 522.59h1.0v1.0h-1.0zM154.86 579.9h1.0v1.0h-1.0zM146.15 525.04h1.0v1.0h-1.0zM149.82 557.37h1.0v1.0h-1.0zM146.53 517.26h1.0v1.0h-1.0zM148.32 542.49h1.0v1.0h-1.0zM142.46 513.15h1.0v1.0h-1.0zM141.75 491.91h1.0v1.0h-1.0zM150.79 567.34h1.0v1.0h-1.0zM147.57 528.05h1.0v1.0h-1.0zM141.51 512.96h1.0v1.0h-1.0zM145.83 577.75h1.0v1.0h-1.0zM154.74 569.44h1.0v1.0h-1.0zM148.09 533.04h1.0v1.0h-1.0zM148.46 554.12h1.0v1.0h-1.0zM143.15 563.91h1.0v1.0h-1.0zM149.62 542.15h1.0v1.0h-1.0zM147.39 538.17h1.0v1.0h-1.0zM157.04 577.58h1.0v1.0h-1.0zM156.85 575.58h1.0v1.0h-1.0zM149.92 558.72h1.0v1.0h-1.0zM147.88 515.88h1.0v1.0h-1.0zM149.2 534.29h1.0v1.0h-1.0zM142.76 518.67h1.0v1.0h-1.0zM153.57 574.14h1.0v1.0h-1.0zM147.33 549.29h1.0v1.0h-1.0zM144.49 535.93h1.0v1.0h-1.0zM145.98 567.38h1.0v1.0h-1.0zM150.54 546.68h1.0v1.0h-1.0zM149.03 521.56h1.0v1.0h-1.0zM148.18 539.49h1.0v1.0h-1.0zM149.02 566.47h1.0v1.0h-1.0zM151.79 561.02h1.0v1.0h-1.0zM142.43 533.18h1.0v1.0h-1.0zM148.89 503.14h1.0v1.0h-1.0zM147.98 574.26h1.0v1.0h-1.0zM153.79 564.43h1.0v1.0h-1.0zM151.44 578.95h1.0v1.0h-1.0zM146.84 536.72h1.0v1.0h-1.0zM147.43 532.98h1.0v1.0h-1.0zM153.05 551.3h1.0v1.0h-1.0zM150.84 529.62h1.0v1.0h-1.0zM142.76 540.04h1.0v1.0h-1.0zM150.97 543.39h1.0v1.0h-1.0zM146.13 555.75h1.0v1.0h-1.0zM148.93 545.56h1.0v1.0h-1.0zM147.57 550.17h1.0v1.0h-1.0zM144.33 518.23h1.0v1.0h-1.0zM147.71 532.2h1.0v1.0h-1.0zM145.55 530.85h1.0v1.0h-1.0zM148.25 549.4h1.0v1.0h-1.0zM152.81 554.74h1.0v1.0h-1.0zM153.18 552.7h1.0v1.0h-1.0zM148.47 526.4h1.0v1.0h-1.0zM145.89 541.83h1.0v1.0h-1.0zM145.57 531.29h1.0v1.0h-1.0zM151.15 505.67h1.0v1.0h-1.0zM146.65 533.11h1.0v1.0h-1.0zM141.59 487.68h1.0v1.0h-1.0zM144.38 504.79h1.0v1.0h-1.0zM157.26 571.99h1.0v1.0h-1.0zM147.66 559.93h1.0v1.0h-1.0zM145.36 521.78h1.0v1.0h-1.0zM148.22 543.51h1.0v1.0h-1.0zM148.07 536.46h1.0v1.0h-1.0zM141.58 530.25h1.0v1.0h-1.0zM139.69 518.64h1.0v1.0h-1.0zM150.05 567.52h1.0v1.0h-1.0zM147.44 528.24h1.0v1.0h-1.0zM156.31 576.96h1.0v1.0h-1.0zM148.06 529.79h1.0v1.0h-1.0zM146.1 538.33h1.0v1.0h-1.0zM144.66 521.02h1.0v1.0h-1.0zM142.27 514.69h1.0v1.0h-1.0zM152.01 526.96h1.0v1.0h-1.0zM148.99 528.29h1.0v1.0h-1.0zM146.13 539.77h1.0v1.0h-1.0zM143.95 544.23h1.0v1.0h-1.0zM148.96 550.03h1.0v1.0h-1.0zM148.02 526.5h1.0v1.0h-1.0zM146.91 505.63h1.0v1.0h-1.0zM149.8 533.94h1.0v1.0h-1.0zM147.4 588.48h1.0v1.0h-1.0zM140.36 524.44h1.0v1.0h-1.0zM141.28 528.69h1.0v1.0h-1.0zM147.29 538.51h1.0v1.0h-1.0zM149.37 515.7h1.0v1.0h-1.0zM147.38 530.48h1.0v1.0h-1.0zM146.89 540.68h1.0v1.0h-1.0zM144.69 539.97h1.0v1.0h-1.0zM146.84 533.5h1.0v1.0h-1.0zM149.24 548.91h1.0v1.0h-1.0zM144.99 521.82h1.0v1.0h-1.0zM143.49 509.06h1.0v1.0h-1.0zM144.65 519.24h1.0v1.0h-1.0zM148.46 547.67h1.0v1.0h-1.0zM147.31 523.53h1.0v1.0h-1.0zM150.97 561.38h1.0v1.0h-1.0zM143.31 519.79h1.0v1.0h-1.0zM152.53 536.16h1.0v1.0h-1.0zM147.04 565.78h1.0v1.0h-1.0zM146.85 502.14h1.0v1.0h-1.0zM156.03 578.3h1.0v1.0h-1.0zM146.29 529.88h1.0v1.0h-1.0zM143.64 536.71h1.0v1.0h-1.0zM150.91 573.76h1.0v1.0h-1.0zM147.58 529.82h1.0v1.0h-1.0zM151.19 536.94h1.0v1.0h-1.0zM148.74 551.79h1.0v1.0h-1.0zM150.47 522.68h1.0v1.0h-1.0zM147.17 540.18h1.0v1.0h-1.0zM143.14 511.12h1.0v1.0h-1.0zM142.98 534.8h1.0v1.0h-1.0zM141.42 521.35h1.0v1.0h-1.0zM151.23 562.34h1.0v1.0h-1.0zM147.22 516.89h1.0v1.0h-1.0zM148.51 524.15h1.0v1.0h-1.0zM149.12 537.99h1.0v1.0h-1.0zM150.75 560.54h1.0v1.0h-1.0zM145.97 539.76h1.0v1.0h-1.0zM147.64 533.56h1.0v1.0h-1.0zM147.29 540.61h1.0v1.0h-1.0zM143.44 542.65h1.0v1.0h-1.0zM139.65 518.05h1.0v1.0h-1.0zM149.27 544.84h1.0v1.0h-1.0zM144.46 518.98h1.0v1.0h-1.0zM144.1 510.87h1.0v1.0h-1.0zM147.96 534.86h1.0v1.0h-1.0zM151.86 541.85h1.0v1.0h-1.0zM145.88 537.43h1.0v1.0h-1.0zM145.68 522.65h1.0v1.0h-1.0zM144.23 528.21h1.0v1.0h-1.0zM145.94 548.59h1.0v1.0h-1.0zM145.38 535.15h1.0v1.0h-1.0zM151.48 531.03h1.0v1.0h-1.0zM147.89 518.85h1.0v1.0h-1.0zM149.69 551.07h1.0v1.0h-1.0zM145.55 546.83h1.0v1.0h-1.0zM148.13 537.71h1.0v1.0h-1.0zM144.58 519.39h1.0v1.0h-1.0zM148.37 541.61h1.0v1.0h-1.0zM147.37 531.36h1.0v1.0h-1.0zM143.75 508.55h1.0v1.0h-1.0zM144.24 509.72h1.0v1.0h-1.0zM145.6 519.16h1.0v1.0h-1.0zM150.08 537.47h1.0v1.0h-1.0zM155.9 555.65h1.0v1.0h-1.0zM138.04 505.23h1.0v1.0h-1.0zM151.42 566.35h1.0v1.0h-1.0zM145.81 517.82h1.0v1.0h-1.0zM143.67 522h1.0v1.0h-1.0zM156.34 562.84h1.0v1.0h-1.0zM142.9 539.96h1.0v1.0h-1.0zM145.24 518.23h1.0v1.0h-1.0zM147.4 541.27h1.0v1.0h-1.0zM155.44 544.86h1.0v1.0h-1.0zM148.79 483.48h1.0v1.0h-1.0zM149.33 537.72h1.0v1.0h-1.0zM152.83 556.96h1.0v1.0h-1.0zM142.31 519.82h1.0v1.0h-1.0zM149.46 546.33h1.0v1.0h-1.0zM147.12 553.57h1.0v1.0h-1.0zM144.11 540.21h1.0v1.0h-1.0zM146.06 538.85h1.0v1.0h-1.0zM146.39 569.15h1.0v1.0h-1.0zM149.77 550.36h1.0v1.0h-1.0zM145.7 514.5h1.0v1.0h-1.0zM150.17 547.06h1.0v1.0h-1.0zM150.63 569.87h1.0v1.0h-1.0z"/><path fill="#66f066" d="M146.97 543.57h1.0v1.0h-1.0zM148.33 524.28h1.0v1.0h-1.0zM145.82 533.05h1.0v1.0h-1.0zM145.81 522.51h1.0v1.0h-1.0zM147.64 543.16h1.0v1.0h-1.0zM142.6 544.69h1.0v1.0h-1.0zM148.81 515.09h1.0v1.0h-1.0zM145.23 533.72h1.0v1.0h-1.0zM148.49 524.59h1.0v1.0h-1.0zM148.89 559.34h1.0v1.0h-1.0zM146.72 531.92h1.0v1.0h-1.0zM145.96 505.19h1.0v1.0h-1.0zM158.47 547.83h1.0v1.0h-1.0zM148.2 535.05h1.0v1.0h-1.0zM140.45 516.86h1.0v1.0h-1.0zM153.46 577.11h1.0v1.0h-1.0zM149.62 560h1.0v1.0h-1.0zM147.81 549.33h1.0v1.0h-1.0zM152.36 544.82h1.0v1.0h-1.0zM150.57 533.47h1.0v1.0h-1.0zM141.73 501.84h1.0v1.0h-1.0zM150.52 574.39h1.0v1.0h-1.0zM143.02 497.3h1.0v1.0h-1.0zM151.93 564.06h1.0v1.0h-1.0zM142.76 512.59h1.0v1.0h-1.0zM145.52 528.63h1.0v1.0h-1.0zM157.77 570.39h1.0v1.0h-1.0zM148.85 525.7h1.0v1.0h-1.0zM153.62 542.17h1.0v1.0h-1.0zM148.56 527.11h1.0v1.0h-1.0zM140.14 488.69h1.0v1.0h-1.0zM149.06 512.79h1.0v1.0h-1.0zM145.74 576.27h1.0v1.0h-1.0zM146.55 561.04h1.0v1.0h-1.0zM145.31 548.63h1.0v1.0h-1.0zM151.59 553.99h1.0v1.0h-1.0zM146.37 563.41h1.0v1.0h-1.0zM152.84 548.01h1.0v1.0h-1.0zM148.43 550.62h1.0v1.0h-1.0zM146.01 538.56h1.0v1.0h-1.0zM146.43 517.45h1.0v1.0h-1.0zM147.76 555.82h1.0v1.0h-1.0zM145.01 513.15h1.0v1.0h-1.0zM139.6 505.01h1.0v1.0h-1.0zM157.97 538.55h1.0v1.0h-1.0zM149.81 560.65h1.0v1.0h-1.0zM143.62 535.4h1.0v1.0h-1.0zM146.04 497.8h1.0v1.0h-1.0zM155.76 574.26h1.0v1.0h-1.0zM149.77 580.09h1.0v1.0h-1.0zM147.24 536.46h1.0v1.0h-1.0zM148.95 497.35h1.0v1.0h-1.0zM148.38 550.05h1.0v1.0h-1.0zM143.36 547.72h1.0v1.0h-1.0zM158.46 565.53h1.0v1.0h-1.0zM144.05 543.41h1.0v1.0h-1.0zM143.47 532.07h1.0v1.0h-1.0zM157.53 548.42h1.0v1.0h-1.0zM140.1 474.46h1.0v1.0h-1.0zM144.37 548.19h1.0v1.0h-1.0zM145.18 514.75h1.0v1.0h-1.0zM149.46 526.37h1.0v1.0h-1.0zM143.24 509.98h1.0v1.0h-1.0zM153.88 583.61h1.0v1.0h-1.0zM146.96 545.23h1.0v1.0h-1.0zM148.85 560.41h1.0v1.0h-1.0zM139.31 491.93h1.0v1.0h-1.0zM144.53 527.86h1.0v1.0h-1.0zM154.15 587.72h1.0v1.0h-1.0zM148.2 566.5h1.0v1.0h-1.0zM147.86 543.52h1.0v1.0h-1.0zM153.39 550.83h1.0v1.0h-1.0zM142.15 525.4h1.0v1.0h-1.0zM147.88 528.74h1.0v1.0h-1.0zM154.7 570.77h1.0v1.0h-1.0zM147.21 502.8h1.0v1.0h-1.0zM150.32 520.72h1.0v1.0h-1.0zM148.72 532.95h1.0v1.0h-1.0zM145.95 524.5h1.0v1.0h-1.0zM148.28 546.21h1.0v1.0h-1.0zM147.42 577.35h1.0v1.0h-1.0zM139.61 525.63h1.0v1.0h-1.0zM150.34 541.19h1.0v1.0h-1.0zM142.73 522.12h1.0v1.0h-1.0zM157.51 560.47h1.0v1.0h-1.0zM148.15 533.88h1.0v1.0h-1.0zM151.39 543.87h1.0v1.0h-1.0zM152.74 533.22h1.0v1.0h-1.0zM150.69 525.69h1.0v1.0h-1.0zM155.77 555.12h1.0v1.0h-1.0zM153.62 545.28h1.0v1.0h-1.0zM149.57 558.17h1.0v1.0h-1.0zM145.33 498.83h1.0v1.0h-1.0zM149.6 538.3h1.0v1.0h-1.0zM150.06 544.98h1.0v1.0h-1.0zM146.48 540.05h1.0v1.0h-1.0zM143.66 535.86h1.0v1.0h-1.0zM144.23 542.73h1.0v1.0h-1.0zM145.13 532.79h1.0v1.0h-1.0zM152.4 554.44h1.0v1.0h-1.0zM141.35 522.08h1.0v1.0h-1.0zM152.1 547.1h1.0v1.0h-1.0zM148.87 542.53h1.0v1.0h-1.0zM143.8 507.68h1.0v1.0h-1.0zM145.68 519.27h1.0v1.0h-1.0zM141.73 510.43h1.0v1.0h-1.0zM147.51 567.62h1.0v1.0h-1.0zM148.62 533.07h1.0v1.0h-1.0zM141.44 505.03h1.0v1.0h-1.0zM147.85 552.28h1.0v1.0h-1.0zM145.02 525.4h1.0v1.0h-1.0zM151.06 515.04h1.0v1.0h-1.0zM145.54 510.76h1.0v1.0h-1.0zM151.85 576.85h1.0v1.0h-1.0zM145.09 521.7h1.0v1.0h-1.0zM138.3 512.11h1.0v1.0h-1.0zM152.89 586.23h1.0v1.0h-1.0zM150.69 568.5h1.0v1.0h-1.0zM149.59 470.02h1.0v1.0h-1.0zM148.03 569.43h1.0v1.0h-1.0zM144.5 528.08h1.0v1.0h-1.0zM147.65 529.2h1.0v1.0h-1.0zM150.44 548.58h1.0v1.0h-1.0zM144.24 525.67h1.0v1.0h-1.0zM146.2 527.33h1.0v1.0h-1.0zM143.44 566.34h1.0v1.0h-1.0zM144.73 470.17h1.0v1.0h-1.0zM149.44 543.87h1.0v1.0h-1.0zM146.41 548.83h1.0v1.0h-1.0zM147.97 528.75h1.0v1.0h-1.0zM143.9 537.65h1.0v1.0h-1.0zM150.16 552.38h1.0v1.0h-1.0zM146.15 551.01h1.0v1.0h-1.0zM145.76 522.77h1.0v1.0h-1.0zM148 523.94h1.0v1.0h-1.0zM144.43 557.25h1.0v1.0h-1.0zM150.37 531.53h1.0v1.0h-1.0zM148.38 518.75h1.0v1.0h-1.0zM140.51 546.53h1.0v1.0h-1.0zM146.73 529.56h1.0v1.0h-1.0zM146.21 529.55h1.0v1.0h-1.0zM148.1 543.5h1.0v1.0h-1.0zM149.09 547.83h1.0v1.0h-1.0zM150.26 535.75h1.0v1.0h-1.0zM140.21 507.08h1.0v1.0h-1.0zM143.47 527.78h1.0v1.0h-1.0zM149.26 523.72h1.0v1.0h-1.0zM149.9 537.17h1.0v1.0h-1.0zM142.63 539.18h1.0v1.0h-1.0zM151.73 558.36h1.0v1.0h-1.0zM143.89 534.99h1.0v1.0h-1.0zM147.45 559.16h1.0v1.0h-1.0zM148.58 540.83h1.0v1.0h-1.0zM147.01 514.49h1.0v1.0h-1.0zM145.89 524.65h1.0v1.0h-1.0zM154.05 541.55h1.0v1.0h-1.0zM146.47 545.12h1.0v1.0h-1.0zM148.64 561.5h1.0v1.0h-1.0zM150.87 549.97h1.0v1.0h-1.0zM147.94 529.86h1.0v1.0h-1.0zM146.3 532.96h1.0v1.0h-1.0zM139.48 499.74h1.0v1.0h-1.0zM149.86 511.67h1.0v1.0h-1.0zM147.03 518.69h1.0v1.0h-1.0zM148.45 534.11h1.0v1.0h-1.0zM148.54 558.9h1.0v1.0h-1.0zM153.85 558.85h1.0v1.0h-1.0zM144.55 520.52h1.0v1.0h-1.0zM151.39 523.78h1.0v1.0h-1.0zM152.06 534.29h1.0v1.0h-1.0zM148.02 551.93h1.0v1.0h-1.0zM153.28 551.99h1.0v1.0h-1.0zM144.81 516.39h1.0v1.0h-1.0zM144.48 500.36h1.0v1.0h-1.0zM146.81 553.24h1.0v1.0h-1.0zM142.57 521.57h1.0v1.0h-1.0zM150.8 555.91h1.0v1.0h-1.0zM147.09 537.97h1.0v1.0h-1.0zM147.27 548.58h1.0v1.0h-1.0zM143.39 506.86h1.0v1.0h-1.0zM144.56 565.73h1.0v1.0h-1.0zM147.56 537.15h1.0v1.0h-1.0zM150.88 581.77h1.0v1.0h-1.0zM147.23 524.52h1.0v1.0h-1.0zM148.41 531.54h1.0v1.0h-1.0zM145.89 494.26h1.0v1.0h-1.0zM154.76 554.41h1.0v1.0h-1.0zM149.49 523.38h1.0v1.0h-1.0zM152.77 528.8h1.0v1.0h-1.0zM147.84 532.31h1.0v1.0h-1.0zM145.37 519.53h1.0v1.0h-1.0zM153.53 560.04h1.0v1.0h-1.0zM148.62 506.91h1.0v1.0h-1.0zM154.88 560.66h1.0v1.0h-1.0zM146.37 512.09h1.0v1.0h-1.0zM151.42 518.71h1.0v1.0h-1.0zM152.34 552.7h1.0v1.0h-1.0zM149.55 538.57h1.0v1.0h-1.0zM147.88 563.69h1.0v1.0h-1.0zM142.53 530.63h1.0v1.0h-1.0zM146.61 565.71h1.0v1.0h-1.0zM145.38 534.11h1.0v1.0h-1.0zM150.27 514.69h1.0v1.0h-1.0zM143.53 559.01h1.0v1.0h-1.0zM154.91 571.49h1.0v1.0h-1.0zM148.86 541.3h1.0v1.0h-1.0zM152.66 545.74h1.0v1.0h-1.0zM150.57 537.74h1.0v1.0h-1.0zM148.43 543.58h1.0v1.0h-1.0zM147.83 531.4h1.0v1.0h-1.0zM147.91 544.82h1.0v1.0h-1.0zM152.8 511.05h1.0v1.0h-1.0zM148.27 539.75h1.0v1.0h-1.0zM160.97 554.12h1.0v1.0h-1.0zM140.88 496.84h1.0v1.0h-1.0zM147.91 556.47h1.0v1.0h-1.0zM139.55 505.49h1.0v1.0h-1.0zM144.29 509.07h1.0v1.0h-1.0zM151.55 552.44h1.0v1.0h-1.0zM148.66 543.82h1.0v1.0h-1.0zM147.34 545.89h1.0v1.0h-1.0zM138.73 545.24h1.0v1.0h-1.0zM145.55 528.81h1.0v1.0h-1.0zM146.32 529.97h1.0v1.0h-1.0zM146.94 552.65h1.0v1.0h-1.0zM145.8 511.33h1.0v1.0h-1.0zM146.54 552.47h1.0v1.0h-1.0zM140.06 545.79h1.0v1.0h-1.0zM151.81 562.63h1.0v1.0h-1.0zM143.44 517.14h1.0v1.0h-1.0zM149.01 507.92h1.0v1.0h-1.0zM150.04 551.24h1.0v1.0h-1.0zM154.12 551.51h1.0v1.0h-1.0zM149.35 541.57h1.0v1.0h-1.0z"/><path fill="#55ee55" d="M150.03 542.39h1.0v1.0h-1.0zM154.12 534.09h1.0v1.0h-1.0zM151.57 544.6h1.0v1.0h-1.0zM153.05 544.63h1.0v1.0h-1.0zM148.53 504.08h1.0v1.0h-1.0zM140.38 510.92h1.0v1.0h-1.0zM149.99 529.3h1.0v1.0h-1.0zM145.13 529.7h1.0v1.0h-1.0zM150.23 568.41h1.0v1.0h-1.0zM151.48 554.24h1.0v1.0h-1.0zM147.78 554.86h1.0v1.0h-1.0zM152.98 575.49h1.0v1.0h-1.0zM143.59 554.72h1.0v1.0h-1.0zM143.5 530.39h1.0v1.0h-1.0zM154.58 526.96h1.0v1.0h-1.0zM147.63 547.58h1.0v1.0h-1.0zM145.3 541.01h1.0v1.0h-1.0zM146.09 546.08h1.0v1.0h-1.0zM151.63 522.79h1.0v1.0h-1.0zM145.13 519.37h1.0v1.0h-1.0zM148.69 544.07h1.0v1.0h-1.0zM151.4 522.38h1.0v1.0h-1.0zM151.68 554.3h1.0v1.0h-1.0zM150.91 550.4h1.0v1.0h-1.0zM146.61 535.68h1.0v1.0h-1.0zM142.41 483.8h1.0v1.0h-1.0zM147.43 554.11h1.0v1.0h-1.0zM150.11 528.55h1.0v1.0h-1.0zM149.05 523.6h1.0v1.0h-1.0zM150.36 546.97h1.0v1.0h-1.0zM146.51 523.54h1.0v1.0h-1.0zM144.26 548.5h1.0v1.0h-1.0zM148.3 549.86h1.0v1.0h-1.0zM139.81 514.87h1.0v1.0h-1.0zM146.18 537.58h1.0v1.0h-1.0zM139.92 541.3h1.0v1.0h-1.0zM148.59 567.18h1.0v1.0h-1.0zM144.37 520.56h1.0v1.0h-1.0zM147.04 538.6h1.0v1.0h-1.0zM149.94 551.9h1.0v1.0h-1.0zM147.18 537.35h1.0v1.0h-1.0zM149.74 533.46h1.0v1.0h-1.0zM143.98 533.86h1.0v1.0h-1.0zM143.11 542.26h1.0v1.0h-1.0zM150.25 545.94h1.0v1.0h-1.0zM152.29 531.34h1.0v1.0h-1.0zM141.58 517.47h1.0v1.0h-1.0zM145.29 545.13h1.0v1.0h-1.0zM144.48 503.62h1.0v1.0h-1.0zM148.35 537.68h1.0v1.0h-1.0zM146.32 562.05h1.0v1.0h-1.0zM147.83 577.62h1.0v1.0h-1.0zM157.33 556.9h1.0v1.0h-1.0zM149.88 551.3h1.0v1.0h-1.0zM152.21 560.26h1.0v1.0h-1.0zM152.71 563.44h1.0v1.0h-1.0zM138.29 488.14h1.0v1.0h-1.0zM148.54 550.48h1.0v1.0h-1.0zM146.09 558.52h1.0v1.0h-1.0zM152.02 550.27h1.0v1.0h-1.0zM153.68 570.63h1.0v1.0h-1.0zM150.89 554.44h1.0v1.0h-1.0zM142.24 543.83h1.0v1.0h-1.0zM147.32 563.55h1.0v1.0h-1.0zM149.15 561.45h1.0v1.0h-1.0zM147.53 522.85h1.0v1.0h-1.0zM148.61 548.13h1.0v1.0h-1.0zM148.3 555.16h1.0v1.0h-1.0zM149.79 545.26h1.0v1.0h-1.0zM152.02 541.72h1.0v1.0h-1.0zM149.66 526.14h1.0v1.0h-1.0zM148.59 546.53h1.0v1.0h-1.0zM141.36 521.88h1.0v1.0h-1.0zM145.84 528.68h1.0v1.0h-1.0zM148.8 521.2h1.0v1.0h-1.0zM146.4 530.16h1.0v1.0h-1.0zM148.42 511.23h1.0v1.0h-1.0zM150.86 539.83h1.0v1.0h-1.0zM142.95 545.14h1.0v1.0h-1.0zM145.87 536.49h1.0v1.0h-1.0zM148.44 513.85h1.0v1.0h-1.0zM144.22 541.38h1.0v1.0h-1.0zM146.37 502.63h1.0v1.0h-1.0zM150.01 538.71h1.0v1.0h-1.0zM143.85 516.9h1.0v1.0h-1.0zM144.33 530.3h1.0v1.0h-1.0zM146.68 533.34h1.0v1.0h-1.0zM150.76 567.37h1.0v1.0h-1.0zM149.59 572.32h1.0v1.0h-1.0zM152.68 563.97h1.0v1.0h-1.0zM144.43 522.55h1.0v1.0h-1.0zM146.43 556.39h1.0v1.0h-1.0zM144.47 540.17h1.0v1.0h-1.0zM146.16 482.79h1.0v1.0h-1.0zM147.18 538.87h1.0v1.0h-1.0zM149.06 565.19h1.0v1.0h-1.0zM141.96 521.41h1.0v1.0h-1.0zM141.65 530.53h1.0v1.0h-1.0zM151.3 549.43h1.0v1.0h-1.0zM144.73 566.71h1.0v1.0h-1.0zM149.19 533.85h1.0v1.0h-1.0zM143.59 496.25h1.0v1.0h-1.0zM156.56 536.53h1.0v1.0h-1.0zM151.86 558.34h1.0v1.0h-1.0zM148.3 530.82h1.0v1.0h-1.0zM147.77 552.87h1.0v1.0h-1.0zM148.08 527.38h1.0v1.0h-1.0zM153.06 556.69h1.0v1.0h-1.0zM146.82 528.95h1.0v1.0h-1.0zM148.13 539.62h1.0v1.0h-1.0zM153.47 576.7h1.0v1.0h-1.0zM146.6 559.72h1.0v1.0h-1.0zM148.59 556.7h1.0v1.0h-1.0zM142.57 527.15h1.0v1.0h-1.0zM150.68 547.91h1.0v1.0h-1.0zM145.2 527.05h1.0v1.0h-1.0zM147.52 522.77h1.0v1.0h-1.0zM146.38 565.5h1.0v1.0h-1.0zM150.32 582.23h1.0v1.0h-1.0zM144.34 530.16h1.0v1.0h-1.0zM148.92 520.69h1.0v1.0h-1.0zM135.55 480.57h1.0v1.0h-1.0zM148.6 519.62h1.0v1.0h-1.0zM143.24 499.58h1.0v1.0h-1.0zM140.25 524.84h1.0v1.0h-1.0zM144.78 536.13h1.0v1.0h-1.0zM143.27 488.31h1.0v1.0h-1.0zM149.77 559.4h1.0v1.0h-1.0zM145.12 549.15h1.0v1.0h-1.0zM144.73 568.37h1.0v1.0h-1.0zM145.87 565.48h1.0v1.0h-1.0zM150.52 584.5h1.0v1.0h-1.0zM143.74 523.66h1.0v1.0h-1.0zM149.08 525.57h1.0v1.0h-1.0zM145.86 533.78h1.0v1.0h-1.0zM150.25 576.47h1.0v1.0h-1.0zM152.6 581.8h1.0v1.0h-1.0zM145.76 542h1.0v1.0h-1.0zM145.91 507.84h1.0v1.0h-1.0zM147.91 552.85h1.0v1.0h-1.0zM147.24 532.64h1.0v1.0h-1.0zM140.94 479.61h1.0v1.0h-1.0zM149.86 538.96h1.0v1.0h-1.0zM147.98 534.1h1.0v1.0h-1.0zM148.07 525.45h1.0v1.0h-1.0zM150.27 578.49h1.0v1.0h-1.0zM146.15 548.85h1.0v1.0h-1.0zM152.05 573.19h1.0v1.0h-1.0zM154.27 589.07h1.0v1.0h-1.0zM142.29 568.89h1.0v1.0h-1.0zM145.68 471.75h1.0v1.0h-1.0zM146.85 538.51h1.0v1.0h-1.0zM148.12 539.24h1.0v1.0h-1.0zM152 558.75h1.0v1.0h-1.0zM137.66 520.84h1.0v1.0h-1.0zM149.08 538.4h1.0v1.0h-1.0zM150.23 534.06h1.0v1.0h-1.0zM150.59 560.14h1.0v1.0h-1.0zM149.83 539.85h1.0v1.0h-1.0zM151.07 543.22h1.0v1.0h-1.0zM147.33 526.86h1.0v1.0h-1.0zM148.99 509.9h1.0v1.0h-1.0zM149.58 558.76h1.0v1.0h-1.0zM145.59 527.14h1.0v1.0h-1.0zM149.03 538h1.0v1.0h-1.0zM148.5 534.05h1.0v1.0h-1.0zM143.41 492.49h1.0v1.0h-1.0zM147.58 521.65h1.0v1.0h-1.0zM149.11 547.74h1.0v1.0h-1.0zM146.04 532.93h1.0v1.0h-1.0zM154.25 565.93h1.0v1.0h-1.0zM145.06 531.68h1.0v1.0h-1.0zM142.7 502.58h1.0v1.0h-1.0zM150.91 556.08h1.0v1.0h-1.0zM148.53 526.58h1.0v1.0h-1.0zM144.64 530.34h1.0v1.0h-1.0zM152.31 561.41h1.0v1.0h-1.0zM147 537.75h1.0v1.0h-1.0zM149.15 558.95h1.0v1.0h-1.0zM142.1 512.03h1.0v1.0h-1.0zM145.87 552.97h1.0v1.0h-1.0zM150.07 553.02h1.0v1.0h-1.0zM148.23 515.24h1.0v1.0h-1.0zM146.94 533.37h1.0v1.0h-1.0zM152.12 543.49h1.0v1.0h-1.0zM144.87 527.69h1.0v1.0h-1.0zM144.87 528.95h1.0v1.0h-1.0zM147.57 539.18h1.0v1.0h-1.0zM144.48 499.9h1.0v1.0h-1.0zM145.36 518.9h1.0v1.0h-1.0zM148.01 544.89h1.0v1.0h-1.0zM145.98 522.41h1.0v1.0h-1.0zM148.44 587.7h1.0v1.0h-1.0zM146.09 542.79h1.0v1.0h-1.0zM151.62 562.06h1.0v1.0h-1.0zM143.14 520.54h1.0v1.0h-1.0zM143.82 502.22h1.0v1.0h-1.0zM147.7 496.36h1.0v1.0h-1.0zM145.46 563.05h1.0v1.0h-1.0zM141.55 500.28h1.0v1.0h-1.0zM148.66 541.66h1.0v1.0h-1.0zM147.74 544.43h1.0v1.0h-1.0zM155.42 536.09h1.0v1.0h-1.0zM142.26 513.64h1.0v1.0h-1.0zM149.64 553.34h1.0v1.0h-1.0zM149.35 563.22h1.0v1.0h-1.0zM147.22 562.94h1.0v1.0h-1.0zM150.47 537.42h1.0v1.0h-1.0zM154.67 538.4h1.0v1.0h-1.0zM153.56 514.21h1.0v1.0h-1.0zM149.59 534.55h1.0v1.0h-1.0zM152.97 571.92h1.0v1.0h-1.0zM153.86 563.22h1.0v1.0h-1.0zM153.97 542.01h1.0v1.0h-1.0zM142.17 490.82h1.0v1.0h-1.0zM146.47 548.95h1.0v1.0h-1.0zM152.23 530.22h1.0v1.0h-1.0zM148.03 503.31h1.0v1.0h-1.0zM147.67 541.93h1.0v1.0h-1.0zM142.41 511.2h1.0v1.0h-1.0zM141.46 516.18h1.0v1.0h-1.0zM150.63 555.55h1.0v1.0h-1.0zM154.75 555.08h1.0v1.0h-1.0zM149.63 562.39h1.0v1.0h-1.0zM146.09 518.59h1.0v1.0h-1.0zM150.81 569.27h1.0v1.0h-1.0zM141.38 517.06h1.0v1.0h-1.0zM141.56 547.85h1.0v1.0h-1.0zM141.88 511.59h1.0v1.0h-1.0zM145.89 544.88h1.0v1.0h-1.0zM151.41 563.52h1.0v1.0h-1.0zM146.8 527h1.0v1.0h-1.0zM146.97 560.5h1.0v1.0h-1.0zM145.78 533.1h1.0v1.0h-1.0zM140.83 476.22h1.0v1.0h-1.0zM136.19 522.17h1.0v1.0h-1.0zM141.49 514.02h1.0v1.0h-1.0zM147.2 514.75h1.0v1.0h-1.0zM145.61 550.82h1.0v1.0h-1.0zM147.23 519.07h1.0v1.0h-1.0zM147.96 536.35h1.0v1.0h-1.0zM146.71 524.86h1.0v1.0h-1.0z"/><line x1="166.4" y1="577" x2="167.98" y2="553.28" stroke="#c0c0c0" stroke-width="2.6" stroke-linecap="butt"/><polygon points="168.5,545.5 171.89,554.75 167.98,553.28 163.91,554.21" fill="#c0c0c0"/><line x1="171.4" y1="603.5" x2="177.45" y2="593.56" stroke="#c0c0c0" stroke-width="2.6" stroke-linecap="butt"/><polygon points="181.5,586.9 180.24,596.67 177.45,593.56 173.4,592.51" fill="#c0c0c0"/><rect x="166.8" y="533.5" width="7.4" height="7.4" fill="#bfbfbf" stroke="#555" stroke-width="0.9"/><rect x="185.8" y="576.5" width="7.4" height="7.4" fill="#bfbfbf" stroke="#555" stroke-width="0.9"/><rect x="163.4" y="579.7" width="7.4" height="7.4" fill="#bfbfbf" stroke="#555" stroke-width="0.9"/><rect x="165.1" y="605.1" width="7.4" height="7.4" fill="#bfbfbf" stroke="#555" stroke-width="0.9"/><circle cx="169.4" cy="503.3" r="5" fill="#bfbfbf" stroke="#000" stroke-width="0.9"/><circle cx="144" cy="517.4" r="5" fill="#bfbfbf" stroke="#000" stroke-width="0.9"/><circle cx="143.2" cy="516.3" r="5" fill="#bfbfbf" stroke="#000" stroke-width="0.9"/><circle cx="135.7" cy="482.8" r="5" fill="#fff" stroke="#000" stroke-width="0.9"/><circle cx="126.1" cy="499.2" r="5" fill="#fff" stroke="#000" stroke-width="0.9"/><circle cx="193.1" cy="506.9" r="5" fill="#fff" stroke="#000" stroke-width="0.9"/><circle cx="147.2" cy="531.3" r="5" fill="#fff" stroke="#000" stroke-width="0.9"/><circle cx="166.2" cy="529.6" r="5" fill="#fff" stroke="#000" stroke-width="0.9"/><circle cx="162.6" cy="530.6" r="5" fill="#fff" stroke="#000" stroke-width="0.9"/><circle cx="180.1" cy="539" r="5" fill="#fff" stroke="#000" stroke-width="0.9"/><circle cx="168.2" cy="562" r="5" fill="#fff" stroke="#000" stroke-width="0.9"/><circle cx="162.6" cy="568.3" r="5" fill="#fff" stroke="#000" stroke-width="0.9"/><circle cx="138.4" cy="593.4" r="5" fill="#fff" stroke="#000" stroke-width="0.9"/><circle cx="159.2" cy="613.9" r="5" fill="#fff" stroke="#000" stroke-width="0.9"/><circle cx="177.4" cy="479.5" r="5" fill="#ff00ff" stroke="#000" stroke-width="0.9"/><circle cx="147.2" cy="505.8" r="5" fill="#ff00ff" stroke="#000" stroke-width="0.9"/><circle cx="141.7" cy="513.5" r="5" fill="#ff00ff" stroke="#000" stroke-width="0.9"/><circle cx="160.7" cy="522.1" r="5" fill="#ff00ff" stroke="#000" stroke-width="0.9"/><circle cx="127.5" cy="538.6" r="5" fill="#ff00ff" stroke="#000" stroke-width="0.9"/><circle cx="136.5" cy="558.1" r="5" fill="#ff00ff" stroke="#000" stroke-width="0.9"/><circle cx="210.4" cy="464.2" r="5" fill="#ff00ff" stroke="#000" stroke-width="0.9"/><circle cx="250.5" cy="595.9" r="5" fill="#ff00ff" stroke="#000" stroke-width="0.9"/><circle cx="435.2" cy="505.9" r="5" fill="#ff00ff" stroke="#000" stroke-width="0.9"/><circle cx="190.8" cy="584.8" r="5" fill="#ff00ff" stroke="#000" stroke-width="0.9"/><path d="M111.5 532H236.7M174 492.6V570.5" stroke="#606060" stroke-width="1.3" fill="none"/><path d="M171 529l6 6M171 535l6 -6" stroke="#000" stroke-width="0.8"/><path d="M148 531.3V554.7M144.5 542.6h7M145 539.8000000000001l6 5.6M145 545.4l6 -5.6" stroke="#000" stroke-width="0.8" fill="none"/><text x="0" y="0" font-size="11.88" text-anchor="start" fill="#000" transform="translate(177.7 555.59) scale(0.9259 1)">CM_Irr</text><text x="0" y="0" font-size="11.88" text-anchor="start" fill="#000" transform="translate(177.7 576.59) scale(0.9259 1)">CI_Irr</text><text x="0" y="0" font-size="11.88" text-anchor="start" fill="#000" transform="translate(159.3 597.89) scale(0.9259 1)">CM</text><text x="0" y="0" font-size="11.88" text-anchor="start" fill="#000" transform="translate(170.5 622.99) scale(0.9259 1)">CI</text><text x="0" y="4.13" font-size="12" text-anchor="middle" fill="#8c8c8c" font-weight="bold" font-style="italic" transform="translate(187.5 604.5) rotate(8)">Ion</text><line x1="356.2" y1="535.5" x2="295.56" y2="584.89" stroke="#c0c0c0" stroke-width="2.6" stroke-linecap="butt"/><polygon points="289.9,589.5 293.65,580.64 295.56,584.89 299.33,587.62" fill="#c0c0c0"/><line x1="378.9" y1="547.2" x2="269.19" y2="721.32" stroke="#c0c0c0" stroke-width="2.6" stroke-linecap="butt"/><polygon points="265.3,727.5 266.02,717.91 269.19,721.32 273.64,722.71" fill="#c0c0c0"/><line x1="300.5" y1="557" x2="197.67" y2="671.76" stroke="#c0c0c0" stroke-width="2.6" stroke-linecap="butt"/><polygon points="192.8,677.2 195.12,667.87 197.67,671.76 201.82,673.87" fill="#c0c0c0"/><line x1="314.3" y1="719.3" x2="233.82" y2="701.02" stroke="#c0c0c0" stroke-width="2.6" stroke-linecap="butt"/><polygon points="226.7,699.4 235.99,696.89 233.82,701.02 233.99,705.67" fill="#c0c0c0"/><rect x="121.3" y="692.3" width="7" height="7" fill="#fff" stroke="#333" stroke-width="0.8"/><text x="0" y="0" font-size="11.88" text-anchor="start" fill="#000" transform="translate(129.5 700.29) scale(0.9259 1)">Bennu</text><rect x="361.6" y="524.6" width="7" height="7" fill="#ffff00" stroke="#333" stroke-width="0.9"/><rect x="378.9" y="534.4" width="7" height="7" fill="#ffff00" stroke="#333" stroke-width="0.9"/><rect x="311" y="541.3" width="7" height="7" fill="#ffff00" stroke="#333" stroke-width="0.9"/><rect x="229.6" y="579.1" width="7" height="7" fill="#ffff00" stroke="#333" stroke-width="0.9"/><rect x="273.1" y="596.2" width="7" height="7" fill="#ffff00" stroke="#333" stroke-width="0.9"/><rect x="252.3" y="602.4" width="7" height="7" fill="#ffff00" stroke="#333" stroke-width="0.9"/><rect x="346.4" y="626.7" width="7" height="7" fill="#ffff00" stroke="#333" stroke-width="0.9"/><rect x="297.3" y="653.4" width="7" height="7" fill="#ffff00" stroke="#333" stroke-width="0.9"/><rect x="258.3" y="737.5" width="7" height="7" fill="#ffff00" stroke="#333" stroke-width="0.9"/><rect x="232.5" y="627.5" width="7" height="7" fill="#000" stroke="#000" stroke-width="0.5"/><rect x="219.7" y="662" width="7" height="7" fill="#000" stroke="#000" stroke-width="0.5"/><rect x="228.4" y="684.7" width="7" height="7" fill="#000" stroke="#000" stroke-width="0.5"/><rect x="218.5" y="695.2" width="7" height="7" fill="#000" stroke="#000" stroke-width="0.5"/><rect x="277.4" y="681.5" width="7" height="7" fill="#000" stroke="#000" stroke-width="0.5"/><rect x="269.9" y="698.7" width="7" height="7" fill="#000" stroke="#000" stroke-width="0.5"/><rect x="318.5" y="697.1" width="7" height="7" fill="#000" stroke="#000" stroke-width="0.5"/><rect x="333.1" y="659.7" width="7" height="7" fill="#000" stroke="#000" stroke-width="0.5"/><rect x="316" y="726.3" width="7" height="7" fill="#000" stroke="#000" stroke-width="0.5"/><polygon points="310.4,535.7 312.17,540.26 317.06,540.54 313.26,543.63 314.51,548.36 310.4,545.71 306.29,548.36 307.54,543.63 303.74,540.54 308.63,540.26" fill="#ff7f00" stroke="#000" stroke-width="0.9" stroke-linejoin="miter"/><polygon points="294,544.7 295.77,549.26 300.66,549.54 296.86,552.63 298.11,557.36 294,554.71 289.89,557.36 291.14,552.63 287.34,549.54 292.23,549.26" fill="#ff7f00" stroke="#000" stroke-width="0.9" stroke-linejoin="miter"/><polygon points="302.2,543.7 303.97,548.26 308.86,548.54 305.06,551.63 306.31,556.36 302.2,553.71 298.09,556.36 299.34,551.63 295.54,548.54 300.43,548.26" fill="#ff7f00" stroke="#000" stroke-width="0.9" stroke-linejoin="miter"/><polygon points="306.3,554.1 308.07,558.66 312.96,558.94 309.16,562.03 310.41,566.76 306.3,564.11 302.19,566.76 303.44,562.03 299.64,558.94 304.53,558.66" fill="#ff7f00" stroke="#000" stroke-width="0.9" stroke-linejoin="miter"/><polygon points="240.9,570.9 242.67,575.46 247.56,575.74 243.76,578.83 245.01,583.56 240.9,580.91 236.79,583.56 238.04,578.83 234.24,575.74 239.13,575.46" fill="#ff7f00" stroke="#000" stroke-width="0.9" stroke-linejoin="miter"/><polygon points="255.6,562.7 257.37,567.26 262.26,567.54 258.46,570.63 259.71,575.36 255.6,572.71 251.49,575.36 252.74,570.63 248.94,567.54 253.83,567.26" fill="#fff" stroke="#000" stroke-width="0.9" stroke-linejoin="miter"/><polygon points="265.8,562.7 267.57,567.26 272.46,567.54 268.66,570.63 269.91,575.36 265.8,572.71 261.69,575.36 262.94,570.63 259.14,567.54 264.03,567.26" fill="#fff" stroke="#000" stroke-width="0.9" stroke-linejoin="miter"/><polygon points="270.1,572.3 271.87,576.86 276.76,577.14 272.96,580.23 274.21,584.96 270.1,582.31 265.99,584.96 267.24,580.23 263.44,577.14 268.33,576.86" fill="#fff" stroke="#000" stroke-width="0.9" stroke-linejoin="miter"/><polygon points="331.3,573.6 333.07,578.16 337.96,578.44 334.16,581.53 335.41,586.26 331.3,583.61 327.19,586.26 328.44,581.53 324.64,578.44 329.53,578.16" fill="#fff" stroke="#000" stroke-width="0.9" stroke-linejoin="miter"/><polygon points="230.2,598.5 231.97,603.06 236.86,603.34 233.06,606.43 234.31,611.16 230.2,608.51 226.09,611.16 227.34,606.43 223.54,603.34 228.43,603.06" fill="#00ffff" stroke="#000" stroke-width="0.9" stroke-linejoin="miter"/><polygon points="224.5,608.1 226.27,612.66 231.16,612.94 227.36,616.03 228.61,620.76 224.5,618.11 220.39,620.76 221.64,616.03 217.84,612.94 222.73,612.66" fill="#00ffff" stroke="#000" stroke-width="0.9" stroke-linejoin="miter"/><polygon points="233.1,607.1 234.87,611.66 239.76,611.94 235.96,615.03 237.21,619.76 233.1,617.11 228.99,619.76 230.24,615.03 226.44,611.94 231.33,611.66" fill="#00ffff" stroke="#000" stroke-width="0.9" stroke-linejoin="miter"/><polygon points="224.4,679.6 226.17,684.16 231.06,684.44 227.26,687.53 228.51,692.26 224.4,689.61 220.29,692.26 221.54,687.53 217.74,684.44 222.63,684.16" fill="#00ffff" stroke="#000" stroke-width="0.9" stroke-linejoin="miter"/><polygon points="185.5,680.3 187.27,684.86 192.16,685.14 188.36,688.23 189.61,692.96 185.5,690.31 181.39,692.96 182.64,688.23 178.84,685.14 183.73,684.86" fill="#0000ff" stroke="#000" stroke-width="0.9" stroke-linejoin="miter"/><text x="0" y="0" font-size="11.45" text-anchor="start" fill="#000" transform="translate(209.2 578.34) scale(0.9259 1)">29%</text><text x="0" y="0" font-size="11.12" text-anchor="start" fill="#000" transform="translate(267.9 536.13) scale(0.9259 1)">&lt;77 µm</text><text x="0" y="0" font-size="11.34" text-anchor="start" fill="#000" transform="translate(236.8 559.3) scale(0.9259 1)">&lt;155 µm</text><text x="0" y="0" font-size="11.45" text-anchor="start" fill="#000" transform="translate(321 548.14) scale(0.9259 1)">58%</text><text x="0" y="0" font-size="11.45" text-anchor="start" fill="#000" transform="translate(362.5 523.64) scale(0.9259 1)">55%</text><text x="0" y="0" font-size="11.45" text-anchor="start" fill="#000" transform="translate(389.4 542.94) scale(0.9259 1)">50%</text><text x="0" y="0" font-size="11.45" text-anchor="start" fill="#000" transform="translate(281.7 601.84) scale(0.9259 1)">65%</text><text x="0" y="0" font-size="11.45" text-anchor="start" fill="#000" transform="translate(263.8 614.14) scale(0.9259 1)">25%</text><text x="0" y="0" font-size="11.23" text-anchor="start" fill="#000" transform="translate(187.9 630.36) scale(0.9259 1)">&lt;512 µm</text><text x="0" y="0" font-size="11.45" text-anchor="start" fill="#000" transform="translate(357.4 634.14) scale(0.9259 1)">40%</text><text x="0" y="0" font-size="11.45" text-anchor="start" fill="#000" transform="translate(308.5 660.84) scale(0.9259 1)">23%</text><text x="0" y="0" font-size="11.45" text-anchor="start" fill="#000" transform="translate(269.5 744.94) scale(0.9259 1)">20%</text><text x="0" y="0" font-size="11.34" text-anchor="start" fill="#000" transform="translate(154.9 677.5) scale(0.9259 1)">&lt;2 mm</text><text x="0" y="0" font-size="9.4" text-anchor="start" fill="#000" transform="translate(242.4 637.93) scale(0.9259 1)">2mJ</text><text x="0" y="0" font-size="9.4" text-anchor="start" fill="#000" transform="translate(230.2 671.83) scale(0.9259 1)">15mJ</text><text x="0" y="0" font-size="9.4" text-anchor="start" fill="#000" transform="translate(238.4 690.23) scale(0.9259 1)">10mJ</text><text x="0" y="0" font-size="9.4" text-anchor="start" fill="#000" transform="translate(236.1 703.83) scale(0.9259 1)">5mJ</text><text x="0" y="0" font-size="9.4" text-anchor="start" fill="#000" transform="translate(229.1 718.33) scale(0.9259 1)">5mJ</text><text x="0" y="0" font-size="9.4" text-anchor="start" fill="#000" transform="translate(287.5 691.43) scale(0.9259 1)">0.7mJ</text><text x="0" y="0" font-size="9.4" text-anchor="start" fill="#000" transform="translate(280 708.73) scale(0.9259 1)">1mJ</text><text x="0" y="0" font-size="9.4" text-anchor="start" fill="#000" transform="translate(328.3 706.13) scale(0.9259 1)">0mJ</text><text x="0" y="0" font-size="9.4" text-anchor="start" fill="#000" transform="translate(326 736.03) scale(0.9259 1)">0mJ</text><text x="0" y="0" font-size="9.4" text-anchor="start" fill="#000" transform="translate(342.9 669.53) scale(0.9259 1)">0mJ</text><rect x="314.5" y="556.6" width="36.5" height="13" fill="#fff"/><text x="315.3" y="568.53" font-size="12.6" text-anchor="start" fill="#808080" font-weight="bold" textLength="34.3" lengthAdjust="spacing">Fluffy</text><text x="363.7" y="593.1" font-size="12.5" text-anchor="start" fill="#808080" font-weight="bold">Flat</text><text x="0" y="4.13" font-size="12" text-anchor="middle" fill="#8c8c8c" font-weight="bold" transform="translate(203.2 653.4) rotate(-47)">Coarse</text><text x="0" y="4.13" font-size="12" text-anchor="middle" fill="#8c8c8c" font-weight="bold" font-style="italic" transform="translate(315.2 710.6) rotate(11)">Laser</text><rect x="58" y="437.3" width="421.6" height="338.7" fill="none" stroke="#000" stroke-width="1.4"/><path d="M58 776v6.5M58 437.3v-6.5M128.27 776v6.5M128.27 437.3v-6.5M198.53 776v6.5M198.53 437.3v-6.5M268.8 776v6.5M268.8 437.3v-6.5M339.07 776v6.5M339.07 437.3v-6.5M409.33 776v6.5M409.33 437.3v-6.5M479.6 776v6.5M479.6 437.3v-6.5M93.13 776v3M93.13 437.3v-3M163.4 776v3M163.4 437.3v-3M233.67 776v3M233.67 437.3v-3M303.93 776v3M303.93 437.3v-3M374.2 776v3M374.2 437.3v-3M444.47 776v3M444.47 437.3v-3M58 747.78h-6.5M479.6 747.78h6.5M58 691.33h-6.5M479.6 691.33h6.5M58 634.88h-6.5M479.6 634.88h6.5M58 578.43h-6.5M479.6 578.43h6.5M58 521.98h-6.5M479.6 521.98h6.5M58 465.53h-6.5M479.6 465.53h6.5M58 776h-3M479.6 776h3M58 719.55h-3M479.6 719.55h3M58 663.1h-3M479.6 663.1h3M58 606.65h-3M479.6 606.65h3M58 550.2h-3M479.6 550.2h3M58 493.75h-3M479.6 493.75h3M58 437.3h-3M479.6 437.3h3" stroke="#000" stroke-width="1.4" fill="none"/><text x="0" y="0" font-size="13.82" text-anchor="middle" fill="#000" transform="translate(58 799.96) scale(0.9259 1)">0.00</text><text x="0" y="0" font-size="13.82" text-anchor="middle" fill="#000" transform="translate(128.27 799.96) scale(0.9259 1)">0.02</text><text x="0" y="0" font-size="13.82" text-anchor="middle" fill="#000" transform="translate(198.53 799.96) scale(0.9259 1)">0.04</text><text x="0" y="0" font-size="13.82" text-anchor="middle" fill="#000" transform="translate(268.8 799.96) scale(0.9259 1)">0.06</text><text x="0" y="0" font-size="13.82" text-anchor="middle" fill="#000" transform="translate(339.07 799.96) scale(0.9259 1)">0.08</text><text x="0" y="0" font-size="13.82" text-anchor="middle" fill="#000" transform="translate(409.33 799.96) scale(0.9259 1)">0.10</text><text x="0" y="0" font-size="13.82" text-anchor="middle" fill="#000" transform="translate(479.6 799.96) scale(0.9259 1)">0.12</text><text x="0" y="0" font-size="13.82" text-anchor="end" fill="#000" transform="translate(47 752.53) scale(0.9259 1)">0.96</text><text x="0" y="0" font-size="13.82" text-anchor="end" fill="#000" transform="translate(47 696.08) scale(0.9259 1)">0.98</text><text x="0" y="0" font-size="13.82" text-anchor="end" fill="#000" transform="translate(47 639.63) scale(0.9259 1)">1.00</text><text x="0" y="0" font-size="13.82" text-anchor="end" fill="#000" transform="translate(47 583.18) scale(0.9259 1)">1.02</text><text x="0" y="0" font-size="13.82" text-anchor="end" fill="#000" transform="translate(47 526.73) scale(0.9259 1)">1.04</text><text x="0" y="0" font-size="13.82" text-anchor="end" fill="#000" transform="translate(47 470.28) scale(0.9259 1)">1.06</text><text x="268.5" y="821.1" font-size="16" text-anchor="middle" fill="#000">2.2-µm Reflectance</text><text x="0" y="5.5" font-size="16" text-anchor="middle" fill="#000" transform="translate(9.8 597.6) rotate(-90)">2.2- and 2.6-µm Reflectance Ratio</text><text x="0.45" y="432.3" font-size="16.85">(</text><text x="15.9" y="432.3" font-size="16.85">)</text><text x="0" y="0" font-size="18.3" font-weight="bold" transform="translate(6.5 433.9) scale(0.82 1)">b</text><rect x="491" y="584.9" width="19.3" height="27.66" fill="#ffffcc"/><rect x="491" y="612.26" width="19.3" height="27.66" fill="#c0ffc0"/><rect x="491" y="639.61" width="19.3" height="27.66" fill="#90ff90"/><rect x="491" y="666.97" width="19.3" height="27.66" fill="#55ff55"/><rect x="491" y="694.33" width="19.3" height="27.66" fill="#00cc00"/><rect x="491" y="721.69" width="19.3" height="27.66" fill="#007a00"/><rect x="491" y="749.04" width="19.3" height="27.66" fill="#000000"/><rect x="491" y="584.9" width="19.3" height="191.5" fill="none" stroke="#333" stroke-width="0.8"/><line x1="510.3" y1="612.26" x2="516.5" y2="612.26" stroke="#000" stroke-width="0.9" stroke-linecap="butt"/><text x="0" y="0" font-size="9.96" text-anchor="start" fill="#000" transform="translate(520.2 615.98) scale(0.8333 1)">28.0</text><line x1="510.3" y1="639.61" x2="516.5" y2="639.61" stroke="#000" stroke-width="0.9" stroke-linecap="butt"/><text x="0" y="0" font-size="9.96" text-anchor="start" fill="#000" transform="translate(520.2 643.34) scale(0.8333 1)">27.7</text><line x1="510.3" y1="666.97" x2="516.5" y2="666.97" stroke="#000" stroke-width="0.9" stroke-linecap="butt"/><text x="0" y="0" font-size="9.96" text-anchor="start" fill="#000" transform="translate(520.2 670.7) scale(0.8333 1)">27.4</text><line x1="510.3" y1="694.33" x2="516.5" y2="694.33" stroke="#000" stroke-width="0.9" stroke-linecap="butt"/><text x="0" y="0" font-size="9.96" text-anchor="start" fill="#000" transform="translate(520.2 698.05) scale(0.8333 1)">27.1</text><line x1="510.3" y1="721.69" x2="516.5" y2="721.69" stroke="#000" stroke-width="0.9" stroke-linecap="butt"/><text x="0" y="0" font-size="9.96" text-anchor="start" fill="#000" transform="translate(520.2 725.41) scale(0.8333 1)">26.8</text><line x1="510.3" y1="749.04" x2="516.5" y2="749.04" stroke="#000" stroke-width="0.9" stroke-linecap="butt"/><text x="0" y="0" font-size="9.96" text-anchor="start" fill="#000" transform="translate(520.2 752.77) scale(0.8333 1)">26.5</text><text x="489.5" y="559.93" font-size="12.3" text-anchor="start" fill="#000" font-weight="bold">Phase angle</text><text x="489.5" y="575.03" font-size="12.3" text-anchor="start" fill="#000" font-weight="bold">(deg)</text>
</svg></body></html>
